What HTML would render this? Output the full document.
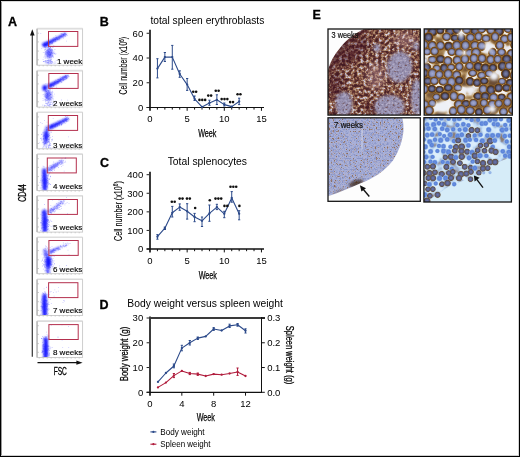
<!DOCTYPE html>
<html><head><meta charset="utf-8"><style>
html,body{margin:0;padding:0;background:#fff;width:520px;height:457px;overflow:hidden}
svg{display:block;will-change:transform}
text{font-family:"Liberation Sans", sans-serif}
</style></head><body>
<svg width="520" height="457" viewBox="0 0 520 457" font-family='"Liberation Sans", sans-serif'>
<rect width="520" height="457" fill="#fff"/>
<text x="8.1" y="25.5" font-size="12.5" text-anchor="start" fill="#000" font-weight="bold" stroke="#000" stroke-width="0.3">A</text>
<text x="99.8" y="25.5" font-size="12.5" text-anchor="start" fill="#000" font-weight="bold" stroke="#000" stroke-width="0.3">B</text>
<text x="99.9" y="167.1" font-size="12.5" text-anchor="start" fill="#000" font-weight="bold" stroke="#000" stroke-width="0.3">C</text>
<text x="99.5" y="308.9" font-size="12.5" text-anchor="start" fill="#000" font-weight="bold" stroke="#000" stroke-width="0.3">D</text>
<text x="312.6" y="18.9" font-size="12.5" text-anchor="start" fill="#000" font-weight="bold" stroke="#000" stroke-width="0.3">E</text>
<line x1="32.3" y1="33" x2="32.3" y2="356.7" stroke="#333" stroke-width="1.2"/>
<path d="M32.3 29.2 L34.6 35.6 L30 35.6 Z" fill="#111"/>
<line x1="37.5" y1="362.7" x2="78" y2="362.7" stroke="#111" stroke-width="1.2"/>
<path d="M82.6 362.7 L76.4 360.6 L76.4 364.8 Z" fill="#111"/>
<text transform="translate(22.5,193) rotate(-90)" x="0" y="0" font-size="11" text-anchor="middle" fill="#000" textLength="17.5" lengthAdjust="spacingAndGlyphs" dy="3.8" stroke="#000" stroke-width="0.3">CD44</text>
<text x="60.3" y="375.2" font-size="10.9" text-anchor="middle" fill="#000" textLength="13.2" lengthAdjust="spacingAndGlyphs" stroke="#000" stroke-width="0.3">FSC</text>
<defs><filter id="fb" x="-30%" y="-30%" width="160%" height="160%"><feGaussianBlur stdDeviation="1.05"/></filter></defs>
<g>
<rect x="37.2" y="28.8" width="45.4" height="36.40" fill="#fff" stroke="#c8c8c8" stroke-width="0.9"/>
<line x1="37.2" y1="28.5" x2="82.6" y2="28.5" stroke="#dedede" stroke-width="1.4"/>
<line x1="37.0" y1="28.8" x2="37.0" y2="65.2" stroke="#b4b4b4" stroke-width="1.3"/>
<line x1="37.6" y1="33.2" x2="38.800000000000004" y2="33.2" stroke="#999" stroke-width="0.6"/>
<line x1="37.6" y1="41.9" x2="38.800000000000004" y2="41.9" stroke="#999" stroke-width="0.6"/>
<line x1="37.6" y1="51.1" x2="38.800000000000004" y2="51.1" stroke="#999" stroke-width="0.6"/>
<line x1="37.6" y1="59.8" x2="38.800000000000004" y2="59.8" stroke="#999" stroke-width="0.6"/>
<line x1="39.2" y1="65.2" x2="39.2" y2="66.4" stroke="#aaa" stroke-width="0.5"/>
<line x1="43.2" y1="65.2" x2="43.2" y2="66.4" stroke="#aaa" stroke-width="0.5"/>
<line x1="47.2" y1="65.2" x2="47.2" y2="66.4" stroke="#aaa" stroke-width="0.5"/>
<line x1="51.2" y1="65.2" x2="51.2" y2="66.4" stroke="#aaa" stroke-width="0.5"/>
<line x1="55.2" y1="65.2" x2="55.2" y2="66.4" stroke="#aaa" stroke-width="0.5"/>
<line x1="59.2" y1="65.2" x2="59.2" y2="66.4" stroke="#aaa" stroke-width="0.5"/>
<line x1="63.2" y1="65.2" x2="63.2" y2="66.4" stroke="#aaa" stroke-width="0.5"/>
<line x1="67.2" y1="65.2" x2="67.2" y2="66.4" stroke="#aaa" stroke-width="0.5"/>
<line x1="71.2" y1="65.2" x2="71.2" y2="66.4" stroke="#aaa" stroke-width="0.5"/>
<line x1="75.2" y1="65.2" x2="75.2" y2="66.4" stroke="#aaa" stroke-width="0.5"/>
<line x1="79.2" y1="65.2" x2="79.2" y2="66.4" stroke="#aaa" stroke-width="0.5"/>
<clipPath id="pc0"><rect x="37.6" y="29.2" width="44.6" height="35.60"/></clipPath>
<g clip-path="url(#pc0)"><g filter="url(#fb)">
<linearGradient id="g0_0" gradientUnits="userSpaceOnUse" x1="43.2" y1="45.3" x2="66.0" y2="33.8"><stop offset="0" stop-color="#0a0aff" stop-opacity="1.0"/><stop offset="1" stop-color="#0a0aff" stop-opacity="0.75"/></linearGradient>
<path d="M44.0 47.0 L49.9 43.9 L57.8 39.6 L66.5 34.8 L65.5 32.8 L56.6 37.2 L48.5 40.9 L42.4 43.6Z" fill="url(#g0_0)"/>
<ellipse cx="45.2" cy="44.8" rx="2.8" ry="2.3" fill="#1414ff" fill-opacity="1.0"/>
<ellipse cx="45.2" cy="44.8" rx="2.0" ry="1.7" fill="#1414ff" fill-opacity="1.0"/>
<ellipse cx="49.2" cy="53.3" rx="3.2" ry="4.8" fill="#1414ff" fill-opacity="0.55"/>
<ellipse cx="48.2" cy="62.3" rx="3" ry="1.5" fill="#1414ff" fill-opacity="0.3"/>
</g>
<path d="M59.1 37.2h.8v.8h-.8zM48.6 43.3h.8v.8h-.8zM43.1 44.6h.8v.8h-.8zM54.5 38.8h.8v.8h-.8zM48.1 42.1h.8v.8h-.8zM55.5 39.3h.8v.8h-.8zM58.7 39.6h.8v.8h-.8zM46.8 45.1h.8v.8h-.8zM44.7 47.0h.8v.8h-.8zM63.9 33.3h.8v.8h-.8zM54.8 40.6h.8v.8h-.8zM48.6 42.5h.8v.8h-.8zM52.1 41.3h.8v.8h-.8zM47.7 43.5h.8v.8h-.8zM53.3 40.0h.8v.8h-.8zM60.9 36.8h.8v.8h-.8zM53.4 37.3h.8v.8h-.8zM55.5 39.2h.8v.8h-.8zM48.7 41.2h.8v.8h-.8zM51.8 43.4h.8v.8h-.8zM55.9 37.1h.8v.8h-.8zM45.5 42.3h.8v.8h-.8zM52.2 41.9h.8v.8h-.8zM47.3 42.3h.8v.8h-.8zM63.1 34.8h.8v.8h-.8zM62.6 34.0h.8v.8h-.8zM57.0 39.0h.8v.8h-.8zM62.5 33.8h.8v.8h-.8zM63.0 34.7h.8v.8h-.8zM52.9 39.6h.8v.8h-.8zM43.3 45.4h.8v.8h-.8zM54.9 39.7h.8v.8h-.8zM42.5 44.7h.8v.8h-.8zM46.1 43.7h.8v.8h-.8zM52.9 40.6h.8v.8h-.8zM51.2 42.4h.8v.8h-.8zM50.4 41.6h.8v.8h-.8zM63.5 34.3h.8v.8h-.8zM45.2 44.3h.8v.8h-.8zM47.1 42.3h.8v.8h-.8zM43.8 43.5h.8v.8h-.8zM53.6 38.3h.8v.8h-.8zM49.0 44.7h.8v.8h-.8zM52.7 41.1h.8v.8h-.8zM48.9 41.2h.8v.8h-.8zM54.2 39.0h.8v.8h-.8zM55.2 40.4h.8v.8h-.8zM56.3 36.7h.8v.8h-.8zM52.4 38.6h.8v.8h-.8zM54.6 38.7h.8v.8h-.8zM48.5 41.2h.8v.8h-.8zM60.3 36.3h.8v.8h-.8zM50.4 42.0h.8v.8h-.8zM44.1 42.7h.8v.8h-.8zM49.6 54.0h.8v.8h-.8zM45.5 57.2h.8v.8h-.8zM53.1 41.1h.8v.8h-.8zM48.4 47.0h.8v.8h-.8zM46.8 45.3h.8v.8h-.8zM46.1 53.5h.8v.8h-.8zM47.1 53.5h.8v.8h-.8zM50.9 53.3h.8v.8h-.8zM48.5 51.3h.8v.8h-.8zM45.4 51.0h.8v.8h-.8zM48.8 51.9h.8v.8h-.8zM49.5 48.4h.8v.8h-.8zM50.7 46.3h.8v.8h-.8zM47.4 52.6h.8v.8h-.8zM50.7 59.1h.8v.8h-.8zM48.8 42.4h.8v.8h-.8zM52.8 52.1h.8v.8h-.8zM48.5 48.1h.8v.8h-.8zM52.0 50.3h.8v.8h-.8zM50.3 52.4h.8v.8h-.8zM49.0 55.2h.8v.8h-.8zM42.9 52.3h.8v.8h-.8zM51.3 41.4h.8v.8h-.8zM52.4 55.2h.8v.8h-.8zM51.7 62.6h.8v.8h-.8zM49.1 60.4h.8v.8h-.8zM52.1 47.0h.8v.8h-.8zM52.1 56.0h.8v.8h-.8zM52.3 49.7h.8v.8h-.8zM49.9 49.6h.8v.8h-.8zM48.0 59.3h.8v.8h-.8zM53.5 53.2h.8v.8h-.8zM44.6 47.3h.8v.8h-.8zM50.9 52.3h.8v.8h-.8zM52.4 53.7h.8v.8h-.8zM44.7 49.1h.8v.8h-.8zM51.2 63.1h.8v.8h-.8zM51.1 51.5h.8v.8h-.8zM43.5 56.7h.8v.8h-.8zM44.5 55.5h.8v.8h-.8zM42.7 59.3h.8v.8h-.8zM44.2 49.8h.8v.8h-.8zM50.2 47.0h.8v.8h-.8zM47.7 51.0h.8v.8h-.8zM52.9 57.0h.8v.8h-.8zM48.4 54.2h.8v.8h-.8zM55.6 53.5h.8v.8h-.8zM48.6 57.9h.8v.8h-.8zM49.4 51.5h.8v.8h-.8zM51.1 56.5h.8v.8h-.8zM47.3 56.2h.8v.8h-.8zM47.4 55.5h.8v.8h-.8zM47.1 49.7h.8v.8h-.8zM51.2 53.3h.8v.8h-.8zM52.7 55.7h.8v.8h-.8zM48.5 54.7h.8v.8h-.8zM43.1 61.3h.8v.8h-.8zM49.9 60.5h.8v.8h-.8zM46.8 60.3h.8v.8h-.8zM45.3 60.1h.8v.8h-.8zM48.6 61.5h.8v.8h-.8zM48.0 60.2h.8v.8h-.8zM52.5 62.2h.8v.8h-.8zM51.8 60.9h.8v.8h-.8zM52.2 62.4h.8v.8h-.8zM50.5 62.3h.8v.8h-.8zM49.6 63.1h.8v.8h-.8zM47.8 59.7h.8v.8h-.8zM50.2 59.9h.8v.8h-.8zM69.5 60.5h.8v.8h-.8zM52.3 61.9h.8v.8h-.8zM40.4 33.3h.8v.8h-.8zM61.6 33.5h.8v.8h-.8z" fill="#2020ff" fill-opacity="0.3"/>
<path d="M62.6 36.0h.8v.8h-.8zM51.5 43.5h.8v.8h-.8zM61.0 36.1h.8v.8h-.8zM50.0 42.3h.8v.8h-.8zM53.7 40.0h.8v.8h-.8zM64.4 32.5h.8v.8h-.8zM64.9 32.9h.8v.8h-.8zM56.5 38.5h.8v.8h-.8zM54.5 39.2h.8v.8h-.8zM58.7 38.1h.8v.8h-.8zM48.1 41.4h.8v.8h-.8zM59.8 37.7h.8v.8h-.8zM44.1 45.6h.8v.8h-.8zM48.7 42.4h.8v.8h-.8zM63.2 37.6h.8v.8h-.8zM47.3 42.4h.8v.8h-.8zM60.9 33.7h.8v.8h-.8zM44.5 44.5h.8v.8h-.8zM44.3 42.8h.8v.8h-.8zM65.0 34.3h.8v.8h-.8zM55.9 37.9h.8v.8h-.8zM51.3 40.4h.8v.8h-.8zM45.8 45.4h.8v.8h-.8zM57.2 38.1h.8v.8h-.8zM57.2 37.3h.8v.8h-.8zM66.7 35.3h.8v.8h-.8zM46.4 44.7h.8v.8h-.8zM55.1 39.1h.8v.8h-.8zM57.7 39.1h.8v.8h-.8zM52.4 39.6h.8v.8h-.8zM60.7 33.1h.8v.8h-.8zM51.9 43.1h.8v.8h-.8zM50.5 39.8h.8v.8h-.8zM65.0 35.9h.8v.8h-.8zM55.9 37.4h.8v.8h-.8zM55.3 37.1h.8v.8h-.8zM56.1 38.2h.8v.8h-.8zM46.6 43.5h.8v.8h-.8zM61.7 36.3h.8v.8h-.8zM53.0 40.4h.8v.8h-.8zM57.3 38.1h.8v.8h-.8zM59.2 37.9h.8v.8h-.8zM51.7 40.3h.8v.8h-.8zM63.9 33.6h.8v.8h-.8zM51.0 42.8h.8v.8h-.8zM66.0 33.9h.8v.8h-.8zM63.1 34.0h.8v.8h-.8zM54.5 41.1h.8v.8h-.8zM63.3 34.6h.8v.8h-.8zM55.4 38.1h.8v.8h-.8zM60.1 36.4h.8v.8h-.8zM56.9 38.7h.8v.8h-.8zM52.3 39.7h.8v.8h-.8zM54.4 52.4h.8v.8h-.8zM54.5 49.1h.8v.8h-.8zM51.5 49.5h.8v.8h-.8zM50.7 49.0h.8v.8h-.8zM46.5 60.0h.8v.8h-.8zM48.1 53.7h.8v.8h-.8zM49.1 59.6h.8v.8h-.8zM47.5 50.5h.8v.8h-.8zM49.9 53.0h.8v.8h-.8zM49.9 53.8h.8v.8h-.8zM48.4 44.5h.8v.8h-.8zM48.2 49.4h.8v.8h-.8zM49.9 54.4h.8v.8h-.8zM50.5 54.9h.8v.8h-.8zM51.0 55.7h.8v.8h-.8zM52.0 54.9h.8v.8h-.8zM50.3 47.1h.8v.8h-.8zM50.0 61.7h.8v.8h-.8zM47.3 55.7h.8v.8h-.8zM49.0 57.1h.8v.8h-.8zM50.2 49.3h.8v.8h-.8zM44.4 52.2h.8v.8h-.8zM51.7 55.5h.8v.8h-.8zM48.9 56.2h.8v.8h-.8zM50.0 57.3h.8v.8h-.8zM48.8 53.6h.8v.8h-.8zM46.5 53.0h.8v.8h-.8zM46.6 55.3h.8v.8h-.8zM50.6 51.7h.8v.8h-.8zM46.8 54.7h.8v.8h-.8zM49.4 52.2h.8v.8h-.8zM55.5 62.8h.8v.8h-.8zM46.5 54.3h.8v.8h-.8zM51.1 50.4h.8v.8h-.8zM50.6 49.8h.8v.8h-.8zM47.1 52.2h.8v.8h-.8zM48.5 52.2h.8v.8h-.8zM54.6 61.5h.8v.8h-.8zM48.7 55.8h.8v.8h-.8zM47.1 52.3h.8v.8h-.8zM49.9 58.8h.8v.8h-.8zM45.8 51.5h.8v.8h-.8zM50.0 53.3h.8v.8h-.8zM44.5 53.7h.8v.8h-.8zM47.3 60.3h.8v.8h-.8zM48.0 53.4h.8v.8h-.8zM48.5 56.2h.8v.8h-.8zM50.0 54.3h.8v.8h-.8zM53.4 45.0h.8v.8h-.8zM53.1 46.7h.8v.8h-.8zM46.6 44.5h.8v.8h-.8zM50.1 60.9h.8v.8h-.8zM45.8 55.8h.8v.8h-.8zM50.2 54.3h.8v.8h-.8zM50.3 55.6h.8v.8h-.8zM45.4 61.2h.8v.8h-.8zM47.9 60.5h.8v.8h-.8zM48.1 63.6h.8v.8h-.8zM50.6 59.7h.8v.8h-.8zM46.8 58.0h.8v.8h-.8zM42.9 61.0h.8v.8h-.8zM50.1 60.8h.8v.8h-.8zM51.7 60.9h.8v.8h-.8zM50.5 60.9h.8v.8h-.8zM43.0 61.3h.8v.8h-.8zM50.6 59.8h.8v.8h-.8zM46.9 62.4h.8v.8h-.8zM48.1 63.4h.8v.8h-.8zM41.3 47.9h.8v.8h-.8zM47.5 41.9h.8v.8h-.8zM49.5 47.9h.8v.8h-.8zM53.5 63.5h.8v.8h-.8z" fill="#2020ff" fill-opacity="0.3"/>
<path d="M59.5 35.5h.8v.8h-.8zM61.3 34.9h.8v.8h-.8zM59.2 36.1h.8v.8h-.8zM49.5 44.3h.8v.8h-.8zM54.0 38.3h.8v.8h-.8zM59.7 35.0h.8v.8h-.8zM48.4 44.0h.8v.8h-.8zM43.6 45.4h.8v.8h-.8zM53.5 39.3h.8v.8h-.8zM55.5 41.0h.8v.8h-.8zM41.9 44.2h.8v.8h-.8zM47.6 42.8h.8v.8h-.8zM62.8 35.4h.8v.8h-.8zM64.7 35.1h.8v.8h-.8zM58.1 38.6h.8v.8h-.8zM57.0 39.5h.8v.8h-.8zM52.2 42.1h.8v.8h-.8zM52.8 39.0h.8v.8h-.8zM61.9 36.6h.8v.8h-.8zM56.5 37.7h.8v.8h-.8zM58.2 37.3h.8v.8h-.8zM49.1 41.3h.8v.8h-.8zM63.9 35.4h.8v.8h-.8zM49.0 41.7h.8v.8h-.8zM46.6 42.4h.8v.8h-.8zM62.0 34.7h.8v.8h-.8zM47.5 41.2h.8v.8h-.8zM48.1 43.7h.8v.8h-.8zM55.7 39.0h.8v.8h-.8zM46.2 43.4h.8v.8h-.8zM50.1 41.4h.8v.8h-.8zM60.2 36.2h.8v.8h-.8zM45.1 47.7h.8v.8h-.8zM57.9 37.0h.8v.8h-.8zM63.4 34.8h.8v.8h-.8zM59.1 38.6h.8v.8h-.8zM59.0 35.9h.8v.8h-.8zM62.7 34.0h.8v.8h-.8zM60.9 34.8h.8v.8h-.8zM58.7 36.9h.8v.8h-.8zM61.1 35.5h.8v.8h-.8zM48.1 42.1h.8v.8h-.8zM47.2 43.7h.8v.8h-.8zM55.7 39.4h.8v.8h-.8zM65.7 34.3h.8v.8h-.8zM54.9 39.4h.8v.8h-.8zM59.7 36.7h.8v.8h-.8zM63.6 34.0h.8v.8h-.8zM44.0 45.7h.8v.8h-.8zM64.7 33.5h.8v.8h-.8zM58.3 36.6h.8v.8h-.8zM64.8 33.3h.8v.8h-.8zM46.0 41.6h.8v.8h-.8zM49.9 53.7h.8v.8h-.8zM44.8 49.2h.8v.8h-.8zM45.3 52.2h.8v.8h-.8zM52.1 48.9h.8v.8h-.8zM51.5 52.0h.8v.8h-.8zM49.0 53.4h.8v.8h-.8zM54.4 53.2h.8v.8h-.8zM49.0 49.1h.8v.8h-.8zM47.2 49.5h.8v.8h-.8zM45.4 54.1h.8v.8h-.8zM49.5 54.5h.8v.8h-.8zM48.4 51.3h.8v.8h-.8zM48.8 51.8h.8v.8h-.8zM50.0 55.5h.8v.8h-.8zM49.8 47.0h.8v.8h-.8zM44.8 58.0h.8v.8h-.8zM45.6 50.9h.8v.8h-.8zM53.7 53.3h.8v.8h-.8zM50.3 54.3h.8v.8h-.8zM50.8 58.6h.8v.8h-.8zM44.6 56.4h.8v.8h-.8zM47.5 49.9h.8v.8h-.8zM47.5 53.7h.8v.8h-.8zM51.1 61.5h.8v.8h-.8zM47.7 53.6h.8v.8h-.8zM49.8 59.8h.8v.8h-.8zM48.6 57.3h.8v.8h-.8zM47.4 46.9h.8v.8h-.8zM52.1 52.7h.8v.8h-.8zM47.2 56.8h.8v.8h-.8zM51.8 51.0h.8v.8h-.8zM49.4 54.8h.8v.8h-.8zM50.5 50.1h.8v.8h-.8zM48.8 54.8h.8v.8h-.8zM48.2 49.2h.8v.8h-.8zM48.6 57.0h.8v.8h-.8zM51.9 53.3h.8v.8h-.8zM52.6 56.0h.8v.8h-.8zM50.8 56.9h.8v.8h-.8zM51.1 52.3h.8v.8h-.8zM47.5 52.3h.8v.8h-.8zM54.7 53.9h.8v.8h-.8zM49.4 44.8h.8v.8h-.8zM48.3 53.5h.8v.8h-.8zM54.4 62.7h.8v.8h-.8zM49.0 53.5h.8v.8h-.8zM46.2 52.1h.8v.8h-.8zM51.2 48.8h.8v.8h-.8zM53.6 50.8h.8v.8h-.8zM47.3 51.4h.8v.8h-.8zM51.3 52.5h.8v.8h-.8zM48.2 47.1h.8v.8h-.8zM48.6 46.9h.8v.8h-.8zM47.4 44.9h.8v.8h-.8zM51.0 54.0h.8v.8h-.8zM45.1 53.1h.8v.8h-.8zM49.5 48.3h.8v.8h-.8zM48.5 60.6h.8v.8h-.8zM55.9 60.0h.8v.8h-.8zM46.7 61.7h.8v.8h-.8zM43.9 61.1h.8v.8h-.8zM50.6 62.8h.8v.8h-.8zM44.7 60.4h.8v.8h-.8zM51.0 60.7h.8v.8h-.8zM47.9 62.4h.8v.8h-.8zM48.2 62.0h.8v.8h-.8zM45.4 61.6h.8v.8h-.8zM47.4 62.0h.8v.8h-.8zM45.3 61.4h.8v.8h-.8zM65.7 59.6h.8v.8h-.8zM66.2 40.8h.8v.8h-.8zM55.4 34.9h.8v.8h-.8zM46.2 50.3h.8v.8h-.8z" fill="#2020ff" fill-opacity="0.3"/>
</g>
<rect x="48.5" y="31.50" width="29.3" height="14.9" fill="none" stroke="#b4304e" stroke-width="1"/>
<text x="82.3" y="63.6" font-size="8" text-anchor="end" fill="#000" stroke="#000" stroke-width="0.15">1 week</text>
<rect x="37.2" y="70.8" width="45.4" height="36.30" fill="#fff" stroke="#c8c8c8" stroke-width="0.9"/>
<line x1="37.2" y1="70.5" x2="82.6" y2="70.5" stroke="#dedede" stroke-width="1.4"/>
<line x1="37.0" y1="70.8" x2="37.0" y2="107.1" stroke="#b4b4b4" stroke-width="1.3"/>
<line x1="37.6" y1="75.2" x2="38.800000000000004" y2="75.2" stroke="#999" stroke-width="0.6"/>
<line x1="37.6" y1="83.89999999999999" x2="38.800000000000004" y2="83.89999999999999" stroke="#999" stroke-width="0.6"/>
<line x1="37.6" y1="93.1" x2="38.800000000000004" y2="93.1" stroke="#999" stroke-width="0.6"/>
<line x1="37.6" y1="101.8" x2="38.800000000000004" y2="101.8" stroke="#999" stroke-width="0.6"/>
<line x1="39.2" y1="107.1" x2="39.2" y2="108.3" stroke="#aaa" stroke-width="0.5"/>
<line x1="43.2" y1="107.1" x2="43.2" y2="108.3" stroke="#aaa" stroke-width="0.5"/>
<line x1="47.2" y1="107.1" x2="47.2" y2="108.3" stroke="#aaa" stroke-width="0.5"/>
<line x1="51.2" y1="107.1" x2="51.2" y2="108.3" stroke="#aaa" stroke-width="0.5"/>
<line x1="55.2" y1="107.1" x2="55.2" y2="108.3" stroke="#aaa" stroke-width="0.5"/>
<line x1="59.2" y1="107.1" x2="59.2" y2="108.3" stroke="#aaa" stroke-width="0.5"/>
<line x1="63.2" y1="107.1" x2="63.2" y2="108.3" stroke="#aaa" stroke-width="0.5"/>
<line x1="67.2" y1="107.1" x2="67.2" y2="108.3" stroke="#aaa" stroke-width="0.5"/>
<line x1="71.2" y1="107.1" x2="71.2" y2="108.3" stroke="#aaa" stroke-width="0.5"/>
<line x1="75.2" y1="107.1" x2="75.2" y2="108.3" stroke="#aaa" stroke-width="0.5"/>
<line x1="79.2" y1="107.1" x2="79.2" y2="108.3" stroke="#aaa" stroke-width="0.5"/>
<clipPath id="pc1"><rect x="37.6" y="71.2" width="44.6" height="35.50"/></clipPath>
<g clip-path="url(#pc1)"><g filter="url(#fb)">
<linearGradient id="g1_0" gradientUnits="userSpaceOnUse" x1="48.2" y1="86.4" x2="67.4" y2="75.9"><stop offset="0" stop-color="#0a0aff" stop-opacity="1.0"/><stop offset="1" stop-color="#0a0aff" stop-opacity="0.75"/></linearGradient>
<path d="M49.0 88.0 L57.9 83.1 L68.0 76.9 L66.8 74.9 L56.5 80.5 L47.4 84.8Z" fill="url(#g1_0)"/>
<ellipse cx="44.800000000000004" cy="87.9" rx="2.4" ry="2.8" fill="#1414ff" fill-opacity="1.0"/>
<ellipse cx="44.800000000000004" cy="87.9" rx="1.7" ry="2.0" fill="#1414ff" fill-opacity="1.0"/>
<ellipse cx="48.2" cy="95.8" rx="2.8" ry="5.2" fill="#1414ff" fill-opacity="0.55"/>
</g>
<path d="M60.9 79.0h.8v.8h-.8zM67.5 76.6h.8v.8h-.8zM51.5 85.5h.8v.8h-.8zM62.4 79.2h.8v.8h-.8zM53.3 84.9h.8v.8h-.8zM62.4 80.3h.8v.8h-.8zM64.6 76.0h.8v.8h-.8zM57.5 82.4h.8v.8h-.8zM53.6 84.7h.8v.8h-.8zM55.8 82.9h.8v.8h-.8zM59.8 76.5h.8v.8h-.8zM67.6 75.2h.8v.8h-.8zM64.3 76.7h.8v.8h-.8zM55.7 82.3h.8v.8h-.8zM59.1 80.2h.8v.8h-.8zM63.8 77.2h.8v.8h-.8zM56.6 83.1h.8v.8h-.8zM60.7 79.5h.8v.8h-.8zM65.5 77.8h.8v.8h-.8zM63.2 78.6h.8v.8h-.8zM53.6 84.0h.8v.8h-.8zM59.9 80.1h.8v.8h-.8zM56.8 81.0h.8v.8h-.8zM52.9 84.5h.8v.8h-.8zM54.3 82.6h.8v.8h-.8zM53.4 85.7h.8v.8h-.8zM57.4 82.6h.8v.8h-.8zM60.9 79.2h.8v.8h-.8zM57.0 81.1h.8v.8h-.8zM65.1 78.9h.8v.8h-.8zM56.6 82.7h.8v.8h-.8zM61.1 77.3h.8v.8h-.8zM66.2 76.7h.8v.8h-.8zM65.6 75.5h.8v.8h-.8zM54.2 83.8h.8v.8h-.8zM58.3 81.4h.8v.8h-.8zM61.7 77.5h.8v.8h-.8zM51.9 87.2h.8v.8h-.8zM57.4 82.0h.8v.8h-.8zM58.7 79.3h.8v.8h-.8zM63.6 79.1h.8v.8h-.8zM66.7 75.1h.8v.8h-.8zM58.4 80.8h.8v.8h-.8zM60.9 78.9h.8v.8h-.8zM65.4 75.3h.8v.8h-.8zM53.0 85.0h.8v.8h-.8zM63.0 79.9h.8v.8h-.8zM66.3 78.3h.8v.8h-.8zM60.2 78.3h.8v.8h-.8zM50.7 83.6h.8v.8h-.8zM49.7 92.7h.8v.8h-.8zM49.3 93.0h.8v.8h-.8zM48.6 90.2h.8v.8h-.8zM50.0 104.5h.8v.8h-.8zM48.1 90.0h.8v.8h-.8zM45.6 95.0h.8v.8h-.8zM51.3 92.1h.8v.8h-.8zM44.8 96.4h.8v.8h-.8zM45.2 89.9h.8v.8h-.8zM50.0 94.2h.8v.8h-.8zM46.7 93.9h.8v.8h-.8zM45.7 96.3h.8v.8h-.8zM50.1 104.0h.8v.8h-.8zM52.1 92.7h.8v.8h-.8zM48.6 94.8h.8v.8h-.8zM48.8 101.6h.8v.8h-.8zM43.2 89.8h.8v.8h-.8zM45.5 94.1h.8v.8h-.8zM46.7 91.4h.8v.8h-.8zM50.4 95.6h.8v.8h-.8zM47.2 93.7h.8v.8h-.8zM52.5 98.2h.8v.8h-.8zM50.2 101.9h.8v.8h-.8zM46.6 95.1h.8v.8h-.8zM51.3 99.4h.8v.8h-.8zM43.7 99.4h.8v.8h-.8zM47.9 102.6h.8v.8h-.8zM47.1 96.4h.8v.8h-.8zM44.9 99.1h.8v.8h-.8zM47.0 103.4h.8v.8h-.8zM52.3 97.4h.8v.8h-.8zM48.2 96.0h.8v.8h-.8zM45.2 93.4h.8v.8h-.8zM48.3 87.5h.8v.8h-.8zM51.5 99.0h.8v.8h-.8zM50.2 97.8h.8v.8h-.8zM47.7 94.4h.8v.8h-.8zM48.5 90.2h.8v.8h-.8zM46.3 93.3h.8v.8h-.8zM51.0 84.9h.8v.8h-.8zM46.0 97.3h.8v.8h-.8zM48.5 103.9h.8v.8h-.8zM48.9 100.0h.8v.8h-.8zM48.7 90.8h.8v.8h-.8zM46.8 93.1h.8v.8h-.8zM48.8 102.7h.8v.8h-.8zM48.0 94.6h.8v.8h-.8zM47.5 94.7h.8v.8h-.8zM48.6 94.0h.8v.8h-.8zM45.4 103.1h.8v.8h-.8zM43.7 89.6h.8v.8h-.8zM42.6 98.2h.8v.8h-.8zM44.6 91.0h.8v.8h-.8zM46.1 91.4h.8v.8h-.8zM46.2 97.4h.8v.8h-.8zM52.9 105.7h.8v.8h-.8zM46.4 103.4h.8v.8h-.8zM50.0 100.5h.8v.8h-.8zM42.1 104.8h.8v.8h-.8zM48.5 105.0h.8v.8h-.8zM47.1 103.4h.8v.8h-.8zM44.0 105.6h.8v.8h-.8zM48.7 101.7h.8v.8h-.8zM49.4 102.8h.8v.8h-.8zM50.3 105.9h.8v.8h-.8zM51.7 84.7h.8v.8h-.8zM45.5 83.3h.8v.8h-.8zM51.0 97.3h.8v.8h-.8zM48.6 105.0h.8v.8h-.8z" fill="#2020ff" fill-opacity="0.3"/>
<path d="M60.0 79.4h.8v.8h-.8zM67.8 74.7h.8v.8h-.8zM56.9 81.3h.8v.8h-.8zM60.0 78.8h.8v.8h-.8zM64.0 79.0h.8v.8h-.8zM53.1 84.4h.8v.8h-.8zM59.3 80.7h.8v.8h-.8zM61.7 78.8h.8v.8h-.8zM51.1 86.2h.8v.8h-.8zM61.0 81.9h.8v.8h-.8zM53.3 83.2h.8v.8h-.8zM58.8 81.0h.8v.8h-.8zM54.7 81.5h.8v.8h-.8zM62.1 77.3h.8v.8h-.8zM66.0 75.8h.8v.8h-.8zM60.5 79.3h.8v.8h-.8zM51.5 84.2h.8v.8h-.8zM51.3 87.8h.8v.8h-.8zM68.5 76.0h.8v.8h-.8zM52.5 84.9h.8v.8h-.8zM64.3 76.5h.8v.8h-.8zM56.5 81.2h.8v.8h-.8zM54.9 83.9h.8v.8h-.8zM62.4 76.2h.8v.8h-.8zM50.5 87.2h.8v.8h-.8zM55.9 84.4h.8v.8h-.8zM57.8 81.3h.8v.8h-.8zM53.8 83.0h.8v.8h-.8zM65.7 78.6h.8v.8h-.8zM54.4 81.6h.8v.8h-.8zM59.2 80.6h.8v.8h-.8zM50.6 85.9h.8v.8h-.8zM51.0 85.5h.8v.8h-.8zM49.8 85.7h.8v.8h-.8zM50.8 85.0h.8v.8h-.8zM54.2 84.5h.8v.8h-.8zM63.6 76.0h.8v.8h-.8zM58.5 81.1h.8v.8h-.8zM64.9 76.1h.8v.8h-.8zM51.0 84.3h.8v.8h-.8zM63.4 79.0h.8v.8h-.8zM63.5 77.2h.8v.8h-.8zM65.1 76.6h.8v.8h-.8zM63.4 76.6h.8v.8h-.8zM57.5 81.3h.8v.8h-.8zM65.0 75.0h.8v.8h-.8zM58.2 81.4h.8v.8h-.8zM49.5 84.9h.8v.8h-.8zM51.9 85.3h.8v.8h-.8zM57.9 79.2h.8v.8h-.8zM49.8 98.5h.8v.8h-.8zM42.6 94.4h.8v.8h-.8zM45.3 100.4h.8v.8h-.8zM49.8 92.4h.8v.8h-.8zM45.8 102.8h.8v.8h-.8zM47.7 85.2h.8v.8h-.8zM47.9 105.1h.8v.8h-.8zM47.3 100.2h.8v.8h-.8zM52.4 92.2h.8v.8h-.8zM50.3 97.2h.8v.8h-.8zM43.7 93.7h.8v.8h-.8zM49.4 89.0h.8v.8h-.8zM50.4 94.1h.8v.8h-.8zM48.5 88.7h.8v.8h-.8zM51.7 91.3h.8v.8h-.8zM46.9 93.5h.8v.8h-.8zM48.9 95.3h.8v.8h-.8zM47.8 91.7h.8v.8h-.8zM50.1 93.9h.8v.8h-.8zM52.9 99.6h.8v.8h-.8zM45.0 101.4h.8v.8h-.8zM46.5 97.8h.8v.8h-.8zM48.6 98.0h.8v.8h-.8zM47.2 95.4h.8v.8h-.8zM56.0 86.7h.8v.8h-.8zM45.0 96.6h.8v.8h-.8zM47.0 103.4h.8v.8h-.8zM47.9 83.1h.8v.8h-.8zM45.2 90.6h.8v.8h-.8zM45.8 95.5h.8v.8h-.8zM47.9 92.9h.8v.8h-.8zM50.1 99.0h.8v.8h-.8zM44.7 99.7h.8v.8h-.8zM45.9 96.2h.8v.8h-.8zM47.0 87.7h.8v.8h-.8zM49.9 89.8h.8v.8h-.8zM51.1 93.9h.8v.8h-.8zM46.0 90.8h.8v.8h-.8zM45.8 96.4h.8v.8h-.8zM49.1 92.7h.8v.8h-.8zM46.0 94.8h.8v.8h-.8zM46.0 93.3h.8v.8h-.8zM47.8 98.9h.8v.8h-.8zM48.9 98.7h.8v.8h-.8zM42.6 100.0h.8v.8h-.8zM49.3 89.7h.8v.8h-.8zM46.7 91.8h.8v.8h-.8zM50.4 93.6h.8v.8h-.8zM47.1 94.2h.8v.8h-.8zM44.5 92.6h.8v.8h-.8zM48.2 98.6h.8v.8h-.8zM49.4 86.0h.8v.8h-.8zM50.9 97.4h.8v.8h-.8zM48.9 106.0h.8v.8h-.8zM51.5 101.8h.8v.8h-.8zM48.9 104.8h.8v.8h-.8zM47.2 105.1h.8v.8h-.8zM46.4 102.9h.8v.8h-.8zM46.1 105.6h.8v.8h-.8zM52.5 105.0h.8v.8h-.8zM44.9 105.3h.8v.8h-.8zM47.7 102.6h.8v.8h-.8zM47.4 92.3h.8v.8h-.8zM67.3 99.7h.8v.8h-.8zM61.0 99.6h.8v.8h-.8zM50.7 96.6h.8v.8h-.8z" fill="#2020ff" fill-opacity="0.3"/>
<path d="M56.3 82.8h.8v.8h-.8zM51.3 85.1h.8v.8h-.8zM62.7 76.8h.8v.8h-.8zM58.8 80.7h.8v.8h-.8zM50.3 86.8h.8v.8h-.8zM59.4 79.3h.8v.8h-.8zM50.1 84.6h.8v.8h-.8zM49.9 84.0h.8v.8h-.8zM59.7 80.6h.8v.8h-.8zM57.6 83.1h.8v.8h-.8zM68.5 76.3h.8v.8h-.8zM57.8 82.4h.8v.8h-.8zM63.3 80.0h.8v.8h-.8zM55.3 82.6h.8v.8h-.8zM49.9 85.9h.8v.8h-.8zM56.9 82.1h.8v.8h-.8zM54.5 83.5h.8v.8h-.8zM62.4 78.3h.8v.8h-.8zM65.5 76.8h.8v.8h-.8zM66.1 77.6h.8v.8h-.8zM66.5 76.5h.8v.8h-.8zM52.6 85.2h.8v.8h-.8zM53.3 86.0h.8v.8h-.8zM65.2 75.4h.8v.8h-.8zM54.5 82.1h.8v.8h-.8zM61.5 81.8h.8v.8h-.8zM54.2 83.4h.8v.8h-.8zM56.9 81.1h.8v.8h-.8zM54.3 81.3h.8v.8h-.8zM65.4 77.1h.8v.8h-.8zM66.4 77.9h.8v.8h-.8zM50.5 83.6h.8v.8h-.8zM55.2 79.8h.8v.8h-.8zM52.8 85.7h.8v.8h-.8zM57.9 79.5h.8v.8h-.8zM53.6 84.6h.8v.8h-.8zM60.0 81.1h.8v.8h-.8zM60.8 80.9h.8v.8h-.8zM54.7 83.3h.8v.8h-.8zM59.2 80.4h.8v.8h-.8zM55.4 83.5h.8v.8h-.8zM58.6 81.6h.8v.8h-.8zM52.8 82.5h.8v.8h-.8zM57.4 79.1h.8v.8h-.8zM57.6 81.5h.8v.8h-.8zM55.4 81.8h.8v.8h-.8zM66.2 76.2h.8v.8h-.8zM67.7 74.7h.8v.8h-.8zM60.5 81.1h.8v.8h-.8zM52.2 84.4h.8v.8h-.8zM43.6 94.3h.8v.8h-.8zM50.2 103.4h.8v.8h-.8zM51.4 100.5h.8v.8h-.8zM52.3 103.3h.8v.8h-.8zM43.8 96.2h.8v.8h-.8zM51.6 95.6h.8v.8h-.8zM45.0 94.5h.8v.8h-.8zM48.8 91.5h.8v.8h-.8zM49.5 92.4h.8v.8h-.8zM48.9 98.7h.8v.8h-.8zM44.5 95.1h.8v.8h-.8zM46.1 91.3h.8v.8h-.8zM52.0 88.5h.8v.8h-.8zM52.3 90.8h.8v.8h-.8zM46.4 98.0h.8v.8h-.8zM46.3 97.0h.8v.8h-.8zM49.6 95.5h.8v.8h-.8zM50.2 98.9h.8v.8h-.8zM45.8 91.0h.8v.8h-.8zM47.7 90.0h.8v.8h-.8zM52.1 94.6h.8v.8h-.8zM52.6 97.8h.8v.8h-.8zM45.9 92.5h.8v.8h-.8zM44.4 105.5h.8v.8h-.8zM49.7 97.8h.8v.8h-.8zM50.9 97.6h.8v.8h-.8zM52.1 94.8h.8v.8h-.8zM45.8 100.1h.8v.8h-.8zM48.2 90.5h.8v.8h-.8zM52.1 96.4h.8v.8h-.8zM51.5 100.4h.8v.8h-.8zM53.4 95.8h.8v.8h-.8zM47.8 92.5h.8v.8h-.8zM46.9 97.7h.8v.8h-.8zM50.0 94.1h.8v.8h-.8zM47.8 86.1h.8v.8h-.8zM47.3 95.6h.8v.8h-.8zM47.6 102.2h.8v.8h-.8zM47.4 96.9h.8v.8h-.8zM45.3 91.6h.8v.8h-.8zM49.3 92.2h.8v.8h-.8zM48.0 91.3h.8v.8h-.8zM51.2 93.4h.8v.8h-.8zM53.9 93.8h.8v.8h-.8zM48.7 105.7h.8v.8h-.8zM44.4 95.2h.8v.8h-.8zM47.2 93.7h.8v.8h-.8zM45.8 97.2h.8v.8h-.8zM48.0 101.5h.8v.8h-.8zM50.2 88.8h.8v.8h-.8zM46.9 96.3h.8v.8h-.8zM47.1 90.3h.8v.8h-.8zM49.7 91.0h.8v.8h-.8zM51.4 93.5h.8v.8h-.8zM52.4 104.0h.8v.8h-.8zM49.7 103.9h.8v.8h-.8zM51.1 104.3h.8v.8h-.8zM46.9 103.9h.8v.8h-.8zM43.7 104.8h.8v.8h-.8zM55.9 102.6h.8v.8h-.8zM54.4 102.7h.8v.8h-.8zM52.7 102.5h.8v.8h-.8zM50.7 102.0h.8v.8h-.8zM49.4 104.7h.8v.8h-.8zM49.0 104.0h.8v.8h-.8zM66.8 77.5h.8v.8h-.8zM54.9 100.6h.8v.8h-.8z" fill="#2020ff" fill-opacity="0.3"/>
</g>
<rect x="48.8" y="73.50" width="29.3" height="14.9" fill="none" stroke="#b4304e" stroke-width="1"/>
<text x="82.3" y="105.6" font-size="8" text-anchor="end" fill="#000" stroke="#000" stroke-width="0.15">2 weeks</text>
<rect x="37.2" y="112.5" width="45.4" height="36.30" fill="#fff" stroke="#c8c8c8" stroke-width="0.9"/>
<line x1="37.2" y1="112.2" x2="82.6" y2="112.2" stroke="#dedede" stroke-width="1.4"/>
<line x1="37.0" y1="112.5" x2="37.0" y2="148.8" stroke="#b4b4b4" stroke-width="1.3"/>
<line x1="37.6" y1="116.9" x2="38.800000000000004" y2="116.9" stroke="#999" stroke-width="0.6"/>
<line x1="37.6" y1="125.6" x2="38.800000000000004" y2="125.6" stroke="#999" stroke-width="0.6"/>
<line x1="37.6" y1="134.8" x2="38.800000000000004" y2="134.8" stroke="#999" stroke-width="0.6"/>
<line x1="37.6" y1="143.5" x2="38.800000000000004" y2="143.5" stroke="#999" stroke-width="0.6"/>
<line x1="39.2" y1="148.8" x2="39.2" y2="150.0" stroke="#aaa" stroke-width="0.5"/>
<line x1="43.2" y1="148.8" x2="43.2" y2="150.0" stroke="#aaa" stroke-width="0.5"/>
<line x1="47.2" y1="148.8" x2="47.2" y2="150.0" stroke="#aaa" stroke-width="0.5"/>
<line x1="51.2" y1="148.8" x2="51.2" y2="150.0" stroke="#aaa" stroke-width="0.5"/>
<line x1="55.2" y1="148.8" x2="55.2" y2="150.0" stroke="#aaa" stroke-width="0.5"/>
<line x1="59.2" y1="148.8" x2="59.2" y2="150.0" stroke="#aaa" stroke-width="0.5"/>
<line x1="63.2" y1="148.8" x2="63.2" y2="150.0" stroke="#aaa" stroke-width="0.5"/>
<line x1="67.2" y1="148.8" x2="67.2" y2="150.0" stroke="#aaa" stroke-width="0.5"/>
<line x1="71.2" y1="148.8" x2="71.2" y2="150.0" stroke="#aaa" stroke-width="0.5"/>
<line x1="75.2" y1="148.8" x2="75.2" y2="150.0" stroke="#aaa" stroke-width="0.5"/>
<line x1="79.2" y1="148.8" x2="79.2" y2="150.0" stroke="#aaa" stroke-width="0.5"/>
<clipPath id="pc2"><rect x="37.6" y="112.9" width="44.6" height="35.50"/></clipPath>
<g clip-path="url(#pc2)"><g filter="url(#fb)">
<linearGradient id="g2_0" gradientUnits="userSpaceOnUse" x1="49.2" y1="127.8" x2="68.3" y2="118.3"><stop offset="0" stop-color="#0a0aff" stop-opacity="1.0"/><stop offset="1" stop-color="#0a0aff" stop-opacity="0.75"/></linearGradient>
<path d="M50.0 129.6 L59.9 124.4 L68.8 119.3 L67.8 117.3 L58.5 121.6 L48.4 126.0Z" fill="url(#g2_0)"/>
<path d="M47.1 128.0 L46.2 135.5 L45.4 142.5" fill="none" stroke="#1414ff" stroke-width="3.8" stroke-linecap="round" stroke-linejoin="round" stroke-opacity="0.6"/>
<ellipse cx="46.2" cy="135.8" rx="2.5" ry="4.5" fill="#1414ff" fill-opacity="0.75"/>
</g>
<path d="M67.1 119.1h.8v.8h-.8zM51.7 124.7h.8v.8h-.8zM63.7 120.7h.8v.8h-.8zM66.1 118.8h.8v.8h-.8zM65.0 119.8h.8v.8h-.8zM54.3 124.1h.8v.8h-.8zM56.3 123.2h.8v.8h-.8zM57.3 124.5h.8v.8h-.8zM65.3 119.8h.8v.8h-.8zM59.0 123.4h.8v.8h-.8zM52.0 125.9h.8v.8h-.8zM51.6 128.0h.8v.8h-.8zM52.9 127.6h.8v.8h-.8zM63.1 121.0h.8v.8h-.8zM51.5 129.8h.8v.8h-.8zM67.4 118.9h.8v.8h-.8zM67.5 120.9h.8v.8h-.8zM54.6 123.4h.8v.8h-.8zM59.0 125.2h.8v.8h-.8zM57.0 123.1h.8v.8h-.8zM55.6 122.8h.8v.8h-.8zM60.7 122.6h.8v.8h-.8zM65.8 119.8h.8v.8h-.8zM61.7 123.1h.8v.8h-.8zM59.0 122.6h.8v.8h-.8zM65.2 117.9h.8v.8h-.8zM52.7 127.2h.8v.8h-.8zM65.6 119.4h.8v.8h-.8zM57.4 123.1h.8v.8h-.8zM66.3 119.2h.8v.8h-.8zM65.2 118.7h.8v.8h-.8zM57.2 125.3h.8v.8h-.8zM57.8 121.4h.8v.8h-.8zM55.4 125.6h.8v.8h-.8zM55.0 124.3h.8v.8h-.8zM54.3 124.0h.8v.8h-.8zM65.5 120.4h.8v.8h-.8zM64.6 119.1h.8v.8h-.8zM64.7 123.2h.8v.8h-.8zM68.8 119.3h.8v.8h-.8zM62.4 120.2h.8v.8h-.8zM60.6 120.8h.8v.8h-.8zM63.1 120.0h.8v.8h-.8zM64.7 120.3h.8v.8h-.8zM59.2 120.6h.8v.8h-.8zM51.6 127.0h.8v.8h-.8zM54.6 125.9h.8v.8h-.8zM57.3 124.2h.8v.8h-.8zM66.8 116.4h.8v.8h-.8zM66.8 118.5h.8v.8h-.8zM43.3 132.2h.8v.8h-.8zM44.5 135.4h.8v.8h-.8zM46.4 140.7h.8v.8h-.8zM45.3 133.7h.8v.8h-.8zM43.9 144.8h.8v.8h-.8zM46.0 138.9h.8v.8h-.8zM43.6 139.4h.8v.8h-.8zM46.5 136.6h.8v.8h-.8zM49.3 129.0h.8v.8h-.8zM45.0 141.4h.8v.8h-.8zM44.8 141.7h.8v.8h-.8zM45.3 133.7h.8v.8h-.8zM45.3 136.6h.8v.8h-.8zM49.1 137.4h.8v.8h-.8zM47.3 141.6h.8v.8h-.8zM45.5 136.0h.8v.8h-.8zM51.8 139.5h.8v.8h-.8zM47.2 139.5h.8v.8h-.8zM42.7 142.0h.8v.8h-.8zM44.1 120.2h.8v.8h-.8zM47.6 138.6h.8v.8h-.8zM42.9 145.6h.8v.8h-.8zM45.6 137.9h.8v.8h-.8zM46.8 136.0h.8v.8h-.8zM46.9 135.5h.8v.8h-.8zM47.2 129.2h.8v.8h-.8zM48.0 136.3h.8v.8h-.8zM46.1 140.4h.8v.8h-.8zM47.0 136.2h.8v.8h-.8zM47.0 139.4h.8v.8h-.8zM45.6 133.6h.8v.8h-.8zM43.0 136.4h.8v.8h-.8zM49.0 142.6h.8v.8h-.8zM46.6 139.0h.8v.8h-.8zM41.3 137.8h.8v.8h-.8zM46.4 145.8h.8v.8h-.8zM47.2 142.2h.8v.8h-.8zM46.0 130.2h.8v.8h-.8zM41.7 133.6h.8v.8h-.8zM46.1 137.6h.8v.8h-.8zM47.3 138.3h.8v.8h-.8zM47.1 141.9h.8v.8h-.8zM49.4 138.0h.8v.8h-.8zM47.4 129.7h.8v.8h-.8zM40.8 137.8h.8v.8h-.8zM50.2 128.0h.8v.8h-.8zM45.7 143.0h.8v.8h-.8zM41.9 147.7h.8v.8h-.8zM43.0 135.0h.8v.8h-.8zM47.4 140.5h.8v.8h-.8zM47.3 137.6h.8v.8h-.8zM45.9 133.4h.8v.8h-.8zM45.5 136.0h.8v.8h-.8zM49.9 145.0h.8v.8h-.8zM48.3 139.0h.8v.8h-.8zM45.2 136.0h.8v.8h-.8zM48.5 146.0h.8v.8h-.8zM48.7 139.5h.8v.8h-.8zM47.2 135.5h.8v.8h-.8zM46.7 140.6h.8v.8h-.8zM48.1 134.3h.8v.8h-.8zM44.7 139.5h.8v.8h-.8zM45.8 132.0h.8v.8h-.8zM42.9 146.4h.8v.8h-.8zM42.7 146.9h.8v.8h-.8zM49.6 145.2h.8v.8h-.8zM51.8 147.5h.8v.8h-.8zM49.4 144.7h.8v.8h-.8zM49.9 147.9h.8v.8h-.8zM44.7 147.3h.8v.8h-.8zM49.4 145.2h.8v.8h-.8zM48.5 125.2h.8v.8h-.8zM45.0 137.6h.8v.8h-.8zM43.1 133.7h.8v.8h-.8zM68.2 136.5h.8v.8h-.8z" fill="#2020ff" fill-opacity="0.3"/>
<path d="M55.6 123.6h.8v.8h-.8zM51.3 124.3h.8v.8h-.8zM63.2 122.4h.8v.8h-.8zM55.2 125.9h.8v.8h-.8zM66.8 120.4h.8v.8h-.8zM59.1 123.3h.8v.8h-.8zM65.8 121.4h.8v.8h-.8zM65.5 120.3h.8v.8h-.8zM60.9 121.4h.8v.8h-.8zM60.5 122.2h.8v.8h-.8zM66.7 118.6h.8v.8h-.8zM66.5 119.0h.8v.8h-.8zM65.9 120.7h.8v.8h-.8zM64.2 118.3h.8v.8h-.8zM63.8 119.4h.8v.8h-.8zM55.4 125.4h.8v.8h-.8zM55.8 123.1h.8v.8h-.8zM50.3 127.8h.8v.8h-.8zM52.0 125.5h.8v.8h-.8zM60.5 122.2h.8v.8h-.8zM63.4 121.1h.8v.8h-.8zM56.7 124.1h.8v.8h-.8zM54.3 126.0h.8v.8h-.8zM52.2 124.6h.8v.8h-.8zM55.2 124.9h.8v.8h-.8zM60.3 121.3h.8v.8h-.8zM59.9 121.0h.8v.8h-.8zM62.8 121.3h.8v.8h-.8zM61.8 121.0h.8v.8h-.8zM65.1 119.7h.8v.8h-.8zM52.2 125.9h.8v.8h-.8zM62.2 121.3h.8v.8h-.8zM62.5 118.4h.8v.8h-.8zM58.4 122.2h.8v.8h-.8zM64.2 120.0h.8v.8h-.8zM59.3 122.0h.8v.8h-.8zM65.6 118.3h.8v.8h-.8zM62.5 120.1h.8v.8h-.8zM68.0 118.1h.8v.8h-.8zM51.2 125.1h.8v.8h-.8zM55.1 123.9h.8v.8h-.8zM51.9 126.6h.8v.8h-.8zM51.8 126.3h.8v.8h-.8zM64.8 119.6h.8v.8h-.8zM55.9 125.7h.8v.8h-.8zM61.1 124.1h.8v.8h-.8zM57.6 123.1h.8v.8h-.8zM63.9 120.2h.8v.8h-.8zM65.9 119.2h.8v.8h-.8zM60.3 122.6h.8v.8h-.8zM44.3 143.5h.8v.8h-.8zM48.8 132.9h.8v.8h-.8zM48.0 145.3h.8v.8h-.8zM46.4 136.4h.8v.8h-.8zM50.9 140.8h.8v.8h-.8zM43.6 132.6h.8v.8h-.8zM45.6 142.6h.8v.8h-.8zM44.6 135.5h.8v.8h-.8zM45.3 135.4h.8v.8h-.8zM46.6 131.7h.8v.8h-.8zM44.4 143.1h.8v.8h-.8zM46.7 138.4h.8v.8h-.8zM41.6 138.7h.8v.8h-.8zM45.9 134.8h.8v.8h-.8zM48.5 136.2h.8v.8h-.8zM46.8 134.1h.8v.8h-.8zM49.7 142.9h.8v.8h-.8zM47.5 136.6h.8v.8h-.8zM45.6 131.6h.8v.8h-.8zM44.8 136.6h.8v.8h-.8zM47.8 144.7h.8v.8h-.8zM49.3 141.3h.8v.8h-.8zM45.7 140.1h.8v.8h-.8zM45.9 135.3h.8v.8h-.8zM42.6 142.0h.8v.8h-.8zM43.9 134.9h.8v.8h-.8zM47.1 135.3h.8v.8h-.8zM46.3 135.2h.8v.8h-.8zM44.4 140.2h.8v.8h-.8zM40.0 138.1h.8v.8h-.8zM45.7 138.3h.8v.8h-.8zM48.1 147.3h.8v.8h-.8zM50.2 142.9h.8v.8h-.8zM46.7 133.6h.8v.8h-.8zM46.2 129.1h.8v.8h-.8zM50.7 131.5h.8v.8h-.8zM44.5 134.5h.8v.8h-.8zM43.7 140.4h.8v.8h-.8zM44.9 137.7h.8v.8h-.8zM46.2 141.0h.8v.8h-.8zM46.3 140.1h.8v.8h-.8zM46.5 143.8h.8v.8h-.8zM43.4 136.5h.8v.8h-.8zM47.5 135.5h.8v.8h-.8zM45.4 135.4h.8v.8h-.8zM49.0 134.7h.8v.8h-.8zM47.5 134.5h.8v.8h-.8zM45.4 134.5h.8v.8h-.8zM45.0 137.9h.8v.8h-.8zM43.6 138.6h.8v.8h-.8zM43.0 138.1h.8v.8h-.8zM48.4 141.1h.8v.8h-.8zM46.5 133.7h.8v.8h-.8zM45.6 145.6h.8v.8h-.8zM52.0 138.7h.8v.8h-.8zM39.0 142.5h.8v.8h-.8zM46.1 142.2h.8v.8h-.8zM43.0 139.3h.8v.8h-.8zM42.4 131.9h.8v.8h-.8zM47.7 131.4h.8v.8h-.8zM43.4 142.5h.8v.8h-.8zM46.5 141.7h.8v.8h-.8zM47.8 146.6h.8v.8h-.8zM48.5 146.9h.8v.8h-.8zM48.7 146.8h.8v.8h-.8zM48.7 147.1h.8v.8h-.8zM49.1 144.1h.8v.8h-.8zM46.3 147.7h.8v.8h-.8zM52.8 117.9h.8v.8h-.8zM46.6 121.8h.8v.8h-.8zM65.0 116.1h.8v.8h-.8zM41.8 123.0h.8v.8h-.8z" fill="#2020ff" fill-opacity="0.3"/>
<path d="M61.2 125.0h.8v.8h-.8zM57.5 123.3h.8v.8h-.8zM50.1 127.0h.8v.8h-.8zM55.4 126.6h.8v.8h-.8zM63.2 121.3h.8v.8h-.8zM65.6 119.9h.8v.8h-.8zM65.6 118.8h.8v.8h-.8zM58.7 123.9h.8v.8h-.8zM54.7 125.0h.8v.8h-.8zM58.0 123.7h.8v.8h-.8zM66.4 116.9h.8v.8h-.8zM59.6 122.2h.8v.8h-.8zM57.5 120.4h.8v.8h-.8zM61.7 123.7h.8v.8h-.8zM62.7 121.2h.8v.8h-.8zM66.4 121.0h.8v.8h-.8zM57.3 125.5h.8v.8h-.8zM54.3 126.6h.8v.8h-.8zM61.7 119.7h.8v.8h-.8zM53.8 126.1h.8v.8h-.8zM58.9 123.8h.8v.8h-.8zM61.0 124.0h.8v.8h-.8zM57.9 123.3h.8v.8h-.8zM65.8 120.1h.8v.8h-.8zM63.5 119.4h.8v.8h-.8zM68.2 118.3h.8v.8h-.8zM61.6 122.2h.8v.8h-.8zM62.9 121.2h.8v.8h-.8zM59.4 121.8h.8v.8h-.8zM63.9 119.2h.8v.8h-.8zM65.5 120.6h.8v.8h-.8zM55.7 124.4h.8v.8h-.8zM51.4 125.3h.8v.8h-.8zM67.9 119.7h.8v.8h-.8zM54.5 126.8h.8v.8h-.8zM62.4 120.6h.8v.8h-.8zM56.3 124.0h.8v.8h-.8zM57.6 124.5h.8v.8h-.8zM58.7 124.1h.8v.8h-.8zM52.7 125.7h.8v.8h-.8zM61.2 124.2h.8v.8h-.8zM63.8 120.9h.8v.8h-.8zM53.4 126.1h.8v.8h-.8zM66.0 120.3h.8v.8h-.8zM57.0 125.9h.8v.8h-.8zM52.7 123.8h.8v.8h-.8zM50.7 126.3h.8v.8h-.8zM63.8 121.4h.8v.8h-.8zM62.7 121.8h.8v.8h-.8zM64.0 122.2h.8v.8h-.8zM51.2 139.2h.8v.8h-.8zM49.7 144.6h.8v.8h-.8zM43.7 143.4h.8v.8h-.8zM43.8 129.5h.8v.8h-.8zM49.0 134.9h.8v.8h-.8zM46.4 135.9h.8v.8h-.8zM46.2 136.0h.8v.8h-.8zM48.0 140.7h.8v.8h-.8zM46.6 135.2h.8v.8h-.8zM49.4 142.5h.8v.8h-.8zM45.7 133.5h.8v.8h-.8zM46.3 134.7h.8v.8h-.8zM48.9 138.9h.8v.8h-.8zM44.8 132.9h.8v.8h-.8zM46.4 136.6h.8v.8h-.8zM44.3 145.8h.8v.8h-.8zM47.5 135.5h.8v.8h-.8zM42.8 130.8h.8v.8h-.8zM42.7 135.9h.8v.8h-.8zM48.3 134.5h.8v.8h-.8zM48.5 140.6h.8v.8h-.8zM43.6 135.2h.8v.8h-.8zM43.3 138.4h.8v.8h-.8zM45.3 141.8h.8v.8h-.8zM48.2 136.1h.8v.8h-.8zM43.7 140.9h.8v.8h-.8zM44.2 131.6h.8v.8h-.8zM46.9 133.7h.8v.8h-.8zM43.6 138.3h.8v.8h-.8zM52.2 136.0h.8v.8h-.8zM44.5 144.4h.8v.8h-.8zM44.9 137.2h.8v.8h-.8zM47.9 138.9h.8v.8h-.8zM45.9 138.8h.8v.8h-.8zM41.2 134.1h.8v.8h-.8zM47.9 141.8h.8v.8h-.8zM48.7 139.7h.8v.8h-.8zM44.2 133.7h.8v.8h-.8zM46.0 139.4h.8v.8h-.8zM44.8 142.2h.8v.8h-.8zM45.1 143.1h.8v.8h-.8zM48.6 142.2h.8v.8h-.8zM46.1 127.1h.8v.8h-.8zM50.8 132.2h.8v.8h-.8zM41.1 139.6h.8v.8h-.8zM51.8 139.7h.8v.8h-.8zM47.9 134.9h.8v.8h-.8zM47.0 129.7h.8v.8h-.8zM48.9 135.1h.8v.8h-.8zM43.9 142.8h.8v.8h-.8zM44.4 141.0h.8v.8h-.8zM44.8 143.3h.8v.8h-.8zM45.1 136.7h.8v.8h-.8zM46.1 139.4h.8v.8h-.8zM43.3 144.0h.8v.8h-.8zM48.2 141.5h.8v.8h-.8zM44.4 135.7h.8v.8h-.8zM45.8 133.4h.8v.8h-.8zM50.4 129.9h.8v.8h-.8zM45.4 138.2h.8v.8h-.8zM48.9 139.4h.8v.8h-.8zM43.2 138.1h.8v.8h-.8zM46.0 147.1h.8v.8h-.8zM50.4 144.7h.8v.8h-.8zM49.0 145.2h.8v.8h-.8zM48.2 147.6h.8v.8h-.8zM44.1 144.4h.8v.8h-.8zM47.7 145.5h.8v.8h-.8zM50.3 147.3h.8v.8h-.8zM45.6 146.3h.8v.8h-.8zM48.7 144.7h.8v.8h-.8zM56.6 147.7h.8v.8h-.8zM50.3 137.3h.8v.8h-.8zM53.1 123.4h.8v.8h-.8zM69.4 143.2h.8v.8h-.8zM40.3 122.2h.8v.8h-.8z" fill="#2020ff" fill-opacity="0.3"/>
</g>
<rect x="48.3" y="115.50" width="29.3" height="14.9" fill="none" stroke="#b4304e" stroke-width="1"/>
<text x="82.3" y="147.6" font-size="8" text-anchor="end" fill="#000" stroke="#000" stroke-width="0.15">3 weeks</text>
<rect x="37.2" y="154.3" width="45.4" height="36.30" fill="#fff" stroke="#c8c8c8" stroke-width="0.9"/>
<line x1="37.2" y1="154.0" x2="82.6" y2="154.0" stroke="#dedede" stroke-width="1.4"/>
<line x1="37.0" y1="154.3" x2="37.0" y2="190.6" stroke="#b4b4b4" stroke-width="1.3"/>
<line x1="37.6" y1="158.70000000000002" x2="38.800000000000004" y2="158.70000000000002" stroke="#999" stroke-width="0.6"/>
<line x1="37.6" y1="167.4" x2="38.800000000000004" y2="167.4" stroke="#999" stroke-width="0.6"/>
<line x1="37.6" y1="176.60000000000002" x2="38.800000000000004" y2="176.60000000000002" stroke="#999" stroke-width="0.6"/>
<line x1="37.6" y1="185.3" x2="38.800000000000004" y2="185.3" stroke="#999" stroke-width="0.6"/>
<line x1="39.2" y1="190.6" x2="39.2" y2="191.79999999999998" stroke="#aaa" stroke-width="0.5"/>
<line x1="43.2" y1="190.6" x2="43.2" y2="191.79999999999998" stroke="#aaa" stroke-width="0.5"/>
<line x1="47.2" y1="190.6" x2="47.2" y2="191.79999999999998" stroke="#aaa" stroke-width="0.5"/>
<line x1="51.2" y1="190.6" x2="51.2" y2="191.79999999999998" stroke="#aaa" stroke-width="0.5"/>
<line x1="55.2" y1="190.6" x2="55.2" y2="191.79999999999998" stroke="#aaa" stroke-width="0.5"/>
<line x1="59.2" y1="190.6" x2="59.2" y2="191.79999999999998" stroke="#aaa" stroke-width="0.5"/>
<line x1="63.2" y1="190.6" x2="63.2" y2="191.79999999999998" stroke="#aaa" stroke-width="0.5"/>
<line x1="67.2" y1="190.6" x2="67.2" y2="191.79999999999998" stroke="#aaa" stroke-width="0.5"/>
<line x1="71.2" y1="190.6" x2="71.2" y2="191.79999999999998" stroke="#aaa" stroke-width="0.5"/>
<line x1="75.2" y1="190.6" x2="75.2" y2="191.79999999999998" stroke="#aaa" stroke-width="0.5"/>
<line x1="79.2" y1="190.6" x2="79.2" y2="191.79999999999998" stroke="#aaa" stroke-width="0.5"/>
<clipPath id="pc3"><rect x="37.6" y="154.70000000000002" width="44.6" height="35.50"/></clipPath>
<g clip-path="url(#pc3)"><g filter="url(#fb)">
<linearGradient id="g3_0" gradientUnits="userSpaceOnUse" x1="48.0" y1="169.9" x2="62.8" y2="160.6"><stop offset="0" stop-color="#0a0aff" stop-opacity="0.5"/><stop offset="1" stop-color="#0a0aff" stop-opacity="0.38"/></linearGradient>
<path d="M48.9 171.3 L55.9 166.5 L63.3 161.5 L62.3 159.7 L54.5 164.1 L47.1 168.5Z" fill="url(#g3_0)"/>
<path d="M44.3 170.3 L44.7 180.3 L44.8 188.8" fill="none" stroke="#1414ff" stroke-width="4.3" stroke-linecap="round" stroke-linejoin="round" stroke-opacity="0.9"/>
<ellipse cx="44.7" cy="181.3" rx="2.4" ry="5" fill="#1414ff" fill-opacity="0.6"/>
</g>
<path d="M56.9 165.8h.8v.8h-.8zM52.9 164.7h.8v.8h-.8zM63.0 159.9h.8v.8h-.8zM53.8 166.4h.8v.8h-.8zM59.4 160.2h.8v.8h-.8zM63.8 162.0h.8v.8h-.8zM60.0 164.2h.8v.8h-.8zM62.5 162.9h.8v.8h-.8zM61.3 163.4h.8v.8h-.8zM50.7 170.1h.8v.8h-.8zM60.7 160.1h.8v.8h-.8zM56.8 164.3h.8v.8h-.8zM61.3 161.4h.8v.8h-.8zM60.5 159.9h.8v.8h-.8zM56.5 163.9h.8v.8h-.8zM53.3 161.6h.8v.8h-.8zM50.8 165.3h.8v.8h-.8zM50.7 168.5h.8v.8h-.8zM61.0 166.3h.8v.8h-.8zM53.7 167.1h.8v.8h-.8zM58.6 161.8h.8v.8h-.8zM54.4 163.8h.8v.8h-.8zM53.9 165.9h.8v.8h-.8zM53.8 165.4h.8v.8h-.8zM49.6 165.2h.8v.8h-.8zM57.4 163.4h.8v.8h-.8zM59.1 162.3h.8v.8h-.8zM58.7 160.3h.8v.8h-.8zM64.9 160.8h.8v.8h-.8zM50.0 171.8h.8v.8h-.8zM53.3 166.8h.8v.8h-.8zM50.1 169.0h.8v.8h-.8zM53.7 164.8h.8v.8h-.8zM54.7 166.6h.8v.8h-.8zM56.2 164.3h.8v.8h-.8zM58.8 162.8h.8v.8h-.8zM60.2 164.3h.8v.8h-.8zM57.7 164.6h.8v.8h-.8zM53.9 167.4h.8v.8h-.8zM51.0 167.2h.8v.8h-.8zM49.3 183.0h.8v.8h-.8zM45.7 181.0h.8v.8h-.8zM43.3 182.0h.8v.8h-.8zM45.6 185.3h.8v.8h-.8zM46.9 182.8h.8v.8h-.8zM48.9 173.4h.8v.8h-.8zM45.0 178.6h.8v.8h-.8zM46.2 183.3h.8v.8h-.8zM41.7 187.0h.8v.8h-.8zM44.8 178.6h.8v.8h-.8zM41.8 176.7h.8v.8h-.8zM44.0 174.8h.8v.8h-.8zM44.4 184.7h.8v.8h-.8zM45.5 179.8h.8v.8h-.8zM44.1 183.1h.8v.8h-.8zM41.6 175.3h.8v.8h-.8zM46.6 186.9h.8v.8h-.8zM42.5 182.7h.8v.8h-.8zM44.3 179.1h.8v.8h-.8zM46.0 183.0h.8v.8h-.8zM46.8 180.1h.8v.8h-.8zM45.2 183.6h.8v.8h-.8zM44.5 179.0h.8v.8h-.8zM45.4 189.5h.8v.8h-.8zM45.6 182.7h.8v.8h-.8zM47.4 184.8h.8v.8h-.8zM44.5 176.0h.8v.8h-.8zM40.2 180.4h.8v.8h-.8zM43.2 174.2h.8v.8h-.8zM45.2 174.3h.8v.8h-.8zM44.9 183.5h.8v.8h-.8zM43.3 186.1h.8v.8h-.8zM48.0 182.7h.8v.8h-.8zM41.5 181.6h.8v.8h-.8zM43.8 176.7h.8v.8h-.8zM43.4 183.4h.8v.8h-.8zM43.3 186.9h.8v.8h-.8zM42.3 177.3h.8v.8h-.8zM42.4 179.7h.8v.8h-.8zM43.8 170.2h.8v.8h-.8zM42.9 178.4h.8v.8h-.8zM43.2 178.2h.8v.8h-.8zM44.8 179.9h.8v.8h-.8zM44.4 180.3h.8v.8h-.8zM45.1 180.0h.8v.8h-.8zM43.1 175.0h.8v.8h-.8zM44.8 179.8h.8v.8h-.8zM42.3 179.8h.8v.8h-.8zM50.0 175.8h.8v.8h-.8zM45.6 180.8h.8v.8h-.8zM45.4 174.8h.8v.8h-.8zM42.9 188.0h.8v.8h-.8zM47.5 182.5h.8v.8h-.8zM46.2 176.7h.8v.8h-.8zM47.0 175.7h.8v.8h-.8zM46.8 170.2h.8v.8h-.8zM42.5 171.9h.8v.8h-.8zM40.7 178.6h.8v.8h-.8zM44.7 178.4h.8v.8h-.8zM43.3 176.5h.8v.8h-.8zM43.3 182.5h.8v.8h-.8zM48.1 178.6h.8v.8h-.8zM44.6 178.4h.8v.8h-.8zM42.6 189.2h.8v.8h-.8zM44.5 177.9h.8v.8h-.8zM44.1 179.6h.8v.8h-.8zM52.3 170.8h.8v.8h-.8zM47.7 168.6h.8v.8h-.8zM50.2 183.9h.8v.8h-.8zM62.0 187.6h.8v.8h-.8z" fill="#2020ff" fill-opacity="0.3"/>
<path d="M51.6 166.2h.8v.8h-.8zM61.6 158.0h.8v.8h-.8zM57.7 162.8h.8v.8h-.8zM57.1 163.3h.8v.8h-.8zM52.8 168.0h.8v.8h-.8zM54.8 166.7h.8v.8h-.8zM55.3 165.2h.8v.8h-.8zM59.1 163.2h.8v.8h-.8zM55.2 163.2h.8v.8h-.8zM52.2 169.2h.8v.8h-.8zM50.5 167.1h.8v.8h-.8zM57.4 163.7h.8v.8h-.8zM65.3 158.1h.8v.8h-.8zM48.9 170.3h.8v.8h-.8zM59.9 161.2h.8v.8h-.8zM55.5 165.6h.8v.8h-.8zM52.1 166.4h.8v.8h-.8zM59.8 162.3h.8v.8h-.8zM57.4 162.1h.8v.8h-.8zM61.6 162.4h.8v.8h-.8zM61.3 163.8h.8v.8h-.8zM57.0 162.9h.8v.8h-.8zM48.5 170.0h.8v.8h-.8zM62.6 160.7h.8v.8h-.8zM54.5 166.0h.8v.8h-.8zM56.6 165.8h.8v.8h-.8zM57.7 163.8h.8v.8h-.8zM57.2 164.8h.8v.8h-.8zM62.1 160.5h.8v.8h-.8zM53.2 163.7h.8v.8h-.8zM55.4 165.0h.8v.8h-.8zM53.4 165.4h.8v.8h-.8zM53.3 166.6h.8v.8h-.8zM54.1 164.4h.8v.8h-.8zM48.0 167.2h.8v.8h-.8zM52.7 168.8h.8v.8h-.8zM56.4 165.4h.8v.8h-.8zM58.2 167.1h.8v.8h-.8zM51.6 167.6h.8v.8h-.8zM54.1 170.0h.8v.8h-.8zM44.9 182.7h.8v.8h-.8zM45.1 187.1h.8v.8h-.8zM43.3 178.4h.8v.8h-.8zM43.6 166.2h.8v.8h-.8zM48.9 179.0h.8v.8h-.8zM46.2 180.8h.8v.8h-.8zM46.9 185.8h.8v.8h-.8zM46.3 180.8h.8v.8h-.8zM46.3 184.1h.8v.8h-.8zM47.6 182.2h.8v.8h-.8zM44.2 173.4h.8v.8h-.8zM46.9 185.3h.8v.8h-.8zM46.7 180.6h.8v.8h-.8zM46.4 182.5h.8v.8h-.8zM46.9 177.3h.8v.8h-.8zM47.0 177.9h.8v.8h-.8zM43.1 182.4h.8v.8h-.8zM44.2 173.2h.8v.8h-.8zM48.4 184.0h.8v.8h-.8zM46.7 176.7h.8v.8h-.8zM43.2 173.1h.8v.8h-.8zM50.2 175.9h.8v.8h-.8zM44.7 188.3h.8v.8h-.8zM45.7 181.9h.8v.8h-.8zM43.9 175.1h.8v.8h-.8zM46.1 181.1h.8v.8h-.8zM42.3 180.2h.8v.8h-.8zM43.3 175.8h.8v.8h-.8zM44.4 182.6h.8v.8h-.8zM47.0 178.0h.8v.8h-.8zM43.7 184.3h.8v.8h-.8zM44.6 179.9h.8v.8h-.8zM47.4 187.4h.8v.8h-.8zM44.7 188.1h.8v.8h-.8zM44.5 185.5h.8v.8h-.8zM42.4 186.3h.8v.8h-.8zM43.2 187.6h.8v.8h-.8zM43.0 174.7h.8v.8h-.8zM48.1 175.5h.8v.8h-.8zM45.9 189.0h.8v.8h-.8zM44.3 178.6h.8v.8h-.8zM44.9 179.4h.8v.8h-.8zM42.5 176.2h.8v.8h-.8zM45.2 182.9h.8v.8h-.8zM47.0 180.6h.8v.8h-.8zM46.6 175.0h.8v.8h-.8zM44.6 183.6h.8v.8h-.8zM45.7 186.0h.8v.8h-.8zM44.4 181.4h.8v.8h-.8zM49.4 178.4h.8v.8h-.8zM44.9 179.2h.8v.8h-.8zM45.9 180.9h.8v.8h-.8zM46.0 179.2h.8v.8h-.8zM45.4 172.8h.8v.8h-.8zM48.3 173.9h.8v.8h-.8zM46.2 179.4h.8v.8h-.8zM45.5 189.8h.8v.8h-.8zM47.9 174.7h.8v.8h-.8zM39.5 182.1h.8v.8h-.8zM48.3 175.7h.8v.8h-.8zM39.8 187.6h.8v.8h-.8zM43.7 187.7h.8v.8h-.8zM43.9 173.5h.8v.8h-.8zM44.0 178.0h.8v.8h-.8zM47.6 182.2h.8v.8h-.8zM56.2 165.6h.8v.8h-.8zM63.8 170.8h.8v.8h-.8zM54.9 164.3h.8v.8h-.8zM42.7 165.8h.8v.8h-.8z" fill="#2020ff" fill-opacity="0.3"/>
<path d="M52.7 166.2h.8v.8h-.8zM55.5 166.1h.8v.8h-.8zM55.8 163.3h.8v.8h-.8zM55.9 165.2h.8v.8h-.8zM52.2 164.4h.8v.8h-.8zM61.7 161.8h.8v.8h-.8zM50.8 169.9h.8v.8h-.8zM53.9 168.7h.8v.8h-.8zM47.9 171.0h.8v.8h-.8zM57.5 164.8h.8v.8h-.8zM48.9 172.6h.8v.8h-.8zM55.6 166.2h.8v.8h-.8zM65.3 157.0h.8v.8h-.8zM48.7 168.4h.8v.8h-.8zM51.3 170.1h.8v.8h-.8zM53.3 164.7h.8v.8h-.8zM52.3 167.4h.8v.8h-.8zM55.8 164.8h.8v.8h-.8zM64.6 158.1h.8v.8h-.8zM54.1 166.9h.8v.8h-.8zM55.1 164.8h.8v.8h-.8zM51.0 168.7h.8v.8h-.8zM54.1 167.7h.8v.8h-.8zM65.3 161.7h.8v.8h-.8zM52.3 166.2h.8v.8h-.8zM61.9 162.4h.8v.8h-.8zM56.6 166.2h.8v.8h-.8zM62.6 164.7h.8v.8h-.8zM61.3 162.8h.8v.8h-.8zM62.5 162.5h.8v.8h-.8zM48.8 169.6h.8v.8h-.8zM49.3 169.3h.8v.8h-.8zM60.8 161.4h.8v.8h-.8zM62.4 164.7h.8v.8h-.8zM49.7 169.6h.8v.8h-.8zM55.4 167.5h.8v.8h-.8zM52.0 166.4h.8v.8h-.8zM51.0 165.9h.8v.8h-.8zM61.1 159.8h.8v.8h-.8zM50.8 167.4h.8v.8h-.8zM46.1 186.2h.8v.8h-.8zM46.5 175.3h.8v.8h-.8zM42.6 179.0h.8v.8h-.8zM44.4 181.2h.8v.8h-.8zM46.3 167.6h.8v.8h-.8zM42.2 185.0h.8v.8h-.8zM44.7 173.5h.8v.8h-.8zM43.7 180.5h.8v.8h-.8zM45.2 177.3h.8v.8h-.8zM44.2 180.6h.8v.8h-.8zM50.1 176.5h.8v.8h-.8zM42.6 180.8h.8v.8h-.8zM45.4 180.4h.8v.8h-.8zM45.7 178.7h.8v.8h-.8zM48.2 180.6h.8v.8h-.8zM44.3 180.9h.8v.8h-.8zM49.0 178.8h.8v.8h-.8zM44.7 188.6h.8v.8h-.8zM44.5 176.0h.8v.8h-.8zM46.5 181.5h.8v.8h-.8zM47.3 180.6h.8v.8h-.8zM47.0 183.4h.8v.8h-.8zM46.1 182.0h.8v.8h-.8zM48.6 182.9h.8v.8h-.8zM44.9 181.6h.8v.8h-.8zM42.6 186.7h.8v.8h-.8zM46.9 186.1h.8v.8h-.8zM44.3 171.4h.8v.8h-.8zM42.6 173.0h.8v.8h-.8zM47.4 178.7h.8v.8h-.8zM43.0 175.6h.8v.8h-.8zM43.8 187.5h.8v.8h-.8zM45.4 171.6h.8v.8h-.8zM41.7 183.7h.8v.8h-.8zM43.3 173.3h.8v.8h-.8zM47.6 181.7h.8v.8h-.8zM45.4 182.7h.8v.8h-.8zM45.5 180.8h.8v.8h-.8zM42.7 179.2h.8v.8h-.8zM40.8 180.2h.8v.8h-.8zM46.9 178.0h.8v.8h-.8zM46.9 180.3h.8v.8h-.8zM42.4 181.3h.8v.8h-.8zM40.8 188.7h.8v.8h-.8zM44.5 182.2h.8v.8h-.8zM44.9 174.3h.8v.8h-.8zM46.9 182.3h.8v.8h-.8zM43.8 180.8h.8v.8h-.8zM45.6 179.1h.8v.8h-.8zM45.0 175.3h.8v.8h-.8zM47.1 180.2h.8v.8h-.8zM45.1 180.7h.8v.8h-.8zM47.4 170.4h.8v.8h-.8zM45.0 177.6h.8v.8h-.8zM46.8 178.5h.8v.8h-.8zM45.5 181.3h.8v.8h-.8zM42.7 179.8h.8v.8h-.8zM46.3 174.7h.8v.8h-.8zM41.2 185.2h.8v.8h-.8zM44.3 185.9h.8v.8h-.8zM47.9 169.6h.8v.8h-.8zM44.7 179.8h.8v.8h-.8zM45.4 176.2h.8v.8h-.8zM51.7 167.6h.8v.8h-.8zM49.9 184.2h.8v.8h-.8zM48.6 172.3h.8v.8h-.8zM48.4 183.8h.8v.8h-.8z" fill="#2020ff" fill-opacity="0.3"/>
</g>
<rect x="47.3" y="158.00" width="29.0" height="14.9" fill="none" stroke="#b4304e" stroke-width="1"/>
<text x="82.3" y="189.1" font-size="8" text-anchor="end" fill="#000" stroke="#000" stroke-width="0.15">4 weeks</text>
<rect x="37.2" y="195.9" width="45.4" height="36.20" fill="#fff" stroke="#c8c8c8" stroke-width="0.9"/>
<line x1="37.2" y1="195.6" x2="82.6" y2="195.6" stroke="#dedede" stroke-width="1.4"/>
<line x1="37.0" y1="195.9" x2="37.0" y2="232.1" stroke="#b4b4b4" stroke-width="1.3"/>
<line x1="37.6" y1="200.3" x2="38.800000000000004" y2="200.3" stroke="#999" stroke-width="0.6"/>
<line x1="37.6" y1="209.0" x2="38.800000000000004" y2="209.0" stroke="#999" stroke-width="0.6"/>
<line x1="37.6" y1="218.20000000000002" x2="38.800000000000004" y2="218.20000000000002" stroke="#999" stroke-width="0.6"/>
<line x1="37.6" y1="226.9" x2="38.800000000000004" y2="226.9" stroke="#999" stroke-width="0.6"/>
<line x1="39.2" y1="232.1" x2="39.2" y2="233.29999999999998" stroke="#aaa" stroke-width="0.5"/>
<line x1="43.2" y1="232.1" x2="43.2" y2="233.29999999999998" stroke="#aaa" stroke-width="0.5"/>
<line x1="47.2" y1="232.1" x2="47.2" y2="233.29999999999998" stroke="#aaa" stroke-width="0.5"/>
<line x1="51.2" y1="232.1" x2="51.2" y2="233.29999999999998" stroke="#aaa" stroke-width="0.5"/>
<line x1="55.2" y1="232.1" x2="55.2" y2="233.29999999999998" stroke="#aaa" stroke-width="0.5"/>
<line x1="59.2" y1="232.1" x2="59.2" y2="233.29999999999998" stroke="#aaa" stroke-width="0.5"/>
<line x1="63.2" y1="232.1" x2="63.2" y2="233.29999999999998" stroke="#aaa" stroke-width="0.5"/>
<line x1="67.2" y1="232.1" x2="67.2" y2="233.29999999999998" stroke="#aaa" stroke-width="0.5"/>
<line x1="71.2" y1="232.1" x2="71.2" y2="233.29999999999998" stroke="#aaa" stroke-width="0.5"/>
<line x1="75.2" y1="232.1" x2="75.2" y2="233.29999999999998" stroke="#aaa" stroke-width="0.5"/>
<line x1="79.2" y1="232.1" x2="79.2" y2="233.29999999999998" stroke="#aaa" stroke-width="0.5"/>
<clipPath id="pc4"><rect x="37.6" y="196.3" width="44.6" height="35.40"/></clipPath>
<g clip-path="url(#pc4)"><g filter="url(#fb)">
<linearGradient id="g4_0" gradientUnits="userSpaceOnUse" x1="48.9" y1="212.0" x2="62.8" y2="201.4"><stop offset="0" stop-color="#0a0aff" stop-opacity="0.42"/><stop offset="1" stop-color="#0a0aff" stop-opacity="0.32"/></linearGradient>
<path d="M49.8 213.3 L56.0 208.4 L63.4 202.2 L62.2 200.6 L54.4 206.4 L48.0 210.7Z" fill="url(#g4_0)"/>
<path d="M44.3 211.9 L44.8 220.9 L44.8 230.5" fill="none" stroke="#1414ff" stroke-width="4.6" stroke-linecap="round" stroke-linejoin="round" stroke-opacity="0.9"/>
<ellipse cx="44.800000000000004" cy="222.9" rx="2.5" ry="5.5" fill="#1414ff" fill-opacity="0.6"/>
</g>
<path d="M53.1 210.1h.8v.8h-.8zM56.2 208.7h.8v.8h-.8zM63.2 200.6h.8v.8h-.8zM56.6 208.1h.8v.8h-.8zM68.6 202.9h.8v.8h-.8zM58.8 202.8h.8v.8h-.8zM51.1 212.7h.8v.8h-.8zM59.0 207.1h.8v.8h-.8zM53.4 207.4h.8v.8h-.8zM50.2 212.1h.8v.8h-.8zM50.1 210.2h.8v.8h-.8zM55.8 208.2h.8v.8h-.8zM61.6 202.7h.8v.8h-.8zM62.0 203.4h.8v.8h-.8zM50.1 208.4h.8v.8h-.8zM65.5 203.0h.8v.8h-.8zM55.6 205.8h.8v.8h-.8zM58.0 204.5h.8v.8h-.8zM61.4 199.3h.8v.8h-.8zM64.7 199.4h.8v.8h-.8zM52.8 208.9h.8v.8h-.8zM58.6 209.3h.8v.8h-.8zM63.5 202.7h.8v.8h-.8zM60.2 203.1h.8v.8h-.8zM53.9 211.8h.8v.8h-.8zM66.0 196.9h.8v.8h-.8zM58.7 205.4h.8v.8h-.8zM61.0 207.9h.8v.8h-.8zM54.0 206.1h.8v.8h-.8zM51.0 208.0h.8v.8h-.8zM57.3 208.7h.8v.8h-.8zM57.4 207.6h.8v.8h-.8zM61.4 201.0h.8v.8h-.8zM63.9 200.9h.8v.8h-.8zM43.4 217.8h.8v.8h-.8zM43.2 223.9h.8v.8h-.8zM44.4 214.8h.8v.8h-.8zM40.1 230.3h.8v.8h-.8zM46.0 213.2h.8v.8h-.8zM46.9 220.0h.8v.8h-.8zM41.9 217.6h.8v.8h-.8zM43.1 223.2h.8v.8h-.8zM45.3 226.8h.8v.8h-.8zM44.4 225.3h.8v.8h-.8zM42.5 212.7h.8v.8h-.8zM47.5 228.8h.8v.8h-.8zM45.8 214.1h.8v.8h-.8zM44.5 227.2h.8v.8h-.8zM44.1 223.7h.8v.8h-.8zM42.6 224.6h.8v.8h-.8zM43.7 218.1h.8v.8h-.8zM42.5 220.6h.8v.8h-.8zM45.6 216.3h.8v.8h-.8zM43.7 214.8h.8v.8h-.8zM43.6 229.0h.8v.8h-.8zM43.8 226.9h.8v.8h-.8zM47.8 219.3h.8v.8h-.8zM41.5 226.9h.8v.8h-.8zM44.9 223.2h.8v.8h-.8zM49.9 219.8h.8v.8h-.8zM47.0 223.0h.8v.8h-.8zM48.1 225.9h.8v.8h-.8zM42.7 210.9h.8v.8h-.8zM45.3 228.6h.8v.8h-.8zM47.3 221.4h.8v.8h-.8zM46.9 223.9h.8v.8h-.8zM42.9 214.6h.8v.8h-.8zM47.2 216.2h.8v.8h-.8zM47.3 216.5h.8v.8h-.8zM41.4 221.9h.8v.8h-.8zM44.8 214.0h.8v.8h-.8zM45.2 212.8h.8v.8h-.8zM46.9 229.1h.8v.8h-.8zM43.7 223.4h.8v.8h-.8zM45.3 223.5h.8v.8h-.8zM45.8 220.7h.8v.8h-.8zM45.4 215.6h.8v.8h-.8zM46.2 222.5h.8v.8h-.8zM46.9 223.7h.8v.8h-.8zM47.9 220.2h.8v.8h-.8zM43.6 227.2h.8v.8h-.8zM41.6 218.5h.8v.8h-.8zM49.4 225.2h.8v.8h-.8zM45.7 225.9h.8v.8h-.8zM41.7 215.6h.8v.8h-.8zM48.8 230.3h.8v.8h-.8zM42.3 223.8h.8v.8h-.8zM42.9 222.6h.8v.8h-.8zM45.7 227.2h.8v.8h-.8zM48.0 224.3h.8v.8h-.8zM41.4 226.7h.8v.8h-.8zM48.6 211.7h.8v.8h-.8zM45.9 219.7h.8v.8h-.8zM41.5 223.6h.8v.8h-.8zM40.5 214.3h.8v.8h-.8zM46.5 219.3h.8v.8h-.8zM44.4 229.9h.8v.8h-.8zM47.6 217.0h.8v.8h-.8zM48.4 210.8h.8v.8h-.8zM51.4 221.2h.8v.8h-.8zM47.6 220.5h.8v.8h-.8zM52.4 225.6h.8v.8h-.8z" fill="#2020ff" fill-opacity="0.3"/>
<path d="M57.6 207.4h.8v.8h-.8zM49.5 212.0h.8v.8h-.8zM64.4 199.2h.8v.8h-.8zM64.0 199.3h.8v.8h-.8zM59.5 205.2h.8v.8h-.8zM51.4 209.6h.8v.8h-.8zM63.4 200.3h.8v.8h-.8zM50.8 208.8h.8v.8h-.8zM54.0 209.1h.8v.8h-.8zM56.5 206.1h.8v.8h-.8zM51.8 209.6h.8v.8h-.8zM59.6 209.0h.8v.8h-.8zM52.2 209.3h.8v.8h-.8zM60.8 201.0h.8v.8h-.8zM55.0 210.6h.8v.8h-.8zM56.3 203.5h.8v.8h-.8zM63.7 200.3h.8v.8h-.8zM57.2 204.6h.8v.8h-.8zM55.6 208.2h.8v.8h-.8zM56.2 206.8h.8v.8h-.8zM62.6 203.1h.8v.8h-.8zM50.4 205.2h.8v.8h-.8zM57.9 202.4h.8v.8h-.8zM59.6 202.8h.8v.8h-.8zM58.6 203.7h.8v.8h-.8zM49.8 210.6h.8v.8h-.8zM60.1 203.2h.8v.8h-.8zM50.7 210.8h.8v.8h-.8zM52.5 210.4h.8v.8h-.8zM56.1 205.5h.8v.8h-.8zM53.7 211.1h.8v.8h-.8zM52.6 209.0h.8v.8h-.8zM57.3 205.5h.8v.8h-.8zM44.2 218.3h.8v.8h-.8zM46.1 219.0h.8v.8h-.8zM45.7 228.5h.8v.8h-.8zM48.7 224.3h.8v.8h-.8zM45.0 222.6h.8v.8h-.8zM47.3 219.0h.8v.8h-.8zM40.5 222.8h.8v.8h-.8zM41.9 223.1h.8v.8h-.8zM46.1 219.1h.8v.8h-.8zM43.8 222.1h.8v.8h-.8zM47.6 225.7h.8v.8h-.8zM43.0 227.0h.8v.8h-.8zM41.6 228.1h.8v.8h-.8zM43.6 229.2h.8v.8h-.8zM43.0 221.3h.8v.8h-.8zM48.0 226.1h.8v.8h-.8zM44.1 219.1h.8v.8h-.8zM49.0 222.3h.8v.8h-.8zM46.7 225.4h.8v.8h-.8zM50.7 220.7h.8v.8h-.8zM47.1 220.5h.8v.8h-.8zM42.6 212.0h.8v.8h-.8zM42.9 226.7h.8v.8h-.8zM44.3 217.3h.8v.8h-.8zM41.8 217.2h.8v.8h-.8zM43.2 227.8h.8v.8h-.8zM44.8 225.6h.8v.8h-.8zM45.7 220.0h.8v.8h-.8zM44.2 208.4h.8v.8h-.8zM42.2 227.0h.8v.8h-.8zM44.8 221.3h.8v.8h-.8zM41.6 217.6h.8v.8h-.8zM45.5 225.5h.8v.8h-.8zM42.0 219.3h.8v.8h-.8zM46.0 227.5h.8v.8h-.8zM45.2 218.2h.8v.8h-.8zM47.7 219.3h.8v.8h-.8zM45.5 220.8h.8v.8h-.8zM44.9 217.2h.8v.8h-.8zM41.2 220.2h.8v.8h-.8zM45.9 221.8h.8v.8h-.8zM45.3 221.9h.8v.8h-.8zM45.5 218.9h.8v.8h-.8zM47.0 221.0h.8v.8h-.8zM46.4 210.8h.8v.8h-.8zM42.8 223.4h.8v.8h-.8zM47.9 210.7h.8v.8h-.8zM44.3 227.6h.8v.8h-.8zM46.1 221.8h.8v.8h-.8zM50.7 225.9h.8v.8h-.8zM43.9 218.3h.8v.8h-.8zM46.6 219.8h.8v.8h-.8zM46.4 223.1h.8v.8h-.8zM42.9 225.1h.8v.8h-.8zM44.5 213.9h.8v.8h-.8zM44.2 221.2h.8v.8h-.8zM44.9 218.0h.8v.8h-.8zM46.3 227.5h.8v.8h-.8zM46.8 218.8h.8v.8h-.8zM43.7 222.0h.8v.8h-.8zM41.9 215.1h.8v.8h-.8zM45.9 217.3h.8v.8h-.8zM46.5 223.3h.8v.8h-.8zM43.9 221.3h.8v.8h-.8zM60.7 206.1h.8v.8h-.8zM64.5 204.4h.8v.8h-.8zM44.0 204.1h.8v.8h-.8z" fill="#2020ff" fill-opacity="0.3"/>
<path d="M53.3 209.7h.8v.8h-.8zM56.5 203.2h.8v.8h-.8zM57.7 207.8h.8v.8h-.8zM58.4 204.6h.8v.8h-.8zM58.7 204.9h.8v.8h-.8zM53.4 209.3h.8v.8h-.8zM61.8 199.2h.8v.8h-.8zM50.3 212.3h.8v.8h-.8zM50.7 212.6h.8v.8h-.8zM61.1 201.7h.8v.8h-.8zM52.5 211.1h.8v.8h-.8zM51.1 207.9h.8v.8h-.8zM52.9 208.7h.8v.8h-.8zM62.5 203.8h.8v.8h-.8zM57.4 204.6h.8v.8h-.8zM56.7 206.4h.8v.8h-.8zM51.3 211.9h.8v.8h-.8zM62.5 202.2h.8v.8h-.8zM52.0 209.7h.8v.8h-.8zM54.7 207.6h.8v.8h-.8zM62.7 201.5h.8v.8h-.8zM60.3 205.9h.8v.8h-.8zM60.5 200.5h.8v.8h-.8zM57.4 207.2h.8v.8h-.8zM60.2 201.1h.8v.8h-.8zM54.0 209.3h.8v.8h-.8zM51.6 208.9h.8v.8h-.8zM66.7 202.3h.8v.8h-.8zM60.3 202.4h.8v.8h-.8zM52.4 211.2h.8v.8h-.8zM53.9 208.3h.8v.8h-.8zM58.6 200.2h.8v.8h-.8zM45.3 213.2h.8v.8h-.8zM46.3 219.4h.8v.8h-.8zM40.9 225.3h.8v.8h-.8zM47.2 218.7h.8v.8h-.8zM48.0 220.1h.8v.8h-.8zM44.9 225.4h.8v.8h-.8zM46.0 221.5h.8v.8h-.8zM46.7 227.5h.8v.8h-.8zM40.9 221.8h.8v.8h-.8zM44.9 218.6h.8v.8h-.8zM42.5 212.1h.8v.8h-.8zM44.3 223.1h.8v.8h-.8zM45.7 221.9h.8v.8h-.8zM46.2 219.9h.8v.8h-.8zM47.7 219.7h.8v.8h-.8zM48.6 220.8h.8v.8h-.8zM47.6 219.5h.8v.8h-.8zM42.1 230.9h.8v.8h-.8zM45.4 212.8h.8v.8h-.8zM45.2 215.6h.8v.8h-.8zM46.1 218.1h.8v.8h-.8zM45.7 215.6h.8v.8h-.8zM43.2 230.1h.8v.8h-.8zM45.3 228.2h.8v.8h-.8zM40.0 222.0h.8v.8h-.8zM42.9 222.0h.8v.8h-.8zM45.5 222.2h.8v.8h-.8zM46.4 226.1h.8v.8h-.8zM42.4 219.4h.8v.8h-.8zM43.5 230.9h.8v.8h-.8zM46.1 217.9h.8v.8h-.8zM45.9 217.2h.8v.8h-.8zM47.3 221.0h.8v.8h-.8zM48.0 222.2h.8v.8h-.8zM45.2 226.0h.8v.8h-.8zM42.4 221.0h.8v.8h-.8zM46.0 220.2h.8v.8h-.8zM43.8 221.4h.8v.8h-.8zM45.9 223.9h.8v.8h-.8zM42.4 216.7h.8v.8h-.8zM44.4 225.4h.8v.8h-.8zM42.4 224.6h.8v.8h-.8zM43.1 220.7h.8v.8h-.8zM46.9 225.4h.8v.8h-.8zM43.8 222.5h.8v.8h-.8zM42.5 225.9h.8v.8h-.8zM45.5 218.1h.8v.8h-.8zM41.3 227.7h.8v.8h-.8zM42.1 224.8h.8v.8h-.8zM45.8 230.5h.8v.8h-.8zM46.4 220.2h.8v.8h-.8zM46.2 226.4h.8v.8h-.8zM48.4 228.6h.8v.8h-.8zM42.8 227.0h.8v.8h-.8zM48.9 221.0h.8v.8h-.8zM45.6 229.6h.8v.8h-.8zM44.8 223.8h.8v.8h-.8zM47.5 219.6h.8v.8h-.8zM43.9 222.2h.8v.8h-.8zM47.4 210.5h.8v.8h-.8zM44.6 221.5h.8v.8h-.8zM49.7 209.0h.8v.8h-.8zM44.8 226.7h.8v.8h-.8zM47.3 229.5h.8v.8h-.8zM52.0 199.7h.8v.8h-.8zM67.1 213.3h.8v.8h-.8zM49.4 215.8h.8v.8h-.8zM67.0 213.9h.8v.8h-.8z" fill="#2020ff" fill-opacity="0.3"/>
</g>
<rect x="48.1" y="199.50" width="29.3" height="14.9" fill="none" stroke="#b4304e" stroke-width="1"/>
<text x="82.3" y="230.4" font-size="8" text-anchor="end" fill="#000" stroke="#000" stroke-width="0.15">5 weeks</text>
<rect x="37.2" y="237.5" width="45.4" height="36.20" fill="#fff" stroke="#c8c8c8" stroke-width="0.9"/>
<line x1="37.2" y1="237.2" x2="82.6" y2="237.2" stroke="#dedede" stroke-width="1.4"/>
<line x1="37.0" y1="237.5" x2="37.0" y2="273.7" stroke="#b4b4b4" stroke-width="1.3"/>
<line x1="37.6" y1="241.9" x2="38.800000000000004" y2="241.9" stroke="#999" stroke-width="0.6"/>
<line x1="37.6" y1="250.6" x2="38.800000000000004" y2="250.6" stroke="#999" stroke-width="0.6"/>
<line x1="37.6" y1="259.8" x2="38.800000000000004" y2="259.8" stroke="#999" stroke-width="0.6"/>
<line x1="37.6" y1="268.5" x2="38.800000000000004" y2="268.5" stroke="#999" stroke-width="0.6"/>
<line x1="39.2" y1="273.7" x2="39.2" y2="274.9" stroke="#aaa" stroke-width="0.5"/>
<line x1="43.2" y1="273.7" x2="43.2" y2="274.9" stroke="#aaa" stroke-width="0.5"/>
<line x1="47.2" y1="273.7" x2="47.2" y2="274.9" stroke="#aaa" stroke-width="0.5"/>
<line x1="51.2" y1="273.7" x2="51.2" y2="274.9" stroke="#aaa" stroke-width="0.5"/>
<line x1="55.2" y1="273.7" x2="55.2" y2="274.9" stroke="#aaa" stroke-width="0.5"/>
<line x1="59.2" y1="273.7" x2="59.2" y2="274.9" stroke="#aaa" stroke-width="0.5"/>
<line x1="63.2" y1="273.7" x2="63.2" y2="274.9" stroke="#aaa" stroke-width="0.5"/>
<line x1="67.2" y1="273.7" x2="67.2" y2="274.9" stroke="#aaa" stroke-width="0.5"/>
<line x1="71.2" y1="273.7" x2="71.2" y2="274.9" stroke="#aaa" stroke-width="0.5"/>
<line x1="75.2" y1="273.7" x2="75.2" y2="274.9" stroke="#aaa" stroke-width="0.5"/>
<line x1="79.2" y1="273.7" x2="79.2" y2="274.9" stroke="#aaa" stroke-width="0.5"/>
<clipPath id="pc5"><rect x="37.6" y="237.9" width="44.6" height="35.40"/></clipPath>
<g clip-path="url(#pc5)"><g filter="url(#fb)">
<linearGradient id="g5_0" gradientUnits="userSpaceOnUse" x1="49.7" y1="252.1" x2="60.0" y2="247.3"><stop offset="0" stop-color="#0a0aff" stop-opacity="0.85"/><stop offset="1" stop-color="#0a0aff" stop-opacity="0.64"/></linearGradient>
<path d="M50.2 253.2 L60.3 248.0 L59.7 246.6 L49.2 251.0Z" fill="url(#g5_0)"/>
<linearGradient id="g5_1" gradientUnits="userSpaceOnUse" x1="60.0" y1="247.3" x2="68.3" y2="243.6"><stop offset="0" stop-color="#0a0aff" stop-opacity="0.2"/><stop offset="1" stop-color="#0a0aff" stop-opacity="0.15"/></linearGradient>
<path d="M60.3 248.0 L68.5 244.0 L68.1 243.2 L59.7 246.6Z" fill="url(#g5_1)"/>
<path d="M45.2 250.9 L47.2 257.5 L48.0 272.2" fill="none" stroke="#1414ff" stroke-width="3.8" stroke-linecap="round" stroke-linejoin="round" stroke-opacity="0.6"/>
<ellipse cx="48.5" cy="262.0" rx="2.8" ry="5.5" fill="#1414ff" fill-opacity="1.0"/>
<ellipse cx="48.5" cy="262.0" rx="2.0" ry="4.0" fill="#1414ff" fill-opacity="1.0"/>
</g>
<path d="M52.9 249.3h.8v.8h-.8zM58.9 248.2h.8v.8h-.8zM63.0 245.7h.8v.8h-.8zM60.9 246.6h.8v.8h-.8zM60.0 246.1h.8v.8h-.8zM54.9 249.9h.8v.8h-.8zM53.4 249.4h.8v.8h-.8zM51.4 250.3h.8v.8h-.8zM58.2 249.7h.8v.8h-.8zM63.7 245.0h.8v.8h-.8zM52.0 251.5h.8v.8h-.8zM62.2 247.5h.8v.8h-.8zM68.2 243.4h.8v.8h-.8zM65.8 245.0h.8v.8h-.8zM53.9 252.1h.8v.8h-.8zM58.8 248.5h.8v.8h-.8zM57.8 246.8h.8v.8h-.8zM51.1 251.6h.8v.8h-.8zM67.4 244.7h.8v.8h-.8zM65.8 246.4h.8v.8h-.8zM51.8 265.9h.8v.8h-.8zM47.3 254.1h.8v.8h-.8zM45.3 261.1h.8v.8h-.8zM42.1 259.2h.8v.8h-.8zM49.0 257.3h.8v.8h-.8zM48.1 254.2h.8v.8h-.8zM45.2 261.3h.8v.8h-.8zM47.3 264.0h.8v.8h-.8zM51.7 260.6h.8v.8h-.8zM52.9 255.5h.8v.8h-.8zM53.0 264.7h.8v.8h-.8zM53.8 256.2h.8v.8h-.8zM50.5 256.4h.8v.8h-.8zM44.2 265.8h.8v.8h-.8zM43.3 264.6h.8v.8h-.8zM48.3 267.2h.8v.8h-.8zM42.4 263.3h.8v.8h-.8zM49.2 267.8h.8v.8h-.8zM51.6 261.8h.8v.8h-.8zM45.5 259.5h.8v.8h-.8zM53.7 260.5h.8v.8h-.8zM50.2 258.9h.8v.8h-.8zM51.7 259.0h.8v.8h-.8zM45.8 261.7h.8v.8h-.8zM46.9 257.5h.8v.8h-.8zM48.3 256.3h.8v.8h-.8zM49.5 256.5h.8v.8h-.8zM43.2 249.4h.8v.8h-.8zM46.7 266.0h.8v.8h-.8zM49.2 265.3h.8v.8h-.8zM42.4 257.7h.8v.8h-.8zM52.4 254.8h.8v.8h-.8zM49.3 259.4h.8v.8h-.8zM42.9 257.4h.8v.8h-.8zM44.4 250.2h.8v.8h-.8zM50.1 258.7h.8v.8h-.8zM49.1 268.6h.8v.8h-.8zM46.9 261.5h.8v.8h-.8zM52.8 252.0h.8v.8h-.8zM51.5 264.5h.8v.8h-.8zM47.1 258.3h.8v.8h-.8zM47.5 265.7h.8v.8h-.8zM51.9 266.3h.8v.8h-.8zM46.5 265.8h.8v.8h-.8zM47.4 267.7h.8v.8h-.8zM50.5 251.3h.8v.8h-.8zM50.6 257.8h.8v.8h-.8zM49.3 263.3h.8v.8h-.8zM47.6 270.1h.8v.8h-.8zM52.6 252.2h.8v.8h-.8zM49.4 259.4h.8v.8h-.8zM50.5 265.3h.8v.8h-.8zM43.9 253.2h.8v.8h-.8zM46.9 254.5h.8v.8h-.8zM49.4 267.1h.8v.8h-.8zM45.4 257.0h.8v.8h-.8zM44.3 254.7h.8v.8h-.8zM41.5 253.7h.8v.8h-.8zM49.8 258.9h.8v.8h-.8zM49.8 257.8h.8v.8h-.8zM50.3 251.7h.8v.8h-.8zM48.9 268.5h.8v.8h-.8zM50.2 255.7h.8v.8h-.8zM54.0 250.3h.8v.8h-.8zM46.2 261.6h.8v.8h-.8zM51.8 263.7h.8v.8h-.8zM45.3 265.3h.8v.8h-.8zM50.6 253.8h.8v.8h-.8zM51.6 268.4h.8v.8h-.8zM46.2 265.7h.8v.8h-.8zM46.7 263.0h.8v.8h-.8zM45.8 265.6h.8v.8h-.8zM45.2 263.9h.8v.8h-.8zM59.4 267.5h.8v.8h-.8zM67.6 249.8h.8v.8h-.8zM46.1 269.9h.8v.8h-.8zM62.9 242.4h.8v.8h-.8z" fill="#2020ff" fill-opacity="0.3"/>
<path d="M52.0 251.2h.8v.8h-.8zM62.3 245.9h.8v.8h-.8zM57.6 249.3h.8v.8h-.8zM65.3 243.2h.8v.8h-.8zM52.4 249.9h.8v.8h-.8zM55.7 247.9h.8v.8h-.8zM67.1 242.8h.8v.8h-.8zM58.5 249.0h.8v.8h-.8zM64.9 246.1h.8v.8h-.8zM52.4 250.3h.8v.8h-.8zM63.0 245.6h.8v.8h-.8zM54.4 250.2h.8v.8h-.8zM52.2 251.5h.8v.8h-.8zM65.2 244.9h.8v.8h-.8zM60.7 246.1h.8v.8h-.8zM60.2 245.1h.8v.8h-.8zM56.7 247.8h.8v.8h-.8zM64.0 246.4h.8v.8h-.8zM66.2 244.9h.8v.8h-.8zM50.9 251.3h.8v.8h-.8zM48.2 265.7h.8v.8h-.8zM47.9 257.1h.8v.8h-.8zM44.2 261.4h.8v.8h-.8zM49.0 263.0h.8v.8h-.8zM48.1 263.6h.8v.8h-.8zM43.6 264.5h.8v.8h-.8zM51.9 267.4h.8v.8h-.8zM48.6 263.6h.8v.8h-.8zM48.3 259.1h.8v.8h-.8zM47.5 267.9h.8v.8h-.8zM46.2 261.4h.8v.8h-.8zM46.0 258.9h.8v.8h-.8zM49.6 265.6h.8v.8h-.8zM46.9 261.4h.8v.8h-.8zM43.7 254.1h.8v.8h-.8zM48.2 262.3h.8v.8h-.8zM44.9 253.7h.8v.8h-.8zM41.0 260.7h.8v.8h-.8zM43.5 254.4h.8v.8h-.8zM48.3 250.6h.8v.8h-.8zM52.7 258.0h.8v.8h-.8zM54.1 263.1h.8v.8h-.8zM47.1 247.9h.8v.8h-.8zM48.6 266.9h.8v.8h-.8zM46.2 245.9h.8v.8h-.8zM48.5 249.1h.8v.8h-.8zM50.1 272.4h.8v.8h-.8zM49.3 261.4h.8v.8h-.8zM52.4 259.9h.8v.8h-.8zM45.6 261.0h.8v.8h-.8zM46.3 262.6h.8v.8h-.8zM52.9 261.7h.8v.8h-.8zM46.7 258.5h.8v.8h-.8zM51.3 257.8h.8v.8h-.8zM48.2 249.0h.8v.8h-.8zM47.0 260.2h.8v.8h-.8zM46.1 265.5h.8v.8h-.8zM46.9 271.5h.8v.8h-.8zM44.2 265.9h.8v.8h-.8zM44.5 259.0h.8v.8h-.8zM46.3 253.2h.8v.8h-.8zM45.8 266.9h.8v.8h-.8zM49.3 259.5h.8v.8h-.8zM59.1 265.4h.8v.8h-.8zM45.3 263.4h.8v.8h-.8zM46.0 253.3h.8v.8h-.8zM48.3 257.9h.8v.8h-.8zM51.3 258.4h.8v.8h-.8zM46.4 262.6h.8v.8h-.8zM54.2 263.8h.8v.8h-.8zM44.5 262.5h.8v.8h-.8zM45.6 255.3h.8v.8h-.8zM49.8 249.0h.8v.8h-.8zM47.0 253.6h.8v.8h-.8zM43.7 254.2h.8v.8h-.8zM46.0 264.5h.8v.8h-.8zM48.8 266.6h.8v.8h-.8zM46.1 264.4h.8v.8h-.8zM47.2 260.9h.8v.8h-.8zM50.4 263.0h.8v.8h-.8zM46.5 259.9h.8v.8h-.8zM46.6 257.0h.8v.8h-.8zM50.5 263.9h.8v.8h-.8zM50.4 252.1h.8v.8h-.8zM51.1 264.7h.8v.8h-.8zM49.8 263.6h.8v.8h-.8zM48.0 272.4h.8v.8h-.8zM48.7 261.7h.8v.8h-.8zM46.8 254.1h.8v.8h-.8zM45.0 254.5h.8v.8h-.8zM63.4 269.2h.8v.8h-.8zM48.8 253.0h.8v.8h-.8zM56.5 248.3h.8v.8h-.8z" fill="#2020ff" fill-opacity="0.3"/>
<path d="M58.0 247.8h.8v.8h-.8zM65.5 244.6h.8v.8h-.8zM59.9 249.2h.8v.8h-.8zM62.6 245.1h.8v.8h-.8zM65.2 245.1h.8v.8h-.8zM66.1 244.7h.8v.8h-.8zM53.3 248.5h.8v.8h-.8zM63.4 243.8h.8v.8h-.8zM57.8 248.3h.8v.8h-.8zM53.6 249.4h.8v.8h-.8zM59.2 248.9h.8v.8h-.8zM64.2 246.0h.8v.8h-.8zM56.7 248.1h.8v.8h-.8zM66.2 243.7h.8v.8h-.8zM52.9 250.3h.8v.8h-.8zM53.6 248.9h.8v.8h-.8zM52.9 251.0h.8v.8h-.8zM51.0 252.6h.8v.8h-.8zM69.6 243.1h.8v.8h-.8zM52.6 250.3h.8v.8h-.8zM50.0 253.0h.8v.8h-.8zM51.3 264.3h.8v.8h-.8zM49.1 262.7h.8v.8h-.8zM50.8 253.5h.8v.8h-.8zM49.5 257.7h.8v.8h-.8zM47.4 251.4h.8v.8h-.8zM49.8 250.4h.8v.8h-.8zM46.9 271.7h.8v.8h-.8zM46.0 268.3h.8v.8h-.8zM49.0 263.1h.8v.8h-.8zM46.8 259.0h.8v.8h-.8zM44.6 248.5h.8v.8h-.8zM44.8 254.7h.8v.8h-.8zM43.3 261.0h.8v.8h-.8zM47.3 257.6h.8v.8h-.8zM46.7 256.9h.8v.8h-.8zM47.6 266.3h.8v.8h-.8zM47.5 258.8h.8v.8h-.8zM53.0 266.4h.8v.8h-.8zM49.5 266.9h.8v.8h-.8zM46.6 270.9h.8v.8h-.8zM45.3 247.7h.8v.8h-.8zM48.1 250.3h.8v.8h-.8zM50.1 267.1h.8v.8h-.8zM47.8 271.5h.8v.8h-.8zM45.3 267.2h.8v.8h-.8zM46.7 264.3h.8v.8h-.8zM46.4 265.6h.8v.8h-.8zM48.1 257.7h.8v.8h-.8zM42.9 268.8h.8v.8h-.8zM47.8 264.3h.8v.8h-.8zM48.5 256.7h.8v.8h-.8zM44.1 264.6h.8v.8h-.8zM48.3 255.4h.8v.8h-.8zM49.7 246.9h.8v.8h-.8zM46.1 254.6h.8v.8h-.8zM50.8 263.6h.8v.8h-.8zM49.6 263.8h.8v.8h-.8zM50.2 261.2h.8v.8h-.8zM46.4 251.6h.8v.8h-.8zM44.7 253.2h.8v.8h-.8zM44.7 261.6h.8v.8h-.8zM43.9 259.7h.8v.8h-.8zM44.3 267.3h.8v.8h-.8zM48.5 254.8h.8v.8h-.8zM47.8 255.1h.8v.8h-.8zM44.2 270.5h.8v.8h-.8zM43.6 263.9h.8v.8h-.8zM48.6 252.4h.8v.8h-.8zM46.6 269.5h.8v.8h-.8zM51.0 256.2h.8v.8h-.8zM47.2 259.2h.8v.8h-.8zM43.8 256.7h.8v.8h-.8zM49.1 266.0h.8v.8h-.8zM42.1 265.6h.8v.8h-.8zM46.1 264.6h.8v.8h-.8zM49.9 264.0h.8v.8h-.8zM44.3 260.2h.8v.8h-.8zM44.3 256.6h.8v.8h-.8zM48.1 267.9h.8v.8h-.8zM43.8 255.4h.8v.8h-.8zM47.2 264.5h.8v.8h-.8zM46.9 272.6h.8v.8h-.8zM47.6 262.5h.8v.8h-.8zM45.6 260.4h.8v.8h-.8zM51.3 259.0h.8v.8h-.8zM50.6 261.6h.8v.8h-.8zM42.0 260.1h.8v.8h-.8zM51.6 256.0h.8v.8h-.8zM48.3 256.1h.8v.8h-.8zM46.7 246.9h.8v.8h-.8zM45.3 270.3h.8v.8h-.8zM51.6 246.3h.8v.8h-.8zM45.2 245.6h.8v.8h-.8zM66.0 265.1h.8v.8h-.8zM50.2 259.2h.8v.8h-.8zM68.6 253.9h.8v.8h-.8z" fill="#2020ff" fill-opacity="0.3"/>
</g>
<rect x="48.9" y="240.50" width="29.3" height="14.9" fill="none" stroke="#b4304e" stroke-width="1"/>
<text x="82.3" y="272.4" font-size="8" text-anchor="end" fill="#000" stroke="#000" stroke-width="0.15">6 weeks</text>
<rect x="37.2" y="279.4" width="45.4" height="36.10" fill="#fff" stroke="#c8c8c8" stroke-width="0.9"/>
<line x1="37.2" y1="279.09999999999997" x2="82.6" y2="279.09999999999997" stroke="#dedede" stroke-width="1.4"/>
<line x1="37.0" y1="279.4" x2="37.0" y2="315.5" stroke="#b4b4b4" stroke-width="1.3"/>
<line x1="37.6" y1="283.79999999999995" x2="38.800000000000004" y2="283.79999999999995" stroke="#999" stroke-width="0.6"/>
<line x1="37.6" y1="292.5" x2="38.800000000000004" y2="292.5" stroke="#999" stroke-width="0.6"/>
<line x1="37.6" y1="301.7" x2="38.800000000000004" y2="301.7" stroke="#999" stroke-width="0.6"/>
<line x1="37.6" y1="310.4" x2="38.800000000000004" y2="310.4" stroke="#999" stroke-width="0.6"/>
<line x1="39.2" y1="315.5" x2="39.2" y2="316.7" stroke="#aaa" stroke-width="0.5"/>
<line x1="43.2" y1="315.5" x2="43.2" y2="316.7" stroke="#aaa" stroke-width="0.5"/>
<line x1="47.2" y1="315.5" x2="47.2" y2="316.7" stroke="#aaa" stroke-width="0.5"/>
<line x1="51.2" y1="315.5" x2="51.2" y2="316.7" stroke="#aaa" stroke-width="0.5"/>
<line x1="55.2" y1="315.5" x2="55.2" y2="316.7" stroke="#aaa" stroke-width="0.5"/>
<line x1="59.2" y1="315.5" x2="59.2" y2="316.7" stroke="#aaa" stroke-width="0.5"/>
<line x1="63.2" y1="315.5" x2="63.2" y2="316.7" stroke="#aaa" stroke-width="0.5"/>
<line x1="67.2" y1="315.5" x2="67.2" y2="316.7" stroke="#aaa" stroke-width="0.5"/>
<line x1="71.2" y1="315.5" x2="71.2" y2="316.7" stroke="#aaa" stroke-width="0.5"/>
<line x1="75.2" y1="315.5" x2="75.2" y2="316.7" stroke="#aaa" stroke-width="0.5"/>
<line x1="79.2" y1="315.5" x2="79.2" y2="316.7" stroke="#aaa" stroke-width="0.5"/>
<clipPath id="pc6"><rect x="37.6" y="279.79999999999995" width="44.6" height="35.30"/></clipPath>
<g clip-path="url(#pc6)"><g filter="url(#fb)">
<path d="M44.5 295.9 L44.5 304.4 L44.7 314.9" fill="none" stroke="#1414ff" stroke-width="4.3" stroke-linecap="round" stroke-linejoin="round" stroke-opacity="0.95"/>
<ellipse cx="44.5" cy="306.4" rx="2.3" ry="6" fill="#1414ff" fill-opacity="0.6"/>
</g>
<path d="M44.6 311.1h.8v.8h-.8zM45.0 305.0h.8v.8h-.8zM43.3 312.2h.8v.8h-.8zM45.4 299.5h.8v.8h-.8zM43.4 311.8h.8v.8h-.8zM44.2 310.7h.8v.8h-.8zM46.8 309.9h.8v.8h-.8zM46.0 303.6h.8v.8h-.8zM42.7 300.7h.8v.8h-.8zM44.2 305.5h.8v.8h-.8zM45.2 293.1h.8v.8h-.8zM45.4 303.8h.8v.8h-.8zM45.0 303.4h.8v.8h-.8zM47.1 304.0h.8v.8h-.8zM44.6 300.6h.8v.8h-.8zM42.4 311.4h.8v.8h-.8zM44.7 292.1h.8v.8h-.8zM44.3 301.5h.8v.8h-.8zM48.1 304.2h.8v.8h-.8zM47.6 303.8h.8v.8h-.8zM43.3 312.8h.8v.8h-.8zM43.9 310.8h.8v.8h-.8zM45.3 300.7h.8v.8h-.8zM45.4 314.6h.8v.8h-.8zM43.9 312.1h.8v.8h-.8zM44.0 305.8h.8v.8h-.8zM45.3 295.7h.8v.8h-.8zM44.0 300.2h.8v.8h-.8zM44.4 314.8h.8v.8h-.8zM47.9 309.6h.8v.8h-.8zM46.8 309.0h.8v.8h-.8zM42.7 306.1h.8v.8h-.8zM46.6 302.3h.8v.8h-.8zM45.2 308.9h.8v.8h-.8zM44.7 306.3h.8v.8h-.8zM48.0 303.6h.8v.8h-.8zM44.7 300.3h.8v.8h-.8zM44.1 302.7h.8v.8h-.8zM45.7 297.1h.8v.8h-.8zM42.3 308.6h.8v.8h-.8zM47.2 309.3h.8v.8h-.8zM47.2 305.9h.8v.8h-.8zM43.9 306.0h.8v.8h-.8zM42.6 300.5h.8v.8h-.8zM49.0 308.8h.8v.8h-.8zM45.7 309.6h.8v.8h-.8zM43.1 299.7h.8v.8h-.8zM43.4 305.5h.8v.8h-.8zM45.9 304.2h.8v.8h-.8zM46.9 300.7h.8v.8h-.8zM41.4 302.2h.8v.8h-.8zM45.1 311.4h.8v.8h-.8zM45.4 302.2h.8v.8h-.8zM46.5 303.1h.8v.8h-.8zM46.8 307.2h.8v.8h-.8zM42.8 304.1h.8v.8h-.8zM43.0 301.0h.8v.8h-.8zM43.0 310.7h.8v.8h-.8zM42.8 303.8h.8v.8h-.8zM46.2 286.7h.8v.8h-.8zM44.7 313.6h.8v.8h-.8zM45.8 305.6h.8v.8h-.8zM40.9 299.8h.8v.8h-.8zM45.6 302.5h.8v.8h-.8zM45.5 303.4h.8v.8h-.8zM45.4 309.8h.8v.8h-.8zM45.6 311.6h.8v.8h-.8zM42.3 306.7h.8v.8h-.8zM46.0 313.1h.8v.8h-.8zM49.6 291.6h.8v.8h-.8zM50.7 291.3h.8v.8h-.8zM62.6 302.0h.8v.8h-.8zM42.8 293.6h.8v.8h-.8zM44.5 291.1h.8v.8h-.8zM60.5 310.1h.8v.8h-.8z" fill="#2020ff" fill-opacity="0.3"/>
<path d="M46.0 312.6h.8v.8h-.8zM47.1 302.9h.8v.8h-.8zM47.4 304.4h.8v.8h-.8zM46.1 312.7h.8v.8h-.8zM44.4 304.0h.8v.8h-.8zM45.4 310.5h.8v.8h-.8zM44.0 306.5h.8v.8h-.8zM48.0 301.7h.8v.8h-.8zM45.2 303.1h.8v.8h-.8zM46.3 308.0h.8v.8h-.8zM43.6 305.6h.8v.8h-.8zM44.5 304.6h.8v.8h-.8zM46.4 301.2h.8v.8h-.8zM44.2 301.4h.8v.8h-.8zM43.6 301.5h.8v.8h-.8zM43.3 293.1h.8v.8h-.8zM43.0 298.8h.8v.8h-.8zM39.8 310.5h.8v.8h-.8zM46.8 305.4h.8v.8h-.8zM46.4 305.8h.8v.8h-.8zM44.0 309.1h.8v.8h-.8zM43.7 302.2h.8v.8h-.8zM45.2 295.8h.8v.8h-.8zM45.7 308.0h.8v.8h-.8zM45.6 308.0h.8v.8h-.8zM43.0 300.7h.8v.8h-.8zM45.9 307.1h.8v.8h-.8zM43.6 303.1h.8v.8h-.8zM45.0 310.5h.8v.8h-.8zM46.4 300.3h.8v.8h-.8zM45.7 304.1h.8v.8h-.8zM47.0 314.3h.8v.8h-.8zM47.4 309.4h.8v.8h-.8zM44.3 307.3h.8v.8h-.8zM42.6 300.9h.8v.8h-.8zM48.1 313.4h.8v.8h-.8zM42.6 303.1h.8v.8h-.8zM41.8 314.4h.8v.8h-.8zM45.7 313.0h.8v.8h-.8zM44.7 306.8h.8v.8h-.8zM42.1 307.1h.8v.8h-.8zM45.3 300.1h.8v.8h-.8zM40.3 313.7h.8v.8h-.8zM45.6 300.0h.8v.8h-.8zM48.4 299.4h.8v.8h-.8zM41.3 298.7h.8v.8h-.8zM41.6 306.1h.8v.8h-.8zM44.1 301.3h.8v.8h-.8zM45.3 305.7h.8v.8h-.8zM47.1 311.5h.8v.8h-.8zM42.2 298.6h.8v.8h-.8zM47.4 303.1h.8v.8h-.8zM42.3 307.5h.8v.8h-.8zM46.1 308.4h.8v.8h-.8zM44.4 313.0h.8v.8h-.8zM44.1 313.7h.8v.8h-.8zM45.1 305.1h.8v.8h-.8zM47.0 305.7h.8v.8h-.8zM42.7 308.5h.8v.8h-.8zM45.1 294.6h.8v.8h-.8zM41.1 306.5h.8v.8h-.8zM43.5 301.1h.8v.8h-.8zM43.8 303.1h.8v.8h-.8zM41.8 300.5h.8v.8h-.8zM44.5 306.7h.8v.8h-.8zM42.6 306.5h.8v.8h-.8zM46.8 304.2h.8v.8h-.8zM46.3 306.3h.8v.8h-.8zM55.8 291.6h.8v.8h-.8zM58.2 287.3h.8v.8h-.8zM57.9 290.7h.8v.8h-.8zM43.7 288.5h.8v.8h-.8zM50.2 299.2h.8v.8h-.8zM53.7 295.7h.8v.8h-.8zM43.2 309.6h.8v.8h-.8z" fill="#2020ff" fill-opacity="0.3"/>
<path d="M49.2 304.0h.8v.8h-.8zM44.5 309.1h.8v.8h-.8zM43.7 306.1h.8v.8h-.8zM45.7 300.6h.8v.8h-.8zM44.0 301.9h.8v.8h-.8zM45.4 310.4h.8v.8h-.8zM46.0 286.9h.8v.8h-.8zM46.3 309.1h.8v.8h-.8zM45.1 314.8h.8v.8h-.8zM44.3 311.7h.8v.8h-.8zM44.7 307.2h.8v.8h-.8zM42.6 297.8h.8v.8h-.8zM44.5 305.5h.8v.8h-.8zM46.6 293.9h.8v.8h-.8zM45.3 299.1h.8v.8h-.8zM45.6 310.7h.8v.8h-.8zM39.7 314.6h.8v.8h-.8zM47.2 304.9h.8v.8h-.8zM43.8 304.0h.8v.8h-.8zM43.0 308.4h.8v.8h-.8zM45.7 308.8h.8v.8h-.8zM42.6 306.0h.8v.8h-.8zM46.0 301.1h.8v.8h-.8zM44.8 311.7h.8v.8h-.8zM44.0 302.4h.8v.8h-.8zM43.9 305.9h.8v.8h-.8zM44.1 303.8h.8v.8h-.8zM41.2 305.6h.8v.8h-.8zM44.7 304.3h.8v.8h-.8zM46.8 299.7h.8v.8h-.8zM46.2 308.0h.8v.8h-.8zM44.9 311.0h.8v.8h-.8zM42.1 302.6h.8v.8h-.8zM42.4 303.8h.8v.8h-.8zM40.9 310.2h.8v.8h-.8zM43.3 307.0h.8v.8h-.8zM43.1 301.6h.8v.8h-.8zM43.5 303.9h.8v.8h-.8zM46.2 302.8h.8v.8h-.8zM39.9 301.6h.8v.8h-.8zM42.8 306.8h.8v.8h-.8zM47.3 308.3h.8v.8h-.8zM45.5 296.8h.8v.8h-.8zM44.7 307.3h.8v.8h-.8zM42.3 292.4h.8v.8h-.8zM45.1 299.8h.8v.8h-.8zM45.9 299.8h.8v.8h-.8zM42.2 296.5h.8v.8h-.8zM45.6 297.6h.8v.8h-.8zM46.1 310.6h.8v.8h-.8zM43.7 304.7h.8v.8h-.8zM43.1 304.1h.8v.8h-.8zM47.5 312.8h.8v.8h-.8zM46.4 300.0h.8v.8h-.8zM45.4 311.8h.8v.8h-.8zM43.6 305.0h.8v.8h-.8zM40.4 306.3h.8v.8h-.8zM46.0 306.3h.8v.8h-.8zM47.8 307.9h.8v.8h-.8zM45.2 305.1h.8v.8h-.8zM46.3 304.7h.8v.8h-.8zM44.5 308.8h.8v.8h-.8zM44.8 300.1h.8v.8h-.8zM44.3 294.0h.8v.8h-.8zM50.9 303.0h.8v.8h-.8zM44.3 299.1h.8v.8h-.8zM43.7 310.5h.8v.8h-.8zM48.6 301.7h.8v.8h-.8zM44.8 302.6h.8v.8h-.8zM45.8 306.4h.8v.8h-.8zM53.0 292.2h.8v.8h-.8zM54.4 289.5h.8v.8h-.8zM49.0 294.0h.8v.8h-.8zM44.8 304.7h.8v.8h-.8zM63.0 300.2h.8v.8h-.8zM41.5 307.6h.8v.8h-.8zM64.0 300.6h.8v.8h-.8z" fill="#2020ff" fill-opacity="0.3"/>
</g>
<rect x="48.6" y="282.70" width="29.3" height="14.9" fill="none" stroke="#b4304e" stroke-width="1"/>
<text x="82.3" y="313.1" font-size="8" text-anchor="end" fill="#000" stroke="#000" stroke-width="0.15">7 weeks</text>
<rect x="37.2" y="321.3" width="45.4" height="36.20" fill="#fff" stroke="#c8c8c8" stroke-width="0.9"/>
<line x1="37.2" y1="321.0" x2="82.6" y2="321.0" stroke="#dedede" stroke-width="1.4"/>
<line x1="37.0" y1="321.3" x2="37.0" y2="357.5" stroke="#b4b4b4" stroke-width="1.3"/>
<line x1="37.6" y1="325.7" x2="38.800000000000004" y2="325.7" stroke="#999" stroke-width="0.6"/>
<line x1="37.6" y1="334.40000000000003" x2="38.800000000000004" y2="334.40000000000003" stroke="#999" stroke-width="0.6"/>
<line x1="37.6" y1="343.6" x2="38.800000000000004" y2="343.6" stroke="#999" stroke-width="0.6"/>
<line x1="37.6" y1="352.3" x2="38.800000000000004" y2="352.3" stroke="#999" stroke-width="0.6"/>
<line x1="39.2" y1="357.5" x2="39.2" y2="358.7" stroke="#aaa" stroke-width="0.5"/>
<line x1="43.2" y1="357.5" x2="43.2" y2="358.7" stroke="#aaa" stroke-width="0.5"/>
<line x1="47.2" y1="357.5" x2="47.2" y2="358.7" stroke="#aaa" stroke-width="0.5"/>
<line x1="51.2" y1="357.5" x2="51.2" y2="358.7" stroke="#aaa" stroke-width="0.5"/>
<line x1="55.2" y1="357.5" x2="55.2" y2="358.7" stroke="#aaa" stroke-width="0.5"/>
<line x1="59.2" y1="357.5" x2="59.2" y2="358.7" stroke="#aaa" stroke-width="0.5"/>
<line x1="63.2" y1="357.5" x2="63.2" y2="358.7" stroke="#aaa" stroke-width="0.5"/>
<line x1="67.2" y1="357.5" x2="67.2" y2="358.7" stroke="#aaa" stroke-width="0.5"/>
<line x1="71.2" y1="357.5" x2="71.2" y2="358.7" stroke="#aaa" stroke-width="0.5"/>
<line x1="75.2" y1="357.5" x2="75.2" y2="358.7" stroke="#aaa" stroke-width="0.5"/>
<line x1="79.2" y1="357.5" x2="79.2" y2="358.7" stroke="#aaa" stroke-width="0.5"/>
<clipPath id="pc7"><rect x="37.6" y="321.7" width="44.6" height="35.40"/></clipPath>
<g clip-path="url(#pc7)"><g filter="url(#fb)">
<path d="M45.7 339.3 L45.7 347.3 L45.7 356.8" fill="none" stroke="#1414ff" stroke-width="4.3" stroke-linecap="round" stroke-linejoin="round" stroke-opacity="0.95"/>
<ellipse cx="45.5" cy="349.3" rx="2.4" ry="5.5" fill="#1414ff" fill-opacity="0.6"/>
</g>
<path d="M47.5 347.5h.8v.8h-.8zM44.8 350.7h.8v.8h-.8zM44.7 343.3h.8v.8h-.8zM46.5 353.1h.8v.8h-.8zM43.8 355.0h.8v.8h-.8zM45.8 352.4h.8v.8h-.8zM46.0 353.0h.8v.8h-.8zM46.2 342.5h.8v.8h-.8zM46.3 345.0h.8v.8h-.8zM45.8 346.1h.8v.8h-.8zM43.2 344.7h.8v.8h-.8zM49.2 354.1h.8v.8h-.8zM46.7 344.4h.8v.8h-.8zM45.2 351.4h.8v.8h-.8zM47.7 339.8h.8v.8h-.8zM43.1 353.2h.8v.8h-.8zM47.2 344.8h.8v.8h-.8zM44.7 345.0h.8v.8h-.8zM45.2 340.7h.8v.8h-.8zM47.0 345.9h.8v.8h-.8zM42.5 352.3h.8v.8h-.8zM45.8 347.7h.8v.8h-.8zM47.4 352.8h.8v.8h-.8zM47.8 348.3h.8v.8h-.8zM41.9 345.4h.8v.8h-.8zM45.6 353.0h.8v.8h-.8zM46.6 333.9h.8v.8h-.8zM51.7 347.1h.8v.8h-.8zM45.3 352.6h.8v.8h-.8zM44.6 354.6h.8v.8h-.8zM48.6 348.0h.8v.8h-.8zM46.0 351.1h.8v.8h-.8zM47.2 348.0h.8v.8h-.8zM49.0 349.7h.8v.8h-.8zM42.5 351.4h.8v.8h-.8zM42.5 356.5h.8v.8h-.8zM47.5 347.9h.8v.8h-.8zM43.6 345.8h.8v.8h-.8zM44.9 348.3h.8v.8h-.8zM45.6 352.8h.8v.8h-.8zM47.4 349.7h.8v.8h-.8zM45.1 344.9h.8v.8h-.8zM45.5 336.9h.8v.8h-.8zM46.3 343.8h.8v.8h-.8zM42.5 347.8h.8v.8h-.8zM47.2 354.7h.8v.8h-.8zM47.3 350.5h.8v.8h-.8zM45.0 346.3h.8v.8h-.8zM46.1 339.5h.8v.8h-.8zM46.2 345.3h.8v.8h-.8zM45.7 348.2h.8v.8h-.8zM44.6 338.5h.8v.8h-.8zM43.5 356.2h.8v.8h-.8zM47.6 348.4h.8v.8h-.8zM46.4 346.1h.8v.8h-.8zM44.5 348.4h.8v.8h-.8zM43.4 345.5h.8v.8h-.8zM45.3 343.9h.8v.8h-.8zM46.7 346.3h.8v.8h-.8zM43.4 353.6h.8v.8h-.8zM44.8 348.6h.8v.8h-.8zM47.4 353.1h.8v.8h-.8zM43.7 354.6h.8v.8h-.8zM46.6 344.5h.8v.8h-.8zM44.7 345.0h.8v.8h-.8zM47.5 354.6h.8v.8h-.8zM45.2 345.8h.8v.8h-.8zM45.5 348.9h.8v.8h-.8zM42.3 336.1h.8v.8h-.8zM48.5 345.8h.8v.8h-.8zM50.9 324.7h.8v.8h-.8zM68.1 326.0h.8v.8h-.8zM57.1 336.8h.8v.8h-.8zM41.2 351.9h.8v.8h-.8z" fill="#2020ff" fill-opacity="0.3"/>
<path d="M42.1 351.0h.8v.8h-.8zM47.9 349.1h.8v.8h-.8zM46.0 346.6h.8v.8h-.8zM42.3 351.4h.8v.8h-.8zM47.2 344.4h.8v.8h-.8zM42.6 338.2h.8v.8h-.8zM49.6 346.4h.8v.8h-.8zM45.0 354.8h.8v.8h-.8zM44.2 339.9h.8v.8h-.8zM45.4 347.0h.8v.8h-.8zM46.9 351.4h.8v.8h-.8zM47.3 341.7h.8v.8h-.8zM46.4 349.5h.8v.8h-.8zM48.0 345.6h.8v.8h-.8zM44.7 335.9h.8v.8h-.8zM41.8 350.0h.8v.8h-.8zM42.6 345.7h.8v.8h-.8zM46.6 352.1h.8v.8h-.8zM46.1 337.7h.8v.8h-.8zM45.5 345.3h.8v.8h-.8zM48.4 335.6h.8v.8h-.8zM43.1 348.8h.8v.8h-.8zM46.0 331.8h.8v.8h-.8zM46.1 351.5h.8v.8h-.8zM42.9 348.1h.8v.8h-.8zM45.2 350.4h.8v.8h-.8zM43.6 349.6h.8v.8h-.8zM46.0 341.7h.8v.8h-.8zM47.1 342.9h.8v.8h-.8zM47.3 344.6h.8v.8h-.8zM45.5 350.1h.8v.8h-.8zM47.1 338.6h.8v.8h-.8zM45.3 341.3h.8v.8h-.8zM46.5 350.7h.8v.8h-.8zM45.8 341.9h.8v.8h-.8zM43.5 350.0h.8v.8h-.8zM45.5 342.4h.8v.8h-.8zM47.1 352.8h.8v.8h-.8zM46.9 345.5h.8v.8h-.8zM46.2 345.4h.8v.8h-.8zM42.6 346.6h.8v.8h-.8zM45.1 347.6h.8v.8h-.8zM46.5 346.0h.8v.8h-.8zM44.8 351.9h.8v.8h-.8zM47.0 354.0h.8v.8h-.8zM45.6 349.1h.8v.8h-.8zM45.4 349.6h.8v.8h-.8zM46.0 349.1h.8v.8h-.8zM43.2 343.9h.8v.8h-.8zM46.8 346.5h.8v.8h-.8zM44.0 352.7h.8v.8h-.8zM45.9 350.8h.8v.8h-.8zM45.6 344.6h.8v.8h-.8zM47.9 339.0h.8v.8h-.8zM41.0 338.1h.8v.8h-.8zM49.8 347.4h.8v.8h-.8zM47.9 349.2h.8v.8h-.8zM45.8 342.7h.8v.8h-.8zM46.8 349.0h.8v.8h-.8zM48.7 350.3h.8v.8h-.8zM49.0 352.6h.8v.8h-.8zM46.2 350.6h.8v.8h-.8zM46.5 352.3h.8v.8h-.8zM46.2 353.9h.8v.8h-.8zM48.2 346.2h.8v.8h-.8zM44.5 346.8h.8v.8h-.8zM46.2 352.3h.8v.8h-.8zM41.6 356.8h.8v.8h-.8zM61.5 324.4h.8v.8h-.8zM58.1 336.7h.8v.8h-.8zM68.3 346.9h.8v.8h-.8zM61.7 339.8h.8v.8h-.8z" fill="#2020ff" fill-opacity="0.3"/>
<path d="M46.9 346.9h.8v.8h-.8zM46.6 348.0h.8v.8h-.8zM45.0 353.4h.8v.8h-.8zM44.3 343.9h.8v.8h-.8zM43.2 348.4h.8v.8h-.8zM45.0 348.4h.8v.8h-.8zM44.4 338.6h.8v.8h-.8zM45.6 356.6h.8v.8h-.8zM42.0 349.8h.8v.8h-.8zM43.3 353.7h.8v.8h-.8zM41.8 352.4h.8v.8h-.8zM44.1 338.4h.8v.8h-.8zM44.7 346.1h.8v.8h-.8zM43.8 355.4h.8v.8h-.8zM46.6 340.9h.8v.8h-.8zM46.4 348.9h.8v.8h-.8zM43.9 346.2h.8v.8h-.8zM42.1 341.9h.8v.8h-.8zM46.9 352.4h.8v.8h-.8zM46.6 347.8h.8v.8h-.8zM43.5 351.0h.8v.8h-.8zM43.7 345.9h.8v.8h-.8zM45.5 343.0h.8v.8h-.8zM43.6 354.1h.8v.8h-.8zM48.8 338.6h.8v.8h-.8zM49.3 355.5h.8v.8h-.8zM44.9 347.9h.8v.8h-.8zM44.9 346.6h.8v.8h-.8zM45.2 350.9h.8v.8h-.8zM42.6 351.3h.8v.8h-.8zM44.5 350.9h.8v.8h-.8zM43.9 356.2h.8v.8h-.8zM46.2 352.6h.8v.8h-.8zM43.2 351.3h.8v.8h-.8zM48.2 354.6h.8v.8h-.8zM47.9 335.8h.8v.8h-.8zM46.2 342.2h.8v.8h-.8zM42.8 344.1h.8v.8h-.8zM44.9 346.2h.8v.8h-.8zM43.5 346.5h.8v.8h-.8zM46.7 345.6h.8v.8h-.8zM43.0 338.8h.8v.8h-.8zM46.7 346.4h.8v.8h-.8zM44.6 346.1h.8v.8h-.8zM46.4 352.5h.8v.8h-.8zM50.3 348.4h.8v.8h-.8zM43.2 337.4h.8v.8h-.8zM45.6 336.9h.8v.8h-.8zM45.7 344.3h.8v.8h-.8zM45.8 350.3h.8v.8h-.8zM45.7 343.0h.8v.8h-.8zM45.5 346.2h.8v.8h-.8zM42.5 344.6h.8v.8h-.8zM45.8 336.1h.8v.8h-.8zM45.8 348.7h.8v.8h-.8zM46.8 349.6h.8v.8h-.8zM44.0 353.6h.8v.8h-.8zM42.4 351.8h.8v.8h-.8zM49.2 353.0h.8v.8h-.8zM45.8 355.8h.8v.8h-.8zM44.0 345.9h.8v.8h-.8zM49.3 354.9h.8v.8h-.8zM46.9 350.1h.8v.8h-.8zM43.0 351.2h.8v.8h-.8zM44.3 347.7h.8v.8h-.8zM41.8 350.9h.8v.8h-.8zM62.3 346.9h.8v.8h-.8zM46.4 349.9h.8v.8h-.8zM41.1 338.1h.8v.8h-.8zM47.1 335.6h.8v.8h-.8z" fill="#2020ff" fill-opacity="0.3"/>
</g>
<rect x="48.9" y="324.60" width="29.3" height="14.9" fill="none" stroke="#b4304e" stroke-width="1"/>
<text x="82.3" y="355.1" font-size="8" text-anchor="end" fill="#000" stroke="#000" stroke-width="0.15">8 weeks</text>
</g>
<text x="150.4" y="23.9" font-size="10.25" text-anchor="start" fill="#000">total spleen erythroblasts</text>
<line x1="150" y1="29.8" x2="150" y2="110.8" stroke="#3a3a3a" stroke-width="2"/>
<line x1="146.6" y1="107.5" x2="264" y2="107.5" stroke="#111" stroke-width="1.1"/>
<line x1="146.6" y1="107.5" x2="149" y2="107.5" stroke="#222" stroke-width="1"/>
<text x="143.2" y="110.86" font-size="9.5" text-anchor="end" fill="#000">0</text>
<line x1="146.6" y1="82.75999999999999" x2="149" y2="82.75999999999999" stroke="#222" stroke-width="1"/>
<text x="143.2" y="86.11999999999999" font-size="9.5" text-anchor="end" fill="#000">20</text>
<line x1="146.6" y1="58.019999999999996" x2="149" y2="58.019999999999996" stroke="#222" stroke-width="1"/>
<text x="143.2" y="61.379999999999995" font-size="9.5" text-anchor="end" fill="#000">40</text>
<line x1="146.6" y1="33.28" x2="149" y2="33.28" stroke="#222" stroke-width="1"/>
<text x="143.2" y="36.64" font-size="9.5" text-anchor="end" fill="#000">60</text>
<line x1="157.43" y1="107.5" x2="157.43" y2="109.6" stroke="#111" stroke-width="1"/>
<line x1="164.86" y1="107.5" x2="164.86" y2="109.6" stroke="#111" stroke-width="1"/>
<line x1="172.29" y1="107.5" x2="172.29" y2="109.6" stroke="#111" stroke-width="1"/>
<line x1="179.72" y1="107.5" x2="179.72" y2="109.6" stroke="#111" stroke-width="1"/>
<line x1="187.15" y1="107.5" x2="187.15" y2="110.8" stroke="#111" stroke-width="1"/>
<line x1="194.57999999999998" y1="107.5" x2="194.57999999999998" y2="109.6" stroke="#111" stroke-width="1"/>
<line x1="202.01" y1="107.5" x2="202.01" y2="109.6" stroke="#111" stroke-width="1"/>
<line x1="209.44" y1="107.5" x2="209.44" y2="109.6" stroke="#111" stroke-width="1"/>
<line x1="216.87" y1="107.5" x2="216.87" y2="109.6" stroke="#111" stroke-width="1"/>
<line x1="224.3" y1="107.5" x2="224.3" y2="110.8" stroke="#111" stroke-width="1"/>
<line x1="231.73" y1="107.5" x2="231.73" y2="109.6" stroke="#111" stroke-width="1"/>
<line x1="239.16" y1="107.5" x2="239.16" y2="109.6" stroke="#111" stroke-width="1"/>
<line x1="246.59" y1="107.5" x2="246.59" y2="109.6" stroke="#111" stroke-width="1"/>
<line x1="254.01999999999998" y1="107.5" x2="254.01999999999998" y2="109.6" stroke="#111" stroke-width="1"/>
<line x1="261.45" y1="107.5" x2="261.45" y2="110.8" stroke="#111" stroke-width="1"/>
<text x="150.0" y="122.1" font-size="9.5" text-anchor="middle" fill="#000">0</text>
<text x="187.15" y="122.1" font-size="9.5" text-anchor="middle" fill="#000">5</text>
<text x="224.3" y="122.1" font-size="9.5" text-anchor="middle" fill="#000">10</text>
<text x="261.45" y="122.1" font-size="9.5" text-anchor="middle" fill="#000">15</text>
<text x="207.3" y="136.7" font-size="10.9" text-anchor="middle" fill="#000" textLength="18.3" lengthAdjust="spacingAndGlyphs" stroke="#000" stroke-width="0.25">Week</text>
<text transform="translate(123.9,65.8) rotate(-90)" x="0" y="0" font-size="10.3" text-anchor="middle" fill="#000" textLength="57.5" lengthAdjust="spacingAndGlyphs" dy="3.4" stroke="#000" stroke-width="0.12">Cell number (x10<tspan font-size="7" dy="-3.5">6</tspan><tspan dy="3.5">)</tspan></text>
<line x1="157.43" y1="58.7" x2="157.43" y2="77.9" stroke="#2c4a8a" stroke-width="1.0"/>
<line x1="156.33" y1="58.7" x2="158.53" y2="58.7" stroke="#2c4a8a" stroke-width="1.0"/>
<line x1="156.33" y1="77.9" x2="158.53" y2="77.9" stroke="#2c4a8a" stroke-width="1.0"/>
<line x1="164.86" y1="52.5" x2="164.86" y2="61.5" stroke="#2c4a8a" stroke-width="1.0"/>
<line x1="163.76000000000002" y1="52.5" x2="165.96" y2="52.5" stroke="#2c4a8a" stroke-width="1.0"/>
<line x1="163.76000000000002" y1="61.5" x2="165.96" y2="61.5" stroke="#2c4a8a" stroke-width="1.0"/>
<line x1="172.29" y1="45.4" x2="172.29" y2="69.2" stroke="#2c4a8a" stroke-width="1.0"/>
<line x1="171.19" y1="45.4" x2="173.39" y2="45.4" stroke="#2c4a8a" stroke-width="1.0"/>
<line x1="171.19" y1="69.2" x2="173.39" y2="69.2" stroke="#2c4a8a" stroke-width="1.0"/>
<line x1="179.72" y1="70.8" x2="179.72" y2="77.3" stroke="#2c4a8a" stroke-width="1.0"/>
<line x1="178.62" y1="70.8" x2="180.82" y2="70.8" stroke="#2c4a8a" stroke-width="1.0"/>
<line x1="178.62" y1="77.3" x2="180.82" y2="77.3" stroke="#2c4a8a" stroke-width="1.0"/>
<line x1="187.15" y1="78.5" x2="187.15" y2="90.4" stroke="#2c4a8a" stroke-width="1.0"/>
<line x1="186.05" y1="78.5" x2="188.25" y2="78.5" stroke="#2c4a8a" stroke-width="1.0"/>
<line x1="186.05" y1="90.4" x2="188.25" y2="90.4" stroke="#2c4a8a" stroke-width="1.0"/>
<line x1="194.57999999999998" y1="96" x2="194.57999999999998" y2="100.5" stroke="#2c4a8a" stroke-width="1.0"/>
<line x1="193.48" y1="96" x2="195.67999999999998" y2="96" stroke="#2c4a8a" stroke-width="1.0"/>
<line x1="193.48" y1="100.5" x2="195.67999999999998" y2="100.5" stroke="#2c4a8a" stroke-width="1.0"/>
<line x1="209.44" y1="100.2" x2="209.44" y2="105.3" stroke="#2c4a8a" stroke-width="1.0"/>
<line x1="208.34" y1="100.2" x2="210.54" y2="100.2" stroke="#2c4a8a" stroke-width="1.0"/>
<line x1="208.34" y1="105.3" x2="210.54" y2="105.3" stroke="#2c4a8a" stroke-width="1.0"/>
<line x1="216.87" y1="94.8" x2="216.87" y2="104.5" stroke="#2c4a8a" stroke-width="1.0"/>
<line x1="215.77" y1="94.8" x2="217.97" y2="94.8" stroke="#2c4a8a" stroke-width="1.0"/>
<line x1="215.77" y1="104.5" x2="217.97" y2="104.5" stroke="#2c4a8a" stroke-width="1.0"/>
<line x1="224.3" y1="103" x2="224.3" y2="106" stroke="#2c4a8a" stroke-width="1.0"/>
<line x1="223.20000000000002" y1="103" x2="225.4" y2="103" stroke="#2c4a8a" stroke-width="1.0"/>
<line x1="223.20000000000002" y1="106" x2="225.4" y2="106" stroke="#2c4a8a" stroke-width="1.0"/>
<line x1="239.16" y1="98.2" x2="239.16" y2="104.6" stroke="#2c4a8a" stroke-width="1.0"/>
<line x1="238.06" y1="98.2" x2="240.26" y2="98.2" stroke="#2c4a8a" stroke-width="1.0"/>
<line x1="238.06" y1="104.6" x2="240.26" y2="104.6" stroke="#2c4a8a" stroke-width="1.0"/>
<path d="M157.43 68.60 L164.86 57.10 L172.29 57.10 L179.72 74.00 L187.15 84.60 L194.58 98.80 L202.01 106.90 L209.44 102.90 L216.87 99.80 L224.30 104.60 L231.73 106.60 L239.16 101.50" fill="none" stroke="#2c4a8a" stroke-width="1.1" stroke-linejoin="round"/>
<circle cx="157.43" cy="68.60" r="1.15" fill="#2c4a8a"/>
<circle cx="164.86" cy="57.10" r="1.15" fill="#2c4a8a"/>
<circle cx="172.29" cy="57.10" r="1.15" fill="#2c4a8a"/>
<circle cx="179.72" cy="74.00" r="1.15" fill="#2c4a8a"/>
<circle cx="187.15" cy="84.60" r="1.15" fill="#2c4a8a"/>
<circle cx="194.58" cy="98.80" r="1.15" fill="#2c4a8a"/>
<circle cx="202.01" cy="106.90" r="1.15" fill="#2c4a8a"/>
<circle cx="209.44" cy="102.90" r="1.15" fill="#2c4a8a"/>
<circle cx="216.87" cy="99.80" r="1.15" fill="#2c4a8a"/>
<circle cx="224.30" cy="104.60" r="1.15" fill="#2c4a8a"/>
<circle cx="231.73" cy="106.60" r="1.15" fill="#2c4a8a"/>
<circle cx="239.16" cy="101.50" r="1.15" fill="#2c4a8a"/>
<circle cx="193.27" cy="91.75" r="1.3" fill="#111"/>
<circle cx="196.12" cy="91.75" r="1.3" fill="#111"/>
<circle cx="199.45" cy="99.90" r="1.3" fill="#111"/>
<circle cx="202.30" cy="99.90" r="1.3" fill="#111"/>
<circle cx="205.15" cy="99.90" r="1.3" fill="#111"/>
<circle cx="208.27" cy="95.60" r="1.3" fill="#111"/>
<circle cx="211.12" cy="95.60" r="1.3" fill="#111"/>
<circle cx="215.77" cy="90.70" r="1.3" fill="#111"/>
<circle cx="218.62" cy="90.70" r="1.3" fill="#111"/>
<circle cx="221.65" cy="99.10" r="1.3" fill="#111"/>
<circle cx="224.50" cy="99.10" r="1.3" fill="#111"/>
<circle cx="227.35" cy="99.10" r="1.3" fill="#111"/>
<circle cx="230.17" cy="102.10" r="1.3" fill="#111"/>
<circle cx="233.03" cy="102.10" r="1.3" fill="#111"/>
<circle cx="237.57" cy="94.20" r="1.3" fill="#111"/>
<circle cx="240.43" cy="94.20" r="1.3" fill="#111"/>
<text x="167.7" y="165.4" font-size="10.35" text-anchor="start" fill="#000">Total splenocytes</text>
<line x1="150" y1="171.8" x2="150" y2="252.5" stroke="#3a3a3a" stroke-width="2"/>
<line x1="146.6" y1="249.0" x2="264" y2="249.0" stroke="#111" stroke-width="1.3"/>
<line x1="146.6" y1="249.0" x2="149" y2="249.0" stroke="#222" stroke-width="1"/>
<text x="143.2" y="252.36" font-size="9.5" text-anchor="end" fill="#000">0</text>
<line x1="146.6" y1="230.425" x2="149" y2="230.425" stroke="#222" stroke-width="1"/>
<text x="143.2" y="233.78500000000003" font-size="9.5" text-anchor="end" fill="#000">100</text>
<line x1="146.6" y1="211.85" x2="149" y2="211.85" stroke="#222" stroke-width="1"/>
<text x="143.2" y="215.21" font-size="9.5" text-anchor="end" fill="#000">200</text>
<line x1="146.6" y1="193.275" x2="149" y2="193.275" stroke="#222" stroke-width="1"/>
<text x="143.2" y="196.63500000000002" font-size="9.5" text-anchor="end" fill="#000">300</text>
<line x1="146.6" y1="174.7" x2="149" y2="174.7" stroke="#222" stroke-width="1"/>
<text x="143.2" y="178.06" font-size="9.5" text-anchor="end" fill="#000">400</text>
<line x1="157.43" y1="249.0" x2="157.43" y2="251.2" stroke="#111" stroke-width="1"/>
<line x1="164.86" y1="249.0" x2="164.86" y2="251.2" stroke="#111" stroke-width="1"/>
<line x1="172.29" y1="249.0" x2="172.29" y2="251.2" stroke="#111" stroke-width="1"/>
<line x1="179.72" y1="249.0" x2="179.72" y2="251.2" stroke="#111" stroke-width="1"/>
<line x1="187.15" y1="249.0" x2="187.15" y2="252.4" stroke="#111" stroke-width="1"/>
<line x1="194.57999999999998" y1="249.0" x2="194.57999999999998" y2="251.2" stroke="#111" stroke-width="1"/>
<line x1="202.01" y1="249.0" x2="202.01" y2="251.2" stroke="#111" stroke-width="1"/>
<line x1="209.44" y1="249.0" x2="209.44" y2="251.2" stroke="#111" stroke-width="1"/>
<line x1="216.87" y1="249.0" x2="216.87" y2="251.2" stroke="#111" stroke-width="1"/>
<line x1="224.3" y1="249.0" x2="224.3" y2="252.4" stroke="#111" stroke-width="1"/>
<line x1="231.73" y1="249.0" x2="231.73" y2="251.2" stroke="#111" stroke-width="1"/>
<line x1="239.16" y1="249.0" x2="239.16" y2="251.2" stroke="#111" stroke-width="1"/>
<line x1="246.59" y1="249.0" x2="246.59" y2="251.2" stroke="#111" stroke-width="1"/>
<line x1="254.01999999999998" y1="249.0" x2="254.01999999999998" y2="251.2" stroke="#111" stroke-width="1"/>
<line x1="261.45" y1="249.0" x2="261.45" y2="252.4" stroke="#111" stroke-width="1"/>
<text x="150.0" y="264.0" font-size="9.5" text-anchor="middle" fill="#000">0</text>
<text x="187.15" y="264.0" font-size="9.5" text-anchor="middle" fill="#000">5</text>
<text x="224.3" y="264.0" font-size="9.5" text-anchor="middle" fill="#000">10</text>
<text x="261.45" y="264.0" font-size="9.5" text-anchor="middle" fill="#000">15</text>
<text x="207.8" y="278.6" font-size="10.9" text-anchor="middle" fill="#000" textLength="18.3" lengthAdjust="spacingAndGlyphs" stroke="#000" stroke-width="0.25">Week</text>
<text transform="translate(118.3,211.0) rotate(-90)" x="0" y="0" font-size="10.3" text-anchor="middle" fill="#000" textLength="60" lengthAdjust="spacingAndGlyphs" dy="3.4" stroke="#000" stroke-width="0.12">Cell number (x10<tspan font-size="7" dy="-3.5">6</tspan><tspan dy="3.5">)</tspan></text>
<line x1="157.43" y1="234.6" x2="157.43" y2="239.2" stroke="#2c4a8a" stroke-width="1.0"/>
<line x1="156.33" y1="234.6" x2="158.53" y2="234.6" stroke="#2c4a8a" stroke-width="1.0"/>
<line x1="156.33" y1="239.2" x2="158.53" y2="239.2" stroke="#2c4a8a" stroke-width="1.0"/>
<line x1="164.86" y1="227" x2="164.86" y2="229.5" stroke="#2c4a8a" stroke-width="1.0"/>
<line x1="163.76000000000002" y1="227" x2="165.96" y2="227" stroke="#2c4a8a" stroke-width="1.0"/>
<line x1="163.76000000000002" y1="229.5" x2="165.96" y2="229.5" stroke="#2c4a8a" stroke-width="1.0"/>
<line x1="172.29" y1="206.4" x2="172.29" y2="217" stroke="#2c4a8a" stroke-width="1.0"/>
<line x1="171.19" y1="206.4" x2="173.39" y2="206.4" stroke="#2c4a8a" stroke-width="1.0"/>
<line x1="171.19" y1="217" x2="173.39" y2="217" stroke="#2c4a8a" stroke-width="1.0"/>
<line x1="179.72" y1="203.9" x2="179.72" y2="210.3" stroke="#2c4a8a" stroke-width="1.0"/>
<line x1="178.62" y1="203.9" x2="180.82" y2="203.9" stroke="#2c4a8a" stroke-width="1.0"/>
<line x1="178.62" y1="210.3" x2="180.82" y2="210.3" stroke="#2c4a8a" stroke-width="1.0"/>
<line x1="187.15" y1="203.7" x2="187.15" y2="219.1" stroke="#2c4a8a" stroke-width="1.0"/>
<line x1="186.05" y1="203.7" x2="188.25" y2="203.7" stroke="#2c4a8a" stroke-width="1.0"/>
<line x1="186.05" y1="219.1" x2="188.25" y2="219.1" stroke="#2c4a8a" stroke-width="1.0"/>
<line x1="194.57999999999998" y1="213.4" x2="194.57999999999998" y2="221.7" stroke="#2c4a8a" stroke-width="1.0"/>
<line x1="193.48" y1="213.4" x2="195.67999999999998" y2="213.4" stroke="#2c4a8a" stroke-width="1.0"/>
<line x1="193.48" y1="221.7" x2="195.67999999999998" y2="221.7" stroke="#2c4a8a" stroke-width="1.0"/>
<line x1="202.01" y1="217" x2="202.01" y2="226.5" stroke="#2c4a8a" stroke-width="1.0"/>
<line x1="200.91" y1="217" x2="203.10999999999999" y2="217" stroke="#2c4a8a" stroke-width="1.0"/>
<line x1="200.91" y1="226.5" x2="203.10999999999999" y2="226.5" stroke="#2c4a8a" stroke-width="1.0"/>
<line x1="209.44" y1="205" x2="209.44" y2="221.3" stroke="#2c4a8a" stroke-width="1.0"/>
<line x1="208.34" y1="205" x2="210.54" y2="205" stroke="#2c4a8a" stroke-width="1.0"/>
<line x1="208.34" y1="221.3" x2="210.54" y2="221.3" stroke="#2c4a8a" stroke-width="1.0"/>
<line x1="216.87" y1="204.3" x2="216.87" y2="209.6" stroke="#2c4a8a" stroke-width="1.0"/>
<line x1="215.77" y1="204.3" x2="217.97" y2="204.3" stroke="#2c4a8a" stroke-width="1.0"/>
<line x1="215.77" y1="209.6" x2="217.97" y2="209.6" stroke="#2c4a8a" stroke-width="1.0"/>
<line x1="224.3" y1="211.3" x2="224.3" y2="217.7" stroke="#2c4a8a" stroke-width="1.0"/>
<line x1="223.20000000000002" y1="211.3" x2="225.4" y2="211.3" stroke="#2c4a8a" stroke-width="1.0"/>
<line x1="223.20000000000002" y1="217.7" x2="225.4" y2="217.7" stroke="#2c4a8a" stroke-width="1.0"/>
<line x1="231.73" y1="191.6" x2="231.73" y2="202.2" stroke="#2c4a8a" stroke-width="1.0"/>
<line x1="230.63" y1="191.6" x2="232.82999999999998" y2="191.6" stroke="#2c4a8a" stroke-width="1.0"/>
<line x1="230.63" y1="202.2" x2="232.82999999999998" y2="202.2" stroke="#2c4a8a" stroke-width="1.0"/>
<line x1="239.16" y1="210.7" x2="239.16" y2="219.8" stroke="#2c4a8a" stroke-width="1.0"/>
<line x1="238.06" y1="210.7" x2="240.26" y2="210.7" stroke="#2c4a8a" stroke-width="1.0"/>
<line x1="238.06" y1="219.8" x2="240.26" y2="219.8" stroke="#2c4a8a" stroke-width="1.0"/>
<path d="M157.43 236.70 L164.86 228.20 L172.29 212.80 L179.72 207.10 L187.15 211.30 L194.58 217.00 L202.01 220.80 L209.44 213.40 L216.87 207.10 L224.30 213.80 L231.73 198.00 L239.16 213.80" fill="none" stroke="#2c4a8a" stroke-width="1.1" stroke-linejoin="round"/>
<circle cx="157.43" cy="236.70" r="1.15" fill="#2c4a8a"/>
<circle cx="164.86" cy="228.20" r="1.15" fill="#2c4a8a"/>
<circle cx="172.29" cy="212.80" r="1.15" fill="#2c4a8a"/>
<circle cx="179.72" cy="207.10" r="1.15" fill="#2c4a8a"/>
<circle cx="187.15" cy="211.30" r="1.15" fill="#2c4a8a"/>
<circle cx="194.58" cy="217.00" r="1.15" fill="#2c4a8a"/>
<circle cx="202.01" cy="220.80" r="1.15" fill="#2c4a8a"/>
<circle cx="209.44" cy="213.40" r="1.15" fill="#2c4a8a"/>
<circle cx="216.87" cy="207.10" r="1.15" fill="#2c4a8a"/>
<circle cx="224.30" cy="213.80" r="1.15" fill="#2c4a8a"/>
<circle cx="231.73" cy="198.00" r="1.15" fill="#2c4a8a"/>
<circle cx="239.16" cy="213.80" r="1.15" fill="#2c4a8a"/>
<circle cx="171.82" cy="201.70" r="1.3" fill="#111"/>
<circle cx="174.68" cy="201.70" r="1.3" fill="#111"/>
<circle cx="179.67" cy="198.60" r="1.3" fill="#111"/>
<circle cx="182.53" cy="198.60" r="1.3" fill="#111"/>
<circle cx="186.97" cy="198.60" r="1.3" fill="#111"/>
<circle cx="189.83" cy="198.60" r="1.3" fill="#111"/>
<circle cx="195.15" cy="208.00" r="1.3" fill="#111"/>
<circle cx="209.80" cy="200.20" r="1.3" fill="#111"/>
<circle cx="215.50" cy="198.60" r="1.3" fill="#111"/>
<circle cx="218.35" cy="198.60" r="1.3" fill="#111"/>
<circle cx="221.20" cy="198.60" r="1.3" fill="#111"/>
<circle cx="224.47" cy="205.90" r="1.3" fill="#111"/>
<circle cx="227.33" cy="205.90" r="1.3" fill="#111"/>
<circle cx="230.50" cy="186.80" r="1.3" fill="#111"/>
<circle cx="233.35" cy="186.80" r="1.3" fill="#111"/>
<circle cx="236.20" cy="186.80" r="1.3" fill="#111"/>
<circle cx="239.40" cy="205.90" r="1.3" fill="#111"/>
<text x="127.3" y="306.9" font-size="10.33" text-anchor="start" fill="#000">Body weight versus spleen weight</text>
<line x1="150" y1="316.5" x2="150" y2="395.8" stroke="#3a3a3a" stroke-width="2"/>
<line x1="149" y1="318" x2="265" y2="318" stroke="#3a3a3a" stroke-width="2"/>
<line x1="261.5" y1="317" x2="261.5" y2="392.8" stroke="#111" stroke-width="1"/>
<line x1="146.6" y1="392.3" x2="262" y2="392.3" stroke="#111" stroke-width="1.2"/>
<line x1="146.6" y1="392.3" x2="149" y2="392.3" stroke="#222" stroke-width="1"/>
<line x1="261.5" y1="392.3" x2="264.8" y2="392.3" stroke="#111" stroke-width="1"/>
<text x="143.2" y="395.66" font-size="9.5" text-anchor="end" fill="#000">0</text>
<text x="267.2" y="395.66" font-size="9.5" text-anchor="start" fill="#000">0.0</text>
<line x1="146.6" y1="367.53333333333336" x2="149" y2="367.53333333333336" stroke="#222" stroke-width="1"/>
<line x1="261.5" y1="367.53333333333336" x2="264.8" y2="367.53333333333336" stroke="#111" stroke-width="1"/>
<text x="143.2" y="370.8933333333334" font-size="9.5" text-anchor="end" fill="#000">10</text>
<text x="267.2" y="370.8933333333334" font-size="9.5" text-anchor="start" fill="#000">0.1</text>
<line x1="146.6" y1="342.76666666666665" x2="149" y2="342.76666666666665" stroke="#222" stroke-width="1"/>
<line x1="261.5" y1="342.76666666666665" x2="264.8" y2="342.76666666666665" stroke="#111" stroke-width="1"/>
<text x="143.2" y="346.12666666666667" font-size="9.5" text-anchor="end" fill="#000">20</text>
<text x="267.2" y="346.12666666666667" font-size="9.5" text-anchor="start" fill="#000">0.2</text>
<line x1="146.6" y1="318.0" x2="149" y2="318.0" stroke="#222" stroke-width="1"/>
<line x1="261.5" y1="318.0" x2="264.8" y2="318.0" stroke="#111" stroke-width="1"/>
<text x="143.2" y="321.36" font-size="9.5" text-anchor="end" fill="#000">30</text>
<text x="267.2" y="321.36" font-size="9.5" text-anchor="start" fill="#000">0.3</text>
<line x1="181.84" y1="392.3" x2="181.84" y2="395.7" stroke="#111" stroke-width="1"/>
<line x1="213.68" y1="392.3" x2="213.68" y2="395.7" stroke="#111" stroke-width="1"/>
<line x1="245.51999999999998" y1="392.3" x2="245.51999999999998" y2="395.7" stroke="#111" stroke-width="1"/>
<text x="150.0" y="407.4" font-size="9.5" text-anchor="middle" fill="#000">0</text>
<text x="181.84" y="407.4" font-size="9.5" text-anchor="middle" fill="#000">4</text>
<text x="213.68" y="407.4" font-size="9.5" text-anchor="middle" fill="#000">8</text>
<text x="245.51999999999998" y="407.4" font-size="9.5" text-anchor="middle" fill="#000">12</text>
<text x="205.8" y="421.3" font-size="10.9" text-anchor="middle" fill="#000" textLength="18.3" lengthAdjust="spacingAndGlyphs" stroke="#000" stroke-width="0.25">Week</text>
<text transform="translate(124.1,354) rotate(-90)" x="0" y="0" font-size="10.3" text-anchor="middle" fill="#000" textLength="54.6" lengthAdjust="spacingAndGlyphs" dy="3.4" stroke="#000" stroke-width="0.25">Body weight (g)</text>
<text transform="translate(289.5,355) rotate(90)" x="0" y="0" font-size="10.3" text-anchor="middle" fill="#000" textLength="58.4" lengthAdjust="spacingAndGlyphs" dy="3.4" stroke="#000" stroke-width="0.25">Spleen weight (g)</text>
<line x1="173.88" y1="364" x2="173.88" y2="367.8" stroke="#2c4a8a" stroke-width="1.0"/>
<line x1="172.78" y1="364" x2="174.98" y2="364" stroke="#2c4a8a" stroke-width="1.0"/>
<line x1="172.78" y1="367.8" x2="174.98" y2="367.8" stroke="#2c4a8a" stroke-width="1.0"/>
<line x1="181.84" y1="345.3" x2="181.84" y2="350.8" stroke="#2c4a8a" stroke-width="1.0"/>
<line x1="180.74" y1="345.3" x2="182.94" y2="345.3" stroke="#2c4a8a" stroke-width="1.0"/>
<line x1="180.74" y1="350.8" x2="182.94" y2="350.8" stroke="#2c4a8a" stroke-width="1.0"/>
<line x1="189.8" y1="340.5" x2="189.8" y2="345" stroke="#2c4a8a" stroke-width="1.0"/>
<line x1="188.70000000000002" y1="340.5" x2="190.9" y2="340.5" stroke="#2c4a8a" stroke-width="1.0"/>
<line x1="188.70000000000002" y1="345" x2="190.9" y2="345" stroke="#2c4a8a" stroke-width="1.0"/>
<line x1="197.76" y1="337" x2="197.76" y2="339.5" stroke="#2c4a8a" stroke-width="1.0"/>
<line x1="196.66" y1="337" x2="198.85999999999999" y2="337" stroke="#2c4a8a" stroke-width="1.0"/>
<line x1="196.66" y1="339.5" x2="198.85999999999999" y2="339.5" stroke="#2c4a8a" stroke-width="1.0"/>
<line x1="213.68" y1="327.6" x2="213.68" y2="330.4" stroke="#2c4a8a" stroke-width="1.0"/>
<line x1="212.58" y1="327.6" x2="214.78" y2="327.6" stroke="#2c4a8a" stroke-width="1.0"/>
<line x1="212.58" y1="330.4" x2="214.78" y2="330.4" stroke="#2c4a8a" stroke-width="1.0"/>
<line x1="229.6" y1="324.2" x2="229.6" y2="327.5" stroke="#2c4a8a" stroke-width="1.0"/>
<line x1="228.5" y1="324.2" x2="230.7" y2="324.2" stroke="#2c4a8a" stroke-width="1.0"/>
<line x1="228.5" y1="327.5" x2="230.7" y2="327.5" stroke="#2c4a8a" stroke-width="1.0"/>
<line x1="237.56" y1="323.5" x2="237.56" y2="326.2" stroke="#2c4a8a" stroke-width="1.0"/>
<line x1="236.46" y1="323.5" x2="238.66" y2="323.5" stroke="#2c4a8a" stroke-width="1.0"/>
<line x1="236.46" y1="326.2" x2="238.66" y2="326.2" stroke="#2c4a8a" stroke-width="1.0"/>
<line x1="245.51999999999998" y1="328.8" x2="245.51999999999998" y2="333" stroke="#2c4a8a" stroke-width="1.0"/>
<line x1="244.42" y1="328.8" x2="246.61999999999998" y2="328.8" stroke="#2c4a8a" stroke-width="1.0"/>
<line x1="244.42" y1="333" x2="246.61999999999998" y2="333" stroke="#2c4a8a" stroke-width="1.0"/>
<line x1="173.88" y1="373.5" x2="173.88" y2="377.6" stroke="#b01c3c" stroke-width="1.0"/>
<line x1="172.78" y1="373.5" x2="174.98" y2="373.5" stroke="#b01c3c" stroke-width="1.0"/>
<line x1="172.78" y1="377.6" x2="174.98" y2="377.6" stroke="#b01c3c" stroke-width="1.0"/>
<line x1="189.8" y1="372.4" x2="189.8" y2="374.6" stroke="#b01c3c" stroke-width="1.0"/>
<line x1="188.70000000000002" y1="372.4" x2="190.9" y2="372.4" stroke="#b01c3c" stroke-width="1.0"/>
<line x1="188.70000000000002" y1="374.6" x2="190.9" y2="374.6" stroke="#b01c3c" stroke-width="1.0"/>
<line x1="197.76" y1="373" x2="197.76" y2="375.4" stroke="#b01c3c" stroke-width="1.0"/>
<line x1="196.66" y1="373" x2="198.85999999999999" y2="373" stroke="#b01c3c" stroke-width="1.0"/>
<line x1="196.66" y1="375.4" x2="198.85999999999999" y2="375.4" stroke="#b01c3c" stroke-width="1.0"/>
<line x1="237.56" y1="368" x2="237.56" y2="375.4" stroke="#b01c3c" stroke-width="1.0"/>
<line x1="236.46" y1="368" x2="238.66" y2="368" stroke="#b01c3c" stroke-width="1.0"/>
<line x1="236.46" y1="375.4" x2="238.66" y2="375.4" stroke="#b01c3c" stroke-width="1.0"/>
<path d="M157.96 381.90 L165.92 373.00 L173.88 366.00 L181.84 348.10 L189.80 342.80 L197.76 338.10 L205.72 336.40 L213.68 329.00 L221.64 330.50 L229.60 325.90 L237.56 324.80 L245.52 330.70" fill="none" stroke="#2c4a8a" stroke-width="1.1" stroke-linejoin="round"/>
<circle cx="157.96" cy="381.90" r="1.15" fill="#2c4a8a"/>
<circle cx="165.92" cy="373.00" r="1.15" fill="#2c4a8a"/>
<circle cx="173.88" cy="366.00" r="1.15" fill="#2c4a8a"/>
<circle cx="181.84" cy="348.10" r="1.15" fill="#2c4a8a"/>
<circle cx="189.80" cy="342.80" r="1.15" fill="#2c4a8a"/>
<circle cx="197.76" cy="338.10" r="1.15" fill="#2c4a8a"/>
<circle cx="205.72" cy="336.40" r="1.15" fill="#2c4a8a"/>
<circle cx="213.68" cy="329.00" r="1.15" fill="#2c4a8a"/>
<circle cx="221.64" cy="330.50" r="1.15" fill="#2c4a8a"/>
<circle cx="229.60" cy="325.90" r="1.15" fill="#2c4a8a"/>
<circle cx="237.56" cy="324.80" r="1.15" fill="#2c4a8a"/>
<circle cx="245.52" cy="330.70" r="1.15" fill="#2c4a8a"/>
<path d="M157.96 387.40 L165.92 382.60 L173.88 375.60 L181.84 370.90 L189.80 373.50 L197.76 374.10 L205.72 376.00 L213.68 374.10 L221.64 374.70 L229.60 373.50 L237.56 372.00 L245.52 376.00" fill="none" stroke="#b01c3c" stroke-width="1.1" stroke-linejoin="round"/>
<circle cx="157.96" cy="387.40" r="1.15" fill="#b01c3c"/>
<circle cx="165.92" cy="382.60" r="1.15" fill="#b01c3c"/>
<circle cx="173.88" cy="375.60" r="1.15" fill="#b01c3c"/>
<circle cx="181.84" cy="370.90" r="1.15" fill="#b01c3c"/>
<circle cx="189.80" cy="373.50" r="1.15" fill="#b01c3c"/>
<circle cx="197.76" cy="374.10" r="1.15" fill="#b01c3c"/>
<circle cx="205.72" cy="376.00" r="1.15" fill="#b01c3c"/>
<circle cx="213.68" cy="374.10" r="1.15" fill="#b01c3c"/>
<circle cx="221.64" cy="374.70" r="1.15" fill="#b01c3c"/>
<circle cx="229.60" cy="373.50" r="1.15" fill="#b01c3c"/>
<circle cx="237.56" cy="372.00" r="1.15" fill="#b01c3c"/>
<circle cx="245.52" cy="376.00" r="1.15" fill="#b01c3c"/>
<line x1="150.4" y1="431.9" x2="156.4" y2="431.9" stroke="#2c4a8a" stroke-width="1.1"/>
<circle cx="153.4" cy="431.9" r="1.1" fill="#2c4a8a"/>
<text x="160.3" y="434.8" font-size="8.3" text-anchor="start" fill="#000" textLength="44.3" lengthAdjust="spacingAndGlyphs">Body weight</text>
<line x1="150.4" y1="444.2" x2="156.4" y2="444.2" stroke="#b01c3c" stroke-width="1.1"/>
<circle cx="153.4" cy="444.2" r="1.1" fill="#b01c3c"/>
<text x="160.3" y="447.1" font-size="8.3" text-anchor="start" fill="#000" textLength="50.1" lengthAdjust="spacingAndGlyphs">Spleen weight</text>
<defs>
<clipPath id="cp0"><rect x="328" y="29" width="92.3" height="86.1"/></clipPath>
<clipPath id="cp1"><rect x="424.2" y="28.9" width="88.1" height="86.2"/></clipPath>
<clipPath id="cp2"><rect x="328" y="117.8" width="92.3" height="83.5"/></clipPath>
<clipPath id="cp3"><rect x="423.9" y="117.7" width="87.5" height="84.3"/></clipPath>
<filter id="f1" filterUnits="userSpaceOnUse" x="328" y="29" width="94" height="87" color-interpolation-filters="sRGB">
<feTurbulence type="fractalNoise" baseFrequency="0.33" numOctaves="3" seed="11"/>
<feColorMatrix type="matrix" values="1 0 0 0 0 1 0 0 0 0 1 0 0 0 0 0 0 0 0 1"/>
<feComponentTransfer><feFuncR type="table" tableValues="0.275 0.275 0.275 0.275 0.275 0.275 0.275 0.275 0.275 0.275 0.275 0.276 0.276 0.278 0.279 0.282 0.285 0.290 0.296 0.303 0.313 0.326 0.337 0.351 0.366 0.382 0.399 0.417 0.437 0.459 0.482 0.505 0.530 0.555 0.583 0.606 0.632 0.653 0.675 0.694 0.710 0.710 0.706 0.703 0.699 0.728 0.768 0.799 0.826 0.841 0.856 0.866 0.871 0.875 0.876 0.878 0.878 0.878 0.878 0.878 0.878 0.878 0.878 0.878"/><feFuncG type="table" tableValues="0.125 0.125 0.125 0.125 0.125 0.125 0.125 0.126 0.126 0.126 0.126 0.126 0.127 0.128 0.129 0.131 0.133 0.136 0.141 0.146 0.152 0.161 0.169 0.179 0.191 0.205 0.219 0.234 0.250 0.271 0.294 0.316 0.342 0.369 0.402 0.429 0.458 0.491 0.526 0.556 0.582 0.604 0.624 0.638 0.653 0.690 0.732 0.764 0.792 0.808 0.824 0.834 0.840 0.843 0.845 0.846 0.847 0.847 0.847 0.847 0.847 0.847 0.847 0.847"/><feFuncB type="table" tableValues="0.149 0.149 0.149 0.149 0.149 0.149 0.149 0.149 0.149 0.149 0.149 0.149 0.150 0.150 0.151 0.152 0.153 0.155 0.158 0.160 0.164 0.169 0.174 0.180 0.187 0.195 0.203 0.212 0.222 0.235 0.248 0.261 0.276 0.294 0.317 0.337 0.358 0.384 0.412 0.437 0.457 0.524 0.605 0.663 0.723 0.767 0.797 0.820 0.840 0.851 0.862 0.869 0.873 0.876 0.877 0.878 0.878 0.878 0.878 0.878 0.878 0.878 0.878 0.878"/></feComponentTransfer>
</filter>
<filter id="f1b" filterUnits="userSpaceOnUse" x="328" y="29" width="94" height="87" color-interpolation-filters="sRGB">
<feTurbulence type="fractalNoise" baseFrequency="0.45" numOctaves="2" seed="5"/>
<feColorMatrix type="matrix" values="1 0 0 0 0 1 0 0 0 0 1 0 0 0 0 0 0 0 0 1"/>
<feComponentTransfer><feFuncR type="table" tableValues="0.478 0.478 0.478 0.478 0.478 0.478 0.478 0.478 0.479 0.479 0.479 0.480 0.480 0.482 0.484 0.486 0.490 0.496 0.502 0.511 0.521 0.537 0.543 0.547 0.551 0.557 0.563 0.569 0.576 0.583 0.591 0.600 0.607 0.614 0.620 0.625 0.630 0.635 0.639 0.643 0.646 0.649 0.661 0.677 0.691 0.702 0.709 0.716 0.721 0.725 0.727 0.728 0.729 0.729 0.729 0.729 0.729 0.729 0.729 0.729 0.729 0.729 0.729 0.729"/><feFuncG type="table" tableValues="0.353 0.353 0.353 0.353 0.353 0.353 0.353 0.353 0.353 0.354 0.355 0.356 0.358 0.362 0.367 0.374 0.385 0.400 0.418 0.443 0.469 0.513 0.528 0.532 0.537 0.543 0.550 0.557 0.565 0.573 0.581 0.591 0.599 0.606 0.612 0.617 0.622 0.627 0.631 0.635 0.639 0.641 0.652 0.667 0.680 0.689 0.695 0.701 0.707 0.710 0.711 0.712 0.713 0.713 0.713 0.714 0.714 0.714 0.714 0.714 0.714 0.714 0.714 0.714"/><feFuncB type="table" tableValues="0.376 0.376 0.376 0.376 0.376 0.376 0.376 0.376 0.377 0.378 0.380 0.382 0.385 0.391 0.400 0.411 0.429 0.454 0.483 0.524 0.567 0.639 0.661 0.666 0.672 0.678 0.686 0.694 0.702 0.711 0.721 0.732 0.740 0.745 0.750 0.755 0.759 0.763 0.766 0.770 0.773 0.775 0.782 0.789 0.797 0.802 0.805 0.809 0.812 0.813 0.814 0.815 0.815 0.815 0.816 0.816 0.816 0.816 0.816 0.816 0.816 0.816 0.816 0.816"/></feComponentTransfer>
</filter>
<filter id="f2" filterUnits="userSpaceOnUse" x="424" y="29" width="89" height="87" color-interpolation-filters="sRGB">
<feTurbulence type="fractalNoise" baseFrequency="0.09" numOctaves="2" seed="21"/>
<feColorMatrix type="matrix" values="1 0 0 0 0 1 0 0 0 0 1 0 0 0 0 0 0 0 0 1"/>
<feComponentTransfer><feFuncR type="table" tableValues="0.957 0.957 0.957 0.957 0.957 0.957 0.957 0.957 0.957 0.957 0.957 0.957 0.957 0.957 0.956 0.956 0.955 0.954 0.952 0.950 0.946 0.942 0.938 0.934 0.928 0.922 0.915 0.908 0.900 0.885 0.860 0.835 0.808 0.769 0.724 0.682 0.645 0.610 0.578 0.549 0.527 0.505 0.481 0.467 0.455 0.443 0.435 0.428 0.425 0.422 0.418 0.417 0.416 0.416 0.416 0.416 0.416 0.416 0.416 0.416 0.416 0.416 0.416 0.416"/><feFuncG type="table" tableValues="0.957 0.957 0.957 0.957 0.957 0.957 0.957 0.957 0.957 0.957 0.957 0.957 0.957 0.957 0.956 0.956 0.955 0.953 0.952 0.949 0.945 0.941 0.936 0.931 0.925 0.917 0.910 0.901 0.892 0.870 0.820 0.773 0.721 0.667 0.609 0.556 0.508 0.471 0.442 0.417 0.397 0.377 0.356 0.344 0.333 0.323 0.316 0.309 0.306 0.303 0.300 0.299 0.298 0.298 0.298 0.298 0.298 0.298 0.298 0.298 0.298 0.298 0.298 0.298"/><feFuncB type="table" tableValues="0.973 0.973 0.973 0.973 0.973 0.973 0.973 0.973 0.973 0.973 0.973 0.972 0.972 0.972 0.972 0.971 0.970 0.969 0.967 0.964 0.959 0.955 0.950 0.944 0.937 0.929 0.920 0.911 0.901 0.864 0.773 0.688 0.593 0.517 0.447 0.383 0.325 0.290 0.276 0.263 0.253 0.244 0.233 0.227 0.221 0.216 0.213 0.209 0.208 0.207 0.205 0.205 0.204 0.204 0.204 0.204 0.204 0.204 0.204 0.204 0.204 0.204 0.204 0.204"/></feComponentTransfer>
</filter>
<radialGradient id="cg"><stop offset="0" stop-color="#a2aad2"/><stop offset="0.42" stop-color="#8a92bc"/><stop offset="0.6" stop-color="#68667e"/><stop offset="0.74" stop-color="#664220"/><stop offset="0.87" stop-color="#8a5a22"/><stop offset="1" stop-color="#b08838" stop-opacity="0.35"/></radialGradient>
<radialGradient id="cg2"><stop offset="0" stop-color="#7a82aa"/><stop offset="0.42" stop-color="#5e6084"/><stop offset="0.62" stop-color="#44383e"/><stop offset="0.78" stop-color="#5a3818"/><stop offset="0.9" stop-color="#8a5a22"/><stop offset="1" stop-color="#b08838" stop-opacity="0.35"/></radialGradient>
<filter id="f3" filterUnits="userSpaceOnUse" x="328" y="118" width="93" height="84" color-interpolation-filters="sRGB">
<feTurbulence type="fractalNoise" baseFrequency="0.55" numOctaves="2" seed="31"/>
<feColorMatrix type="matrix" values="1 0 0 0 0 1 0 0 0 0 1 0 0 0 0 0 0 0 0 1"/>
<feComponentTransfer><feFuncR type="table" tableValues="0.541 0.541 0.541 0.541 0.541 0.541 0.541 0.541 0.541 0.541 0.541 0.541 0.542 0.542 0.543 0.544 0.545 0.547 0.550 0.552 0.556 0.562 0.568 0.575 0.583 0.592 0.601 0.611 0.622 0.629 0.637 0.646 0.655 0.664 0.671 0.677 0.682 0.688 0.686 0.675 0.666 0.658 0.643 0.618 0.597 0.581 0.571 0.562 0.553 0.548 0.546 0.544 0.543 0.542 0.542 0.542 0.541 0.541 0.541 0.541 0.541 0.541 0.541 0.541"/><feFuncG type="table" tableValues="0.580 0.580 0.580 0.580 0.580 0.580 0.580 0.580 0.580 0.580 0.581 0.581 0.581 0.581 0.582 0.583 0.584 0.586 0.589 0.592 0.595 0.601 0.607 0.614 0.622 0.631 0.640 0.651 0.661 0.667 0.674 0.681 0.688 0.696 0.698 0.698 0.698 0.698 0.688 0.664 0.644 0.627 0.597 0.554 0.516 0.487 0.469 0.453 0.437 0.428 0.424 0.420 0.419 0.418 0.417 0.416 0.416 0.416 0.416 0.416 0.416 0.416 0.416 0.416"/><feFuncB type="table" tableValues="0.776 0.776 0.776 0.776 0.776 0.776 0.776 0.776 0.776 0.777 0.777 0.777 0.777 0.777 0.778 0.778 0.779 0.780 0.782 0.784 0.787 0.791 0.795 0.800 0.806 0.812 0.818 0.826 0.832 0.836 0.840 0.845 0.849 0.854 0.850 0.844 0.839 0.834 0.814 0.769 0.734 0.703 0.650 0.577 0.514 0.465 0.435 0.407 0.381 0.366 0.360 0.353 0.350 0.349 0.347 0.346 0.345 0.345 0.345 0.345 0.345 0.345 0.345 0.345"/></feComponentTransfer>
</filter>
<filter id="f4" filterUnits="userSpaceOnUse" x="424" y="118" width="89" height="84" color-interpolation-filters="sRGB">
<feTurbulence type="fractalNoise" baseFrequency="0.12" numOctaves="2" seed="41"/>
<feColorMatrix type="matrix" values="1 0 0 0 0 1 0 0 0 0 1 0 0 0 0 0 0 0 0 1"/>
<feComponentTransfer><feFuncR type="table" tableValues="0.878 0.878 0.878 0.878 0.878 0.878 0.878 0.878 0.878 0.878 0.878 0.878 0.878 0.878 0.878 0.877 0.876 0.874 0.872 0.870 0.868 0.863 0.859 0.854 0.849 0.842 0.836 0.828 0.821 0.813 0.802 0.785 0.764 0.745 0.726 0.711 0.694 0.678 0.665 0.654 0.644 0.635 0.621 0.605 0.594 0.580 0.572 0.564 0.557 0.552 0.547 0.545 0.544 0.543 0.542 0.542 0.541 0.541 0.541 0.541 0.541 0.541 0.541 0.541"/><feFuncG type="table" tableValues="0.941 0.941 0.941 0.941 0.941 0.941 0.941 0.941 0.941 0.941 0.941 0.941 0.941 0.941 0.941 0.940 0.940 0.939 0.938 0.936 0.935 0.932 0.929 0.927 0.923 0.920 0.916 0.911 0.907 0.902 0.895 0.882 0.865 0.848 0.833 0.820 0.794 0.765 0.742 0.723 0.704 0.687 0.660 0.622 0.598 0.567 0.548 0.529 0.515 0.503 0.493 0.488 0.484 0.482 0.481 0.479 0.479 0.478 0.478 0.478 0.478 0.478 0.478 0.478"/><feFuncB type="table" tableValues="0.988 0.988 0.988 0.988 0.988 0.988 0.988 0.988 0.988 0.988 0.988 0.988 0.988 0.988 0.988 0.988 0.988 0.987 0.987 0.987 0.986 0.985 0.984 0.983 0.982 0.981 0.980 0.978 0.977 0.975 0.973 0.968 0.961 0.954 0.948 0.943 0.915 0.879 0.851 0.827 0.805 0.784 0.744 0.681 0.640 0.588 0.557 0.525 0.501 0.480 0.463 0.455 0.448 0.446 0.444 0.441 0.440 0.439 0.439 0.439 0.439 0.439 0.439 0.439"/></feComponentTransfer>
</filter>
<filter id="f4b" filterUnits="userSpaceOnUse" x="424" y="118" width="89" height="84" color-interpolation-filters="sRGB">
<feTurbulence type="fractalNoise" baseFrequency="0.18" numOctaves="2" seed="43"/>
<feColorMatrix type="matrix" values="1 0 0 0 0 1 0 0 0 0 1 0 0 0 0 0 0 0 0 1"/>
<feComponentTransfer><feFuncR type="table" tableValues="0.722 0.722 0.722 0.722 0.722 0.722 0.722 0.722 0.721 0.721 0.721 0.721 0.721 0.720 0.719 0.717 0.713 0.708 0.702 0.695 0.687 0.672 0.659 0.646 0.629 0.609 0.586 0.562 0.537 0.512 0.484 0.455 0.424 0.399 0.379 0.358 0.339 0.323 0.310 0.299 0.289 0.281 0.273 0.267 0.263 0.260 0.257 0.255 0.253 0.252 0.252 0.251 0.251 0.251 0.251 0.251 0.251 0.251 0.251 0.251 0.251 0.251 0.251 0.251"/><feFuncG type="table" tableValues="0.784 0.784 0.784 0.784 0.784 0.784 0.784 0.784 0.784 0.784 0.784 0.784 0.783 0.782 0.781 0.778 0.773 0.766 0.758 0.749 0.737 0.718 0.701 0.682 0.659 0.633 0.602 0.570 0.535 0.498 0.455 0.412 0.365 0.343 0.330 0.317 0.306 0.296 0.292 0.296 0.299 0.302 0.306 0.308 0.309 0.310 0.311 0.312 0.313 0.313 0.313 0.314 0.314 0.314 0.314 0.314 0.314 0.314 0.314 0.314 0.314 0.314 0.314 0.314"/><feFuncB type="table" tableValues="0.878 0.878 0.878 0.878 0.878 0.878 0.878 0.878 0.878 0.878 0.878 0.878 0.877 0.876 0.875 0.872 0.866 0.860 0.851 0.842 0.830 0.810 0.792 0.773 0.749 0.722 0.690 0.657 0.619 0.570 0.513 0.455 0.392 0.382 0.388 0.394 0.400 0.405 0.418 0.444 0.469 0.489 0.510 0.523 0.534 0.542 0.550 0.555 0.559 0.561 0.563 0.564 0.564 0.564 0.564 0.565 0.565 0.565 0.565 0.565 0.565 0.565 0.565 0.565"/></feComponentTransfer>
</filter>
<filter id="bl1" x="-20%" y="-20%" width="140%" height="140%"><feGaussianBlur stdDeviation="1.5"/></filter>
<filter id="bl2" x="-20%" y="-20%" width="140%" height="140%"><feGaussianBlur stdDeviation="3"/></filter>
<mask id="mf1"><g filter="url(#bl1)"><ellipse cx="399.5" cy="67" rx="12.5" ry="15.5" transform="rotate(10 399.5 67)" fill="#fff"/><ellipse cx="389.5" cy="107" rx="15" ry="12" transform="rotate(0 389.5 107)" fill="#fff"/><ellipse cx="344" cy="104" rx="8.5" ry="12" transform="rotate(0 344 104)" fill="#fff"/><ellipse cx="417" cy="97" rx="6" ry="18" transform="rotate(0 417 97)" fill="#fff"/><ellipse cx="377" cy="48" rx="3.5" ry="4" transform="rotate(0 377 48)" fill="#fff"/><ellipse cx="416" cy="46" rx="3" ry="4" transform="rotate(0 416 46)" fill="#fff"/></g></mask>
</defs>
<g clip-path="url(#cp0)">
<rect x="328" y="29" width="92.3" height="86.1" filter="url(#f1)"/>
<g filter="url(#bl2)" opacity="0.45"><ellipse cx="352" cy="52" rx="22" ry="9" transform="rotate(-40 352 52)" fill="#3a1020"/><ellipse cx="336" cy="85" rx="8" ry="14" fill="#3a1020"/><ellipse cx="372" cy="110" rx="6" ry="6" fill="#3a1020"/></g>
<g filter="url(#bl2)" opacity="0.3"><ellipse cx="376" cy="76" rx="10" ry="14" fill="#d0b0c0"/><ellipse cx="405" cy="40" rx="12" ry="8" fill="#d0b0c0"/></g>
<rect x="328" y="29" width="92.3" height="86.1" filter="url(#f1b)" mask="url(#mf1)" opacity="0.9"/>
<path d="M368 28 C357 33 348 40 342 48 C336 55 332 62 329 72" fill="none" stroke="#4a1a28" stroke-width="5" opacity="0.6" filter="url(#bl1)"/>
<path d="M327 28 L366 28 C355 33 346 40 340 48 C334 55 330 62 328 70 L327 70 Z" fill="#fdfdfd"/>
</g>
<rect x="328" y="29" width="92.3" height="86.1" fill="none" stroke="#141414" stroke-width="1.3"/>
<text x="331.6" y="37.6" font-size="8.6" fill="#111" stroke="#111" stroke-width="0.2" textLength="26.8" lengthAdjust="spacingAndGlyphs">3 weeks</text>
<g clip-path="url(#cp1)">
<rect x="424.2" y="28.9" width="88.1" height="86.2" filter="url(#f2)"/>
<ellipse cx="424.9" cy="31.3" rx="5.3" ry="4.3" fill="url(#cg)"/><ellipse cx="432.5" cy="31.7" rx="5.4" ry="5.2" fill="url(#cg2)"/><ellipse cx="440.2" cy="30.6" rx="4.6" ry="4.1" fill="url(#cg2)"/><ellipse cx="450.2" cy="31.2" rx="5.3" ry="5.4" fill="url(#cg2)"/><ellipse cx="456.5" cy="29.2" rx="4.8" ry="5.5" fill="url(#cg2)"/><ellipse cx="466.7" cy="30.0" rx="5.1" ry="4.4" fill="url(#cg)"/><ellipse cx="475.2" cy="31.0" rx="5.4" ry="5.0" fill="url(#cg2)"/><ellipse cx="481.5" cy="29.6" rx="4.9" ry="3.9" fill="url(#cg)"/><ellipse cx="491.1" cy="30.1" rx="5.3" ry="4.9" fill="url(#cg)"/><ellipse cx="498.9" cy="31.0" rx="5.5" ry="5.8" fill="url(#cg2)"/><ellipse cx="508.1" cy="29.2" rx="4.9" ry="4.0" fill="url(#cg)"/><ellipse cx="514.4" cy="29.7" rx="4.8" ry="5.4" fill="url(#cg)"/><ellipse cx="428.5" cy="37.4" rx="5.3" ry="5.6" fill="url(#cg2)"/><ellipse cx="446.6" cy="36.7" rx="5.1" ry="4.7" fill="url(#cg)"/><ellipse cx="454.9" cy="37.9" rx="4.9" ry="4.0" fill="url(#cg2)"/><ellipse cx="461.2" cy="38.3" rx="4.7" ry="5.4" fill="url(#cg2)"/><ellipse cx="470.5" cy="37.6" rx="5.1" ry="4.9" fill="url(#cg)"/><ellipse cx="478.5" cy="36.6" rx="4.6" ry="5.1" fill="url(#cg)"/><ellipse cx="486.0" cy="38.4" rx="5.2" ry="4.3" fill="url(#cg)"/><ellipse cx="495.1" cy="36.9" rx="4.9" ry="5.6" fill="url(#cg)"/><ellipse cx="504.5" cy="39.0" rx="5.0" ry="4.9" fill="url(#cg)"/><ellipse cx="511.3" cy="37.5" rx="4.9" ry="5.6" fill="url(#cg)"/><ellipse cx="424.3" cy="44.7" rx="4.8" ry="5.3" fill="url(#cg)"/><ellipse cx="432.2" cy="45.8" rx="5.2" ry="5.6" fill="url(#cg)"/><ellipse cx="440.5" cy="45.6" rx="5.0" ry="5.2" fill="url(#cg)"/><ellipse cx="448.6" cy="46.3" rx="5.1" ry="5.1" fill="url(#cg2)"/><ellipse cx="456.8" cy="45.5" rx="5.3" ry="5.8" fill="url(#cg)"/><ellipse cx="465.4" cy="45.5" rx="5.3" ry="5.9" fill="url(#cg)"/><ellipse cx="475.0" cy="45.6" rx="5.5" ry="5.4" fill="url(#cg)"/><ellipse cx="481.5" cy="46.0" rx="5.0" ry="5.3" fill="url(#cg)"/><ellipse cx="499.7" cy="45.3" rx="5.0" ry="5.3" fill="url(#cg)"/><ellipse cx="514.7" cy="44.9" rx="4.8" ry="4.9" fill="url(#cg)"/><ellipse cx="427.0" cy="51.7" rx="4.7" ry="4.1" fill="url(#cg)"/><ellipse cx="434.6" cy="51.2" rx="4.9" ry="5.0" fill="url(#cg)"/><ellipse cx="451.7" cy="51.8" rx="4.7" ry="4.4" fill="url(#cg)"/><ellipse cx="459.1" cy="52.7" rx="5.1" ry="5.1" fill="url(#cg)"/><ellipse cx="469.8" cy="53.2" rx="5.3" ry="5.0" fill="url(#cg)"/><ellipse cx="476.0" cy="52.6" rx="5.5" ry="5.5" fill="url(#cg)"/><ellipse cx="492.5" cy="52.6" rx="4.7" ry="5.3" fill="url(#cg)"/><ellipse cx="501.5" cy="52.2" rx="4.9" ry="4.5" fill="url(#cg)"/><ellipse cx="511.3" cy="53.5" rx="4.8" ry="4.7" fill="url(#cg)"/><ellipse cx="423.4" cy="61.0" rx="4.9" ry="4.1" fill="url(#cg)"/><ellipse cx="432.4" cy="59.6" rx="5.3" ry="4.3" fill="url(#cg)"/><ellipse cx="440.5" cy="59.1" rx="5.3" ry="4.7" fill="url(#cg2)"/><ellipse cx="447.8" cy="61.0" rx="5.1" ry="5.3" fill="url(#cg)"/><ellipse cx="457.3" cy="60.3" rx="5.3" ry="5.2" fill="url(#cg)"/><ellipse cx="464.9" cy="59.2" rx="5.0" ry="5.3" fill="url(#cg)"/><ellipse cx="473.9" cy="58.5" rx="5.0" ry="5.6" fill="url(#cg)"/><ellipse cx="482.0" cy="58.4" rx="5.0" ry="5.2" fill="url(#cg)"/><ellipse cx="490.6" cy="59.7" rx="4.9" ry="5.4" fill="url(#cg)"/><ellipse cx="497.7" cy="59.2" rx="4.7" ry="4.9" fill="url(#cg)"/><ellipse cx="506.7" cy="59.1" rx="5.4" ry="5.2" fill="url(#cg2)"/><ellipse cx="515.3" cy="59.7" rx="4.7" ry="5.1" fill="url(#cg)"/><ellipse cx="426.4" cy="67.8" rx="5.2" ry="5.5" fill="url(#cg2)"/><ellipse cx="436.7" cy="68.3" rx="4.6" ry="4.1" fill="url(#cg)"/><ellipse cx="444.1" cy="68.2" rx="4.7" ry="5.3" fill="url(#cg2)"/><ellipse cx="451.1" cy="67.3" rx="4.7" ry="3.9" fill="url(#cg)"/><ellipse cx="459.3" cy="66.7" rx="4.7" ry="4.9" fill="url(#cg)"/><ellipse cx="469.6" cy="66.0" rx="4.9" ry="4.7" fill="url(#cg)"/><ellipse cx="478.1" cy="66.7" rx="5.2" ry="5.3" fill="url(#cg2)"/><ellipse cx="485.3" cy="68.1" rx="5.2" ry="5.1" fill="url(#cg2)"/><ellipse cx="492.9" cy="67.7" rx="4.7" ry="4.4" fill="url(#cg2)"/><ellipse cx="502.5" cy="66.2" rx="5.2" ry="5.4" fill="url(#cg2)"/><ellipse cx="509.1" cy="66.0" rx="4.8" ry="4.7" fill="url(#cg)"/><ellipse cx="424.4" cy="73.1" rx="4.6" ry="5.3" fill="url(#cg2)"/><ellipse cx="432.4" cy="73.6" rx="5.5" ry="6.0" fill="url(#cg)"/><ellipse cx="439.3" cy="74.6" rx="4.8" ry="4.9" fill="url(#cg)"/><ellipse cx="448.2" cy="74.0" rx="5.3" ry="5.8" fill="url(#cg)"/><ellipse cx="456.7" cy="75.2" rx="5.1" ry="5.4" fill="url(#cg)"/><ellipse cx="472.7" cy="73.1" rx="5.0" ry="4.0" fill="url(#cg)"/><ellipse cx="481.7" cy="75.3" rx="5.0" ry="4.2" fill="url(#cg)"/><ellipse cx="489.1" cy="73.4" rx="4.9" ry="4.2" fill="url(#cg)"/><ellipse cx="505.8" cy="73.7" rx="5.0" ry="5.7" fill="url(#cg2)"/><ellipse cx="514.6" cy="75.4" rx="5.2" ry="5.9" fill="url(#cg)"/><ellipse cx="427.7" cy="81.1" rx="5.3" ry="4.6" fill="url(#cg2)"/><ellipse cx="434.3" cy="80.9" rx="5.0" ry="4.6" fill="url(#cg)"/><ellipse cx="443.3" cy="81.5" rx="5.3" ry="4.5" fill="url(#cg)"/><ellipse cx="451.5" cy="82.0" rx="5.2" ry="5.9" fill="url(#cg)"/><ellipse cx="459.2" cy="80.5" rx="5.0" ry="4.9" fill="url(#cg2)"/><ellipse cx="470.0" cy="81.6" rx="4.7" ry="5.2" fill="url(#cg2)"/><ellipse cx="477.0" cy="82.7" rx="4.8" ry="4.5" fill="url(#cg2)"/><ellipse cx="484.2" cy="81.0" rx="4.9" ry="4.0" fill="url(#cg2)"/><ellipse cx="502.0" cy="81.3" rx="4.7" ry="3.9" fill="url(#cg)"/><ellipse cx="510.3" cy="82.7" rx="5.4" ry="4.3" fill="url(#cg2)"/><ellipse cx="424.0" cy="89.1" rx="5.2" ry="5.8" fill="url(#cg)"/><ellipse cx="431.9" cy="88.8" rx="4.8" ry="4.4" fill="url(#cg2)"/><ellipse cx="439.6" cy="89.6" rx="4.9" ry="4.0" fill="url(#cg2)"/><ellipse cx="448.3" cy="87.8" rx="5.1" ry="4.2" fill="url(#cg2)"/><ellipse cx="457.8" cy="87.7" rx="4.9" ry="4.1" fill="url(#cg)"/><ellipse cx="483.2" cy="89.3" rx="5.1" ry="5.6" fill="url(#cg)"/><ellipse cx="490.9" cy="90.1" rx="5.2" ry="5.7" fill="url(#cg2)"/><ellipse cx="498.5" cy="87.9" rx="4.8" ry="4.9" fill="url(#cg2)"/><ellipse cx="506.5" cy="87.8" rx="5.1" ry="4.2" fill="url(#cg2)"/><ellipse cx="514.4" cy="88.5" rx="5.5" ry="4.8" fill="url(#cg)"/><ellipse cx="436.4" cy="97.0" rx="4.7" ry="4.0" fill="url(#cg)"/><ellipse cx="445.0" cy="96.1" rx="5.3" ry="4.8" fill="url(#cg2)"/><ellipse cx="453.8" cy="96.1" rx="5.0" ry="5.6" fill="url(#cg)"/><ellipse cx="461.1" cy="97.4" rx="4.7" ry="4.4" fill="url(#cg)"/><ellipse cx="477.9" cy="96.2" rx="5.0" ry="4.4" fill="url(#cg2)"/><ellipse cx="485.2" cy="96.4" rx="5.3" ry="4.9" fill="url(#cg2)"/><ellipse cx="493.6" cy="97.5" rx="5.4" ry="5.0" fill="url(#cg)"/><ellipse cx="501.6" cy="97.1" rx="4.6" ry="3.9" fill="url(#cg2)"/><ellipse cx="511.4" cy="97.2" rx="5.3" ry="5.5" fill="url(#cg)"/><ellipse cx="425.0" cy="104.3" rx="4.6" ry="4.6" fill="url(#cg)"/><ellipse cx="432.2" cy="103.2" rx="4.6" ry="4.3" fill="url(#cg)"/><ellipse cx="458.7" cy="104.6" rx="5.2" ry="5.6" fill="url(#cg)"/><ellipse cx="465.9" cy="103.7" rx="5.1" ry="4.2" fill="url(#cg2)"/><ellipse cx="473.5" cy="103.1" rx="5.3" ry="4.8" fill="url(#cg)"/><ellipse cx="483.9" cy="102.9" rx="4.7" ry="4.8" fill="url(#cg)"/><ellipse cx="492.3" cy="104.5" rx="5.4" ry="5.4" fill="url(#cg)"/><ellipse cx="498.7" cy="103.5" rx="4.8" ry="4.8" fill="url(#cg)"/><ellipse cx="507.4" cy="102.2" rx="4.8" ry="5.3" fill="url(#cg)"/><ellipse cx="429.1" cy="110.5" rx="5.2" ry="5.5" fill="url(#cg)"/><ellipse cx="453.1" cy="111.1" rx="4.8" ry="5.1" fill="url(#cg)"/><ellipse cx="461.3" cy="109.7" rx="5.3" ry="5.6" fill="url(#cg)"/><ellipse cx="470.1" cy="110.6" rx="5.4" ry="4.9" fill="url(#cg)"/><ellipse cx="478.9" cy="112.0" rx="4.6" ry="4.6" fill="url(#cg2)"/><ellipse cx="487.2" cy="110.0" rx="5.1" ry="5.3" fill="url(#cg)"/><ellipse cx="503.5" cy="111.7" rx="4.9" ry="5.0" fill="url(#cg)"/><ellipse cx="512.9" cy="110.1" rx="5.4" ry="4.5" fill="url(#cg)"/><g filter="url(#bl1)"><ellipse cx="442" cy="107" rx="7.800000000000001" ry="5.525" fill="#eef0f6"/><ellipse cx="469" cy="89" rx="9.75" ry="2.275" fill="#eef0f6"/><ellipse cx="494" cy="76" rx="4.55" ry="4.2250000000000005" fill="#eef0f6"/><ellipse cx="488" cy="47" rx="3.9000000000000004" ry="5.2" fill="#eef0f6"/><ellipse cx="461" cy="34" rx="2.9250000000000003" ry="3.25" fill="#eef0f6"/><ellipse cx="464" cy="53" rx="2.9250000000000003" ry="2.275" fill="#eef0f6"/><ellipse cx="426" cy="60" rx="1.9500000000000002" ry="3.9000000000000004" fill="#eef0f6"/><ellipse cx="492" cy="109" rx="3.9000000000000004" ry="3.25" fill="#eef0f6"/></g>
</g>
<rect x="424.2" y="28.9" width="88.1" height="86.2" fill="none" stroke="#141414" stroke-width="1.3"/>
<g clip-path="url(#cp2)">
<rect x="328" y="117.8" width="92.3" height="83.5" filter="url(#f3)"/>
<ellipse cx="356" cy="183.5" rx="7.5" ry="3.2" transform="rotate(-20 356 183.5)" fill="#3e2618" opacity="0.8" filter="url(#bl1)"/>
<ellipse cx="340" cy="192" rx="6" ry="2.5" transform="rotate(-20 340 192)" fill="#6a5040" opacity="0.4" filter="url(#bl1)"/>
<path d="M362 128 C363 135 361 142 362 150" stroke="#e4e8f4" stroke-width="2" fill="none" opacity="0.7" filter="url(#bl1)"/>
<path d="M402 117 L421 117 L421 202 L327 202 L327 196.5 C338 193 349 188.5 360 183.5 C372 179 384 172 393 160.5 C399 151 403 140 403.5 130 C403.5 124 403 120 402 117 Z" fill="#fdfdfd"/>
</g>
<rect x="328" y="117.8" width="92.3" height="83.5" fill="none" stroke="#141414" stroke-width="1.3"/>
<text x="334.1" y="127.7" font-size="8.6" fill="#111" stroke="#111" stroke-width="0.2" textLength="28.8" lengthAdjust="spacingAndGlyphs">7 weeks</text>
<line x1="369.3" y1="196.5" x2="363" y2="189" stroke="#111" stroke-width="1.35"/>
<path d="M359.9 185.2 L366 188.2 L361.4 191.4 Z" fill="#111"/>
<radialGradient id="cn4"><stop offset="0" stop-color="#6a90e0"/><stop offset="0.55" stop-color="#5a82d8"/><stop offset="0.8" stop-color="#7aa0e2" stop-opacity="0.8"/><stop offset="1" stop-color="#a0c0ec" stop-opacity="0.2"/></radialGradient>
<radialGradient id="cb4"><stop offset="0" stop-color="#6a78b4"/><stop offset="0.5" stop-color="#585e88"/><stop offset="0.78" stop-color="#645448"/><stop offset="1" stop-color="#8a8070" stop-opacity="0.3"/></radialGradient>
<g clip-path="url(#cp3)">
<rect x="423.9" y="117.7" width="87.5" height="84.3" filter="url(#f4)"/>
<path d="M420 203 L428 201 C436 195 444 189 451 185.4 C458 182 466 180 472 177.7 C478 175 482 171 485.6 169 C494 164 503 160 510.6 157.4 L520 154 L520 205 Z" fill="#d6ecf8"/>
<circle cx="423.6" cy="118.1" r="3.0" fill="url(#cn4)"/><circle cx="430.9" cy="118.0" r="2.6" fill="url(#cn4)"/><circle cx="435.6" cy="119.5" r="2.7" fill="url(#cn4)"/><circle cx="441.3" cy="118.1" r="3.1" fill="url(#cn4)"/><circle cx="448.6" cy="118.7" r="2.8" fill="url(#cn4)"/><circle cx="454.3" cy="119.5" r="2.8" fill="url(#cn4)"/><circle cx="459.2" cy="118.5" r="3.3" fill="url(#cn4)"/><circle cx="466.8" cy="117.9" r="2.6" fill="url(#cn4)"/><circle cx="471.7" cy="120.0" r="2.7" fill="url(#cn4)"/><circle cx="478.1" cy="119.9" r="2.7" fill="url(#cn4)"/><circle cx="489.9" cy="120.0" r="3.1" fill="url(#cn4)"/><circle cx="495.0" cy="119.2" r="3.4" fill="url(#cn4)"/><circle cx="500.9" cy="119.1" r="2.8" fill="url(#cn4)"/><circle cx="509.1" cy="120.2" r="3.4" fill="url(#cn4)"/><circle cx="427.1" cy="124.6" r="2.9" fill="url(#cn4)"/><circle cx="433.6" cy="124.6" r="3.4" fill="url(#cn4)"/><circle cx="438.9" cy="123.2" r="2.9" fill="url(#cn4)"/><circle cx="444.0" cy="124.3" r="3.1" fill="url(#cn4)"/><circle cx="457.4" cy="125.1" r="2.8" fill="url(#cn4)"/><circle cx="463.3" cy="124.2" r="2.9" fill="url(#cn4)"/><circle cx="468.4" cy="125.3" r="2.7" fill="url(#cn4)"/><circle cx="481.9" cy="123.6" r="3.1" fill="url(#cn4)"/><circle cx="485.6" cy="123.3" r="3.1" fill="url(#cn4)"/><circle cx="493.9" cy="124.1" r="2.7" fill="url(#cn4)"/><circle cx="497.7" cy="124.5" r="3.0" fill="url(#cn4)"/><circle cx="505.2" cy="125.0" r="2.7" fill="url(#cn4)"/><circle cx="511.2" cy="125.1" r="2.7" fill="url(#cn4)"/><circle cx="423.2" cy="129.0" r="3.2" fill="url(#cn4)"/><circle cx="428.4" cy="128.6" r="3.0" fill="url(#cn4)"/><circle cx="434.8" cy="129.0" r="3.0" fill="url(#cn4)"/><circle cx="442.2" cy="128.7" r="3.0" fill="url(#cn4)"/><circle cx="447.2" cy="129.9" r="3.1" fill="url(#cn4)"/><circle cx="453.2" cy="129.3" r="2.7" fill="url(#cn4)"/><circle cx="459.6" cy="129.7" r="2.6" fill="url(#cn4)"/><circle cx="465.3" cy="129.5" r="3.3" fill="url(#cn4)"/><circle cx="471.6" cy="130.1" r="3.5" fill="url(#cb4)"/><circle cx="477.4" cy="130.2" r="3.2" fill="url(#cb4)"/><circle cx="488.7" cy="129.7" r="3.2" fill="url(#cn4)"/><circle cx="502.2" cy="130.0" r="3.3" fill="url(#cn4)"/><circle cx="506.2" cy="129.4" r="2.8" fill="url(#cn4)"/><circle cx="512.4" cy="128.9" r="3.4" fill="url(#cn4)"/><circle cx="427.3" cy="135.1" r="3.1" fill="url(#cn4)"/><circle cx="432.1" cy="134.6" r="3.0" fill="url(#cn4)"/><circle cx="439.8" cy="134.1" r="2.6" fill="url(#cn4)"/><circle cx="444.1" cy="136.0" r="2.6" fill="url(#cn4)"/><circle cx="450.2" cy="134.7" r="3.2" fill="url(#cn4)"/><circle cx="457.7" cy="136.2" r="3.4" fill="url(#cn4)"/><circle cx="461.8" cy="134.8" r="3.0" fill="url(#cn4)"/><circle cx="468.4" cy="136.0" r="3.2" fill="url(#cb4)"/><circle cx="474.7" cy="135.5" r="2.7" fill="url(#cn4)"/><circle cx="480.5" cy="134.8" r="2.8" fill="url(#cn4)"/><circle cx="487.3" cy="135.6" r="2.9" fill="url(#cn4)"/><circle cx="492.6" cy="135.5" r="3.2" fill="url(#cn4)"/><circle cx="498.1" cy="135.3" r="3.0" fill="url(#cn4)"/><circle cx="504.7" cy="136.1" r="3.0" fill="url(#cn4)"/><circle cx="509.8" cy="135.7" r="2.7" fill="url(#cn4)"/><circle cx="424.0" cy="139.5" r="2.7" fill="url(#cn4)"/><circle cx="429.8" cy="141.8" r="3.3" fill="url(#cn4)"/><circle cx="435.0" cy="139.7" r="2.8" fill="url(#cn4)"/><circle cx="440.6" cy="140.3" r="3.3" fill="url(#cn4)"/><circle cx="447.2" cy="139.4" r="3.0" fill="url(#cn4)"/><circle cx="453.9" cy="141.0" r="2.8" fill="url(#cn4)"/><circle cx="458.2" cy="140.5" r="3.3" fill="url(#cb4)"/><circle cx="465.6" cy="140.2" r="3.3" fill="url(#cn4)"/><circle cx="469.9" cy="139.8" r="2.7" fill="url(#cn4)"/><circle cx="476.1" cy="139.9" r="2.8" fill="url(#cn4)"/><circle cx="482.3" cy="141.0" r="3.4" fill="url(#cn4)"/><circle cx="490.1" cy="141.1" r="3.6" fill="url(#cb4)"/><circle cx="494.8" cy="140.5" r="3.0" fill="url(#cn4)"/><circle cx="506.7" cy="141.5" r="2.7" fill="url(#cn4)"/><circle cx="513.1" cy="141.6" r="3.4" fill="url(#cn4)"/><circle cx="425.3" cy="146.8" r="3.3" fill="url(#cn4)"/><circle cx="431.8" cy="145.1" r="2.9" fill="url(#cn4)"/><circle cx="439.0" cy="145.9" r="2.7" fill="url(#cn4)"/><circle cx="443.5" cy="146.2" r="3.0" fill="url(#cn4)"/><circle cx="450.5" cy="146.8" r="2.7" fill="url(#cn4)"/><circle cx="456.1" cy="147.1" r="3.4" fill="url(#cb4)"/><circle cx="461.6" cy="146.8" r="3.8" fill="url(#cb4)"/><circle cx="468.4" cy="145.4" r="2.9" fill="url(#cn4)"/><circle cx="480.4" cy="145.5" r="3.0" fill="url(#cb4)"/><circle cx="486.3" cy="145.1" r="3.1" fill="url(#cb4)"/><circle cx="492.7" cy="147.0" r="2.9" fill="url(#cn4)"/><circle cx="509.2" cy="146.8" r="3.0" fill="url(#cn4)"/><circle cx="423.4" cy="151.9" r="2.6" fill="url(#cn4)"/><circle cx="430.6" cy="151.4" r="3.1" fill="url(#cn4)"/><circle cx="437.4" cy="151.0" r="2.6" fill="url(#cn4)"/><circle cx="443.5" cy="151.0" r="3.2" fill="url(#cn4)"/><circle cx="448.5" cy="152.0" r="3.3" fill="url(#cn4)"/><circle cx="454.8" cy="150.7" r="3.1" fill="url(#cb4)"/><circle cx="461.5" cy="151.2" r="3.5" fill="url(#cb4)"/><circle cx="467.1" cy="151.7" r="3.3" fill="url(#cb4)"/><circle cx="472.1" cy="152.5" r="3.4" fill="url(#cn4)"/><circle cx="477.6" cy="150.3" r="3.1" fill="url(#cb4)"/><circle cx="484.6" cy="150.7" r="3.2" fill="url(#cb4)"/><circle cx="491.5" cy="150.6" r="3.5" fill="url(#cb4)"/><circle cx="495.6" cy="152.0" r="3.4" fill="url(#cb4)"/><circle cx="502.8" cy="151.3" r="2.9" fill="url(#cn4)"/><circle cx="508.8" cy="152.1" r="3.1" fill="url(#cn4)"/><circle cx="514.4" cy="150.4" r="3.2" fill="url(#cn4)"/><circle cx="426.1" cy="157.0" r="3.1" fill="url(#cn4)"/><circle cx="432.6" cy="156.9" r="2.6" fill="url(#cn4)"/><circle cx="445.3" cy="157.3" r="3.0" fill="url(#cb4)"/><circle cx="451.0" cy="156.8" r="3.6" fill="url(#cb4)"/><circle cx="455.8" cy="157.5" r="3.2" fill="url(#cn4)"/><circle cx="461.7" cy="156.7" r="3.6" fill="url(#cb4)"/><circle cx="469.1" cy="157.9" r="3.1" fill="url(#cn4)"/><circle cx="474.9" cy="155.8" r="3.7" fill="url(#cb4)"/><circle cx="480.0" cy="155.7" r="3.3" fill="url(#cn4)"/><circle cx="486.3" cy="155.8" r="2.8" fill="url(#cn4)"/><circle cx="505.1" cy="155.8" r="2.8" fill="url(#cn4)"/><circle cx="509.8" cy="156.1" r="3.2" fill="url(#cn4)"/><circle cx="424.1" cy="162.0" r="2.8" fill="url(#cn4)"/><circle cx="430.5" cy="161.6" r="2.7" fill="url(#cn4)"/><circle cx="434.8" cy="162.4" r="3.1" fill="url(#cn4)"/><circle cx="442.7" cy="161.9" r="2.7" fill="url(#cn4)"/><circle cx="447.6" cy="162.9" r="2.7" fill="url(#cn4)"/><circle cx="453.0" cy="161.9" r="3.2" fill="url(#cb4)"/><circle cx="459.9" cy="163.1" r="3.2" fill="url(#cb4)"/><circle cx="472.7" cy="161.6" r="2.7" fill="url(#cn4)"/><circle cx="477.4" cy="161.4" r="3.1" fill="url(#cb4)"/><circle cx="483.0" cy="163.2" r="3.6" fill="url(#cb4)"/><circle cx="490.2" cy="162.1" r="3.5" fill="url(#cb4)"/><circle cx="495.1" cy="162.1" r="3.7" fill="url(#cb4)"/><circle cx="427.4" cy="166.8" r="3.2" fill="url(#cb4)"/><circle cx="432.9" cy="166.4" r="3.4" fill="url(#cb4)"/><circle cx="446.4" cy="166.9" r="3.4" fill="url(#cb4)"/><circle cx="451.7" cy="168.8" r="2.8" fill="url(#cn4)"/><circle cx="464.7" cy="166.8" r="3.3" fill="url(#cb4)"/><circle cx="470.6" cy="167.7" r="3.1" fill="url(#cb4)"/><circle cx="474.8" cy="168.1" r="3.2" fill="url(#cn4)"/><circle cx="482.9" cy="168.6" r="3.5" fill="url(#cb4)"/><circle cx="487.7" cy="168.1" r="3.2" fill="url(#cb4)"/><circle cx="423.2" cy="172.9" r="3.6" fill="url(#cb4)"/><circle cx="429.5" cy="173.3" r="3.7" fill="url(#cb4)"/><circle cx="434.9" cy="172.4" r="3.2" fill="url(#cb4)"/><circle cx="441.7" cy="174.1" r="3.5" fill="url(#cb4)"/><circle cx="448.7" cy="173.0" r="3.1" fill="url(#cb4)"/><circle cx="452.8" cy="171.9" r="3.1" fill="url(#cb4)"/><circle cx="461.0" cy="174.2" r="3.7" fill="url(#cb4)"/><circle cx="466.3" cy="173.6" r="3.4" fill="url(#cb4)"/><circle cx="470.9" cy="171.9" r="3.2" fill="url(#cb4)"/><circle cx="478.9" cy="172.8" r="3.0" fill="url(#cb4)"/><circle cx="483.7" cy="172.8" r="1.6" fill="#7aa0e0" opacity="0.7"/><circle cx="490.0" cy="172.6" r="1.6" fill="#7aa0e0" opacity="0.7"/><circle cx="428.4" cy="178.0" r="3.2" fill="url(#cb4)"/><circle cx="433.0" cy="178.1" r="3.5" fill="url(#cb4)"/><circle cx="439.5" cy="178.4" r="3.4" fill="url(#cn4)"/><circle cx="445.6" cy="178.1" r="3.3" fill="url(#cn4)"/><circle cx="451.0" cy="177.9" r="3.4" fill="url(#cb4)"/><circle cx="459.0" cy="178.1" r="3.5" fill="url(#cb4)"/><circle cx="470.5" cy="179.2" r="3.1" fill="url(#cb4)"/><circle cx="424.7" cy="183.5" r="3.1" fill="url(#cb4)"/><circle cx="429.3" cy="184.5" r="3.2" fill="url(#cn4)"/><circle cx="435.7" cy="183.5" r="2.6" fill="url(#cn4)"/><circle cx="441.9" cy="184.2" r="3.1" fill="url(#cb4)"/><circle cx="447.5" cy="183.1" r="3.7" fill="url(#cb4)"/><circle cx="454.2" cy="184.2" r="2.7" fill="url(#cn4)"/><circle cx="427.9" cy="189.3" r="3.0" fill="url(#cb4)"/><circle cx="432.8" cy="189.1" r="3.2" fill="url(#cb4)"/><circle cx="424.5" cy="194.6" r="3.4" fill="url(#cn4)"/><circle cx="429.9" cy="195.8" r="3.1" fill="url(#cb4)"/><circle cx="437.6" cy="194.8" r="3.4" fill="url(#cb4)"/><circle cx="427.1" cy="201.0" r="3.8" fill="url(#cb4)"/>
</g>
<rect x="423.9" y="117.7" width="87.5" height="84.3" fill="none" stroke="#141414" stroke-width="1.3"/>
<line x1="483" y1="187.6" x2="476.6" y2="179.2" stroke="#111" stroke-width="1.35"/>
<path d="M473.9 175.6 L479.6 177.8 L474.6 181.6 Z" fill="#111"/>
<line x1="1.5" y1="1" x2="1.5" y2="456" stroke="#9a9a9a" stroke-width="1"/>
<line x1="1" y1="1.5" x2="519" y2="1.5" stroke="#dadada" stroke-width="1"/>
<line x1="518.5" y1="1" x2="518.5" y2="456" stroke="#d4d4d4" stroke-width="1"/>
<line x1="1" y1="455.5" x2="519" y2="455.5" stroke="#cfcfcf" stroke-width="1"/>
<rect x="0.5" y="0.5" width="519" height="456" fill="none" stroke="#000" stroke-width="1"/>
</svg>
</body></html>
